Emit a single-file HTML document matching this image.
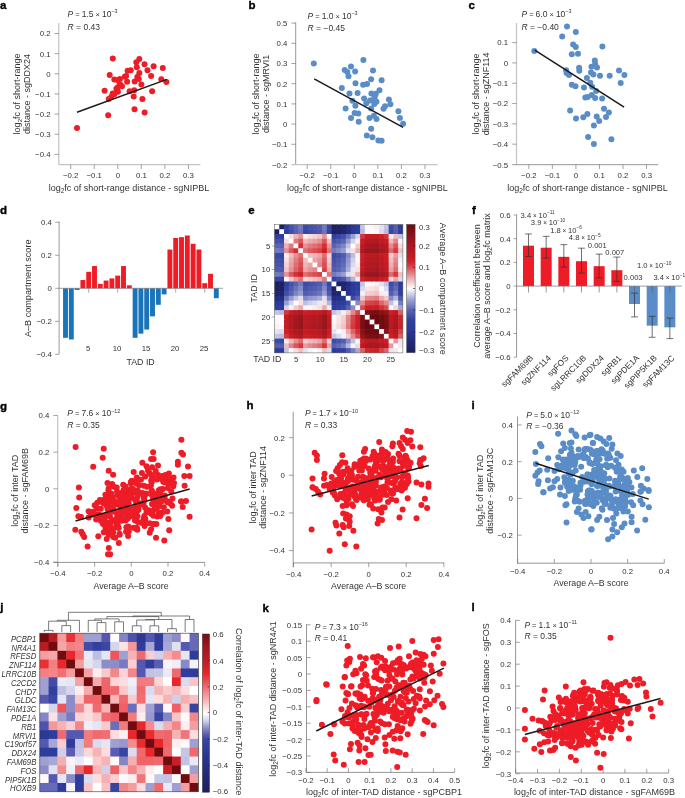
<!DOCTYPE html><html><head><meta charset="utf-8"><style>html,body{margin:0;padding:0;background:#fff;}svg{display:block;will-change:transform;}text{font-family:"Liberation Sans",sans-serif;}</style></head><body>
<svg width="685" height="798" viewBox="0 0 685 798">
<rect width="685" height="798" fill="#fff"/>
<text x="0.00" y="9.30" font-size="11.5" font-weight="bold" fill="#000" stroke="#000" stroke-width="0.35">a</text>
<line x1="58.80" y1="23.00" x2="58.80" y2="164.70" stroke="#c4c4c4" stroke-width="1.2" stroke-linecap="butt"/>
<line x1="58.80" y1="164.70" x2="200.40" y2="164.70" stroke="#c4c4c4" stroke-width="1.2" stroke-linecap="butt"/>
<line x1="54.50" y1="33.50" x2="58.80" y2="33.50" stroke="#666" stroke-width="0.6" stroke-linecap="butt"/>
<text x="50.50" y="36.40" font-size="7.8" text-anchor="end" fill="#333" font-weight="normal" font-style="normal">0.2</text>
<line x1="54.50" y1="53.65" x2="58.80" y2="53.65" stroke="#666" stroke-width="0.6" stroke-linecap="butt"/>
<text x="50.50" y="56.55" font-size="7.8" text-anchor="end" fill="#333" font-weight="normal" font-style="normal">0.1</text>
<line x1="54.50" y1="73.80" x2="58.80" y2="73.80" stroke="#666" stroke-width="0.6" stroke-linecap="butt"/>
<text x="50.50" y="76.70" font-size="7.8" text-anchor="end" fill="#333" font-weight="normal" font-style="normal">0</text>
<line x1="54.50" y1="93.95" x2="58.80" y2="93.95" stroke="#666" stroke-width="0.6" stroke-linecap="butt"/>
<text x="50.50" y="96.85" font-size="7.8" text-anchor="end" fill="#333" font-weight="normal" font-style="normal">−0.1</text>
<line x1="54.50" y1="114.10" x2="58.80" y2="114.10" stroke="#666" stroke-width="0.6" stroke-linecap="butt"/>
<text x="50.50" y="117.00" font-size="7.8" text-anchor="end" fill="#333" font-weight="normal" font-style="normal">−0.2</text>
<line x1="54.50" y1="134.25" x2="58.80" y2="134.25" stroke="#666" stroke-width="0.6" stroke-linecap="butt"/>
<text x="50.50" y="137.15" font-size="7.8" text-anchor="end" fill="#333" font-weight="normal" font-style="normal">−0.3</text>
<line x1="54.50" y1="154.40" x2="58.80" y2="154.40" stroke="#666" stroke-width="0.6" stroke-linecap="butt"/>
<text x="50.50" y="157.30" font-size="7.8" text-anchor="end" fill="#333" font-weight="normal" font-style="normal">−0.4</text>
<line x1="70.70" y1="164.70" x2="70.70" y2="169.00" stroke="#666" stroke-width="0.6" stroke-linecap="butt"/>
<text x="70.70" y="178.30" font-size="7.8" text-anchor="middle" fill="#333" font-weight="normal" font-style="normal">−0.2</text>
<line x1="94.25" y1="164.70" x2="94.25" y2="169.00" stroke="#666" stroke-width="0.6" stroke-linecap="butt"/>
<text x="94.25" y="178.30" font-size="7.8" text-anchor="middle" fill="#333" font-weight="normal" font-style="normal">−0.1</text>
<line x1="117.80" y1="164.70" x2="117.80" y2="169.00" stroke="#666" stroke-width="0.6" stroke-linecap="butt"/>
<text x="117.80" y="178.30" font-size="7.8" text-anchor="middle" fill="#333" font-weight="normal" font-style="normal">0</text>
<line x1="141.35" y1="164.70" x2="141.35" y2="169.00" stroke="#666" stroke-width="0.6" stroke-linecap="butt"/>
<text x="141.35" y="178.30" font-size="7.8" text-anchor="middle" fill="#333" font-weight="normal" font-style="normal">0.1</text>
<line x1="164.90" y1="164.70" x2="164.90" y2="169.00" stroke="#666" stroke-width="0.6" stroke-linecap="butt"/>
<text x="164.90" y="178.30" font-size="7.8" text-anchor="middle" fill="#333" font-weight="normal" font-style="normal">0.2</text>
<line x1="188.45" y1="164.70" x2="188.45" y2="169.00" stroke="#666" stroke-width="0.6" stroke-linecap="butt"/>
<text x="188.45" y="178.30" font-size="7.8" text-anchor="middle" fill="#333" font-weight="normal" font-style="normal">0.3</text>
<text x="67.60" y="17.00" font-size="8.5" text-anchor="start" fill="#333" font-weight="normal" font-style="normal"><tspan font-style="italic">P</tspan><tspan font-size="7.4"> = </tspan>1.5<tspan font-size="7.4"> × </tspan>10<tspan dy="-3.6" font-size="5.4">−3</tspan></text>
<text x="67.60" y="29.80" font-size="8.5" text-anchor="start" fill="#333" font-weight="normal" font-style="normal"><tspan font-style="italic">R</tspan> = 0.43</text>
<circle cx="77.00" cy="128.10" r="3.0" fill="#ed1c26"/>
<circle cx="108.20" cy="115.30" r="3.0" fill="#ed1c26"/>
<circle cx="134.50" cy="109.20" r="3.0" fill="#ed1c26"/>
<circle cx="144.60" cy="112.40" r="3.0" fill="#ed1c26"/>
<circle cx="112.80" cy="58.60" r="3.0" fill="#ed1c26"/>
<circle cx="139.30" cy="59.10" r="3.0" fill="#ed1c26"/>
<circle cx="136.30" cy="62.20" r="3.0" fill="#ed1c26"/>
<circle cx="144.50" cy="64.20" r="3.0" fill="#ed1c26"/>
<circle cx="153.60" cy="66.20" r="3.0" fill="#ed1c26"/>
<circle cx="162.80" cy="68.10" r="3.0" fill="#ed1c26"/>
<circle cx="136.80" cy="67.30" r="3.0" fill="#ed1c26"/>
<circle cx="147.50" cy="70.30" r="3.0" fill="#ed1c26"/>
<circle cx="127.60" cy="70.80" r="3.0" fill="#ed1c26"/>
<circle cx="130.70" cy="70.30" r="3.0" fill="#ed1c26"/>
<circle cx="139.30" cy="72.90" r="3.0" fill="#ed1c26"/>
<circle cx="109.70" cy="74.90" r="3.0" fill="#ed1c26"/>
<circle cx="151.10" cy="75.90" r="3.0" fill="#ed1c26"/>
<circle cx="126.10" cy="76.00" r="3.0" fill="#ed1c26"/>
<circle cx="137.30" cy="77.00" r="3.0" fill="#ed1c26"/>
<circle cx="114.30" cy="79.50" r="3.0" fill="#ed1c26"/>
<circle cx="119.90" cy="79.00" r="3.0" fill="#ed1c26"/>
<circle cx="127.10" cy="81.80" r="3.0" fill="#ed1c26"/>
<circle cx="134.70" cy="81.60" r="3.0" fill="#ed1c26"/>
<circle cx="138.80" cy="79.00" r="3.0" fill="#ed1c26"/>
<circle cx="161.30" cy="79.30" r="3.0" fill="#ed1c26"/>
<circle cx="166.40" cy="82.10" r="3.0" fill="#ed1c26"/>
<circle cx="141.40" cy="84.60" r="3.0" fill="#ed1c26"/>
<circle cx="119.90" cy="84.60" r="3.0" fill="#ed1c26"/>
<circle cx="122.00" cy="86.20" r="3.0" fill="#ed1c26"/>
<circle cx="116.40" cy="88.70" r="3.0" fill="#ed1c26"/>
<circle cx="104.60" cy="90.80" r="3.0" fill="#ed1c26"/>
<circle cx="129.60" cy="91.30" r="3.0" fill="#ed1c26"/>
<circle cx="134.20" cy="90.30" r="3.0" fill="#ed1c26"/>
<circle cx="152.10" cy="91.30" r="3.0" fill="#ed1c26"/>
<circle cx="117.90" cy="91.80" r="3.0" fill="#ed1c26"/>
<circle cx="114.30" cy="94.30" r="3.0" fill="#ed1c26"/>
<circle cx="133.70" cy="96.40" r="3.0" fill="#ed1c26"/>
<circle cx="111.20" cy="96.90" r="3.0" fill="#ed1c26"/>
<circle cx="142.40" cy="99.00" r="3.0" fill="#ed1c26"/>
<circle cx="108.70" cy="99.10" r="3.0" fill="#ed1c26"/>
<circle cx="117.80" cy="80.30" r="3.0" fill="#ed1c26"/>
<circle cx="120.40" cy="84.70" r="3.0" fill="#ed1c26"/>
<circle cx="117.80" cy="87.30" r="3.0" fill="#ed1c26"/>
<circle cx="112.60" cy="93.40" r="3.0" fill="#ed1c26"/>
<circle cx="124.80" cy="76.80" r="3.0" fill="#ed1c26"/>
<line x1="77.00" y1="112.20" x2="166.90" y2="79.40" stroke="#1a1a1a" stroke-width="1.5" stroke-linecap="butt"/>
<text x="248.60" y="9.00" font-size="11.5" font-weight="bold" fill="#000" stroke="#000" stroke-width="0.35">b</text>
<line x1="295.70" y1="22.40" x2="295.70" y2="164.70" stroke="#7c7c7c" stroke-width="0.8" stroke-linecap="butt"/>
<line x1="291.40" y1="164.70" x2="437.60" y2="164.70" stroke="#c4c4c4" stroke-width="1.2" stroke-linecap="butt"/>
<line x1="291.40" y1="23.10" x2="295.70" y2="23.10" stroke="#666" stroke-width="0.6" stroke-linecap="butt"/>
<text x="287.40" y="26.00" font-size="7.8" text-anchor="end" fill="#333" font-weight="normal" font-style="normal">0.5</text>
<line x1="291.40" y1="43.30" x2="295.70" y2="43.30" stroke="#666" stroke-width="0.6" stroke-linecap="butt"/>
<text x="287.40" y="46.20" font-size="7.8" text-anchor="end" fill="#333" font-weight="normal" font-style="normal">0.4</text>
<line x1="291.40" y1="63.50" x2="295.70" y2="63.50" stroke="#666" stroke-width="0.6" stroke-linecap="butt"/>
<text x="287.40" y="66.40" font-size="7.8" text-anchor="end" fill="#333" font-weight="normal" font-style="normal">0.3</text>
<line x1="291.40" y1="83.70" x2="295.70" y2="83.70" stroke="#666" stroke-width="0.6" stroke-linecap="butt"/>
<text x="287.40" y="86.60" font-size="7.8" text-anchor="end" fill="#333" font-weight="normal" font-style="normal">0.2</text>
<line x1="291.40" y1="103.90" x2="295.70" y2="103.90" stroke="#666" stroke-width="0.6" stroke-linecap="butt"/>
<text x="287.40" y="106.80" font-size="7.8" text-anchor="end" fill="#333" font-weight="normal" font-style="normal">0.1</text>
<line x1="291.40" y1="124.10" x2="295.70" y2="124.10" stroke="#666" stroke-width="0.6" stroke-linecap="butt"/>
<text x="287.40" y="127.00" font-size="7.8" text-anchor="end" fill="#333" font-weight="normal" font-style="normal">0</text>
<line x1="291.40" y1="144.30" x2="295.70" y2="144.30" stroke="#666" stroke-width="0.6" stroke-linecap="butt"/>
<text x="287.40" y="147.20" font-size="7.8" text-anchor="end" fill="#333" font-weight="normal" font-style="normal">−0.1</text>
<line x1="307.20" y1="164.70" x2="307.20" y2="169.00" stroke="#666" stroke-width="0.6" stroke-linecap="butt"/>
<text x="307.20" y="178.30" font-size="7.8" text-anchor="middle" fill="#333" font-weight="normal" font-style="normal">−0.2</text>
<line x1="330.75" y1="164.70" x2="330.75" y2="169.00" stroke="#666" stroke-width="0.6" stroke-linecap="butt"/>
<text x="330.75" y="178.30" font-size="7.8" text-anchor="middle" fill="#333" font-weight="normal" font-style="normal">−0.1</text>
<line x1="354.30" y1="164.70" x2="354.30" y2="169.00" stroke="#666" stroke-width="0.6" stroke-linecap="butt"/>
<text x="354.30" y="178.30" font-size="7.8" text-anchor="middle" fill="#333" font-weight="normal" font-style="normal">0</text>
<line x1="377.85" y1="164.70" x2="377.85" y2="169.00" stroke="#666" stroke-width="0.6" stroke-linecap="butt"/>
<text x="377.85" y="178.30" font-size="7.8" text-anchor="middle" fill="#333" font-weight="normal" font-style="normal">0.1</text>
<line x1="401.40" y1="164.70" x2="401.40" y2="169.00" stroke="#666" stroke-width="0.6" stroke-linecap="butt"/>
<text x="401.40" y="178.30" font-size="7.8" text-anchor="middle" fill="#333" font-weight="normal" font-style="normal">0.2</text>
<line x1="424.95" y1="164.70" x2="424.95" y2="169.00" stroke="#666" stroke-width="0.6" stroke-linecap="butt"/>
<text x="424.95" y="178.30" font-size="7.8" text-anchor="middle" fill="#333" font-weight="normal" font-style="normal">0.3</text>
<text x="287.40" y="167.60" font-size="7.8" text-anchor="end" fill="#333" font-weight="normal" font-style="normal">−0.2</text>
<text x="307.60" y="18.80" font-size="8.5" text-anchor="start" fill="#333" font-weight="normal" font-style="normal"><tspan font-style="italic">P</tspan><tspan font-size="7.4"> = </tspan>1.0<tspan font-size="7.4"> × </tspan>10<tspan dy="-3.6" font-size="5.4">−3</tspan></text>
<text x="307.60" y="31.40" font-size="8.5" text-anchor="start" fill="#333" font-weight="normal" font-style="normal"><tspan font-style="italic">R</tspan> = −0.45</text>
<circle cx="313.80" cy="63.60" r="3.0" fill="#5a8dc7"/>
<circle cx="363.40" cy="59.90" r="3.0" fill="#5a8dc7"/>
<circle cx="351.00" cy="66.40" r="3.0" fill="#5a8dc7"/>
<circle cx="344.70" cy="70.10" r="3.0" fill="#5a8dc7"/>
<circle cx="347.30" cy="71.90" r="3.0" fill="#5a8dc7"/>
<circle cx="355.10" cy="71.50" r="3.0" fill="#5a8dc7"/>
<circle cx="373.00" cy="70.40" r="3.0" fill="#5a8dc7"/>
<circle cx="348.50" cy="76.30" r="3.0" fill="#5a8dc7"/>
<circle cx="371.10" cy="79.20" r="3.0" fill="#5a8dc7"/>
<circle cx="381.60" cy="80.20" r="3.0" fill="#5a8dc7"/>
<circle cx="355.50" cy="83.30" r="3.0" fill="#5a8dc7"/>
<circle cx="363.10" cy="84.70" r="3.0" fill="#5a8dc7"/>
<circle cx="367.00" cy="83.90" r="3.0" fill="#5a8dc7"/>
<circle cx="341.80" cy="88.00" r="3.0" fill="#5a8dc7"/>
<circle cx="379.50" cy="90.30" r="3.0" fill="#5a8dc7"/>
<circle cx="349.50" cy="93.50" r="3.0" fill="#5a8dc7"/>
<circle cx="357.60" cy="93.10" r="3.0" fill="#5a8dc7"/>
<circle cx="371.40" cy="93.40" r="3.0" fill="#5a8dc7"/>
<circle cx="375.80" cy="93.80" r="3.0" fill="#5a8dc7"/>
<circle cx="374.80" cy="96.70" r="3.0" fill="#5a8dc7"/>
<circle cx="364.10" cy="98.60" r="3.0" fill="#5a8dc7"/>
<circle cx="352.40" cy="100.80" r="3.0" fill="#5a8dc7"/>
<circle cx="370.00" cy="100.40" r="3.0" fill="#5a8dc7"/>
<circle cx="373.60" cy="99.60" r="3.0" fill="#5a8dc7"/>
<circle cx="376.50" cy="101.80" r="3.0" fill="#5a8dc7"/>
<circle cx="388.90" cy="99.60" r="3.0" fill="#5a8dc7"/>
<circle cx="366.30" cy="103.30" r="3.0" fill="#5a8dc7"/>
<circle cx="374.30" cy="104.00" r="3.0" fill="#5a8dc7"/>
<circle cx="390.40" cy="104.30" r="3.0" fill="#5a8dc7"/>
<circle cx="355.40" cy="105.80" r="3.0" fill="#5a8dc7"/>
<circle cx="385.00" cy="106.20" r="3.0" fill="#5a8dc7"/>
<circle cx="345.60" cy="108.40" r="3.0" fill="#5a8dc7"/>
<circle cx="383.50" cy="108.70" r="3.0" fill="#5a8dc7"/>
<circle cx="371.10" cy="108.40" r="3.0" fill="#5a8dc7"/>
<circle cx="398.40" cy="111.30" r="3.0" fill="#5a8dc7"/>
<circle cx="354.60" cy="113.10" r="3.0" fill="#5a8dc7"/>
<circle cx="358.30" cy="113.50" r="3.0" fill="#5a8dc7"/>
<circle cx="373.90" cy="115.70" r="3.0" fill="#5a8dc7"/>
<circle cx="369.50" cy="117.90" r="3.0" fill="#5a8dc7"/>
<circle cx="376.50" cy="118.90" r="3.0" fill="#5a8dc7"/>
<circle cx="351.00" cy="117.90" r="3.0" fill="#5a8dc7"/>
<circle cx="399.90" cy="117.90" r="3.0" fill="#5a8dc7"/>
<circle cx="358.70" cy="121.80" r="3.0" fill="#5a8dc7"/>
<circle cx="403.10" cy="123.70" r="3.0" fill="#5a8dc7"/>
<circle cx="371.10" cy="128.80" r="3.0" fill="#5a8dc7"/>
<circle cx="366.80" cy="135.40" r="3.0" fill="#5a8dc7"/>
<circle cx="372.40" cy="137.20" r="3.0" fill="#5a8dc7"/>
<circle cx="378.40" cy="140.50" r="3.0" fill="#5a8dc7"/>
<circle cx="381.60" cy="140.80" r="3.0" fill="#5a8dc7"/>
<line x1="314.20" y1="78.80" x2="403.10" y2="127.40" stroke="#1a1a1a" stroke-width="1.5" stroke-linecap="butt"/>
<text x="468.60" y="9.30" font-size="11.5" font-weight="bold" fill="#000" stroke="#000" stroke-width="0.35">c</text>
<line x1="516.50" y1="23.00" x2="516.50" y2="164.70" stroke="#c4c4c4" stroke-width="1.2" stroke-linecap="butt"/>
<line x1="512.20" y1="164.70" x2="658.20" y2="164.70" stroke="#7c7c7c" stroke-width="0.8" stroke-linecap="butt"/>
<line x1="512.20" y1="42.58" x2="516.50" y2="42.58" stroke="#666" stroke-width="0.6" stroke-linecap="butt"/>
<text x="508.20" y="45.48" font-size="7.8" text-anchor="end" fill="#333" font-weight="normal" font-style="normal">0.1</text>
<line x1="512.20" y1="62.90" x2="516.50" y2="62.90" stroke="#666" stroke-width="0.6" stroke-linecap="butt"/>
<text x="508.20" y="65.80" font-size="7.8" text-anchor="end" fill="#333" font-weight="normal" font-style="normal">0</text>
<line x1="512.20" y1="83.22" x2="516.50" y2="83.22" stroke="#666" stroke-width="0.6" stroke-linecap="butt"/>
<text x="508.20" y="86.12" font-size="7.8" text-anchor="end" fill="#333" font-weight="normal" font-style="normal">−0.1</text>
<line x1="512.20" y1="103.54" x2="516.50" y2="103.54" stroke="#666" stroke-width="0.6" stroke-linecap="butt"/>
<text x="508.20" y="106.44" font-size="7.8" text-anchor="end" fill="#333" font-weight="normal" font-style="normal">−0.2</text>
<line x1="512.20" y1="123.86" x2="516.50" y2="123.86" stroke="#666" stroke-width="0.6" stroke-linecap="butt"/>
<text x="508.20" y="126.76" font-size="7.8" text-anchor="end" fill="#333" font-weight="normal" font-style="normal">−0.3</text>
<line x1="512.20" y1="144.18" x2="516.50" y2="144.18" stroke="#666" stroke-width="0.6" stroke-linecap="butt"/>
<text x="508.20" y="147.08" font-size="7.8" text-anchor="end" fill="#333" font-weight="normal" font-style="normal">−0.4</text>
<line x1="528.80" y1="164.70" x2="528.80" y2="169.00" stroke="#666" stroke-width="0.6" stroke-linecap="butt"/>
<text x="528.80" y="178.30" font-size="7.8" text-anchor="middle" fill="#333" font-weight="normal" font-style="normal">−0.2</text>
<line x1="552.35" y1="164.70" x2="552.35" y2="169.00" stroke="#666" stroke-width="0.6" stroke-linecap="butt"/>
<text x="552.35" y="178.30" font-size="7.8" text-anchor="middle" fill="#333" font-weight="normal" font-style="normal">−0.1</text>
<line x1="575.90" y1="164.70" x2="575.90" y2="169.00" stroke="#666" stroke-width="0.6" stroke-linecap="butt"/>
<text x="575.90" y="178.30" font-size="7.8" text-anchor="middle" fill="#333" font-weight="normal" font-style="normal">0</text>
<line x1="599.45" y1="164.70" x2="599.45" y2="169.00" stroke="#666" stroke-width="0.6" stroke-linecap="butt"/>
<text x="599.45" y="178.30" font-size="7.8" text-anchor="middle" fill="#333" font-weight="normal" font-style="normal">0.1</text>
<line x1="623.00" y1="164.70" x2="623.00" y2="169.00" stroke="#666" stroke-width="0.6" stroke-linecap="butt"/>
<text x="623.00" y="178.30" font-size="7.8" text-anchor="middle" fill="#333" font-weight="normal" font-style="normal">0.2</text>
<line x1="646.55" y1="164.70" x2="646.55" y2="169.00" stroke="#666" stroke-width="0.6" stroke-linecap="butt"/>
<text x="646.55" y="178.30" font-size="7.8" text-anchor="middle" fill="#333" font-weight="normal" font-style="normal">0.3</text>
<text x="508.20" y="167.60" font-size="7.8" text-anchor="end" fill="#333" font-weight="normal" font-style="normal">−0.5</text>
<text x="521.50" y="17.00" font-size="8.5" text-anchor="start" fill="#333" font-weight="normal" font-style="normal"><tspan font-style="italic">P</tspan><tspan font-size="7.4"> = </tspan>6.0<tspan font-size="7.4"> × </tspan>10<tspan dy="-3.6" font-size="5.4">−3</tspan></text>
<text x="521.50" y="29.80" font-size="8.5" text-anchor="start" fill="#333" font-weight="normal" font-style="normal"><tspan font-style="italic">R</tspan> = −0.40</text>
<circle cx="567.00" cy="26.50" r="3.0" fill="#5a8dc7"/>
<circle cx="575.80" cy="31.90" r="3.0" fill="#5a8dc7"/>
<circle cx="562.20" cy="36.60" r="3.0" fill="#5a8dc7"/>
<circle cx="534.30" cy="51.00" r="3.0" fill="#5a8dc7"/>
<circle cx="573.10" cy="44.40" r="3.0" fill="#5a8dc7"/>
<circle cx="575.80" cy="46.90" r="3.0" fill="#5a8dc7"/>
<circle cx="602.40" cy="46.40" r="3.0" fill="#5a8dc7"/>
<circle cx="571.80" cy="54.20" r="3.0" fill="#5a8dc7"/>
<circle cx="578.00" cy="53.70" r="3.0" fill="#5a8dc7"/>
<circle cx="594.80" cy="60.40" r="3.0" fill="#5a8dc7"/>
<circle cx="595.10" cy="64.00" r="3.0" fill="#5a8dc7"/>
<circle cx="591.50" cy="66.80" r="3.0" fill="#5a8dc7"/>
<circle cx="597.00" cy="67.60" r="3.0" fill="#5a8dc7"/>
<circle cx="579.10" cy="67.80" r="3.0" fill="#5a8dc7"/>
<circle cx="579.30" cy="70.80" r="3.0" fill="#5a8dc7"/>
<circle cx="566.10" cy="70.20" r="3.0" fill="#5a8dc7"/>
<circle cx="566.60" cy="73.00" r="3.0" fill="#5a8dc7"/>
<circle cx="569.00" cy="75.10" r="3.0" fill="#5a8dc7"/>
<circle cx="591.00" cy="72.50" r="3.0" fill="#5a8dc7"/>
<circle cx="593.40" cy="74.60" r="3.0" fill="#5a8dc7"/>
<circle cx="600.00" cy="75.70" r="3.0" fill="#5a8dc7"/>
<circle cx="609.70" cy="75.70" r="3.0" fill="#5a8dc7"/>
<circle cx="619.00" cy="70.50" r="3.0" fill="#5a8dc7"/>
<circle cx="624.40" cy="75.10" r="3.0" fill="#5a8dc7"/>
<circle cx="586.90" cy="77.90" r="3.0" fill="#5a8dc7"/>
<circle cx="620.70" cy="83.10" r="3.0" fill="#5a8dc7"/>
<circle cx="590.20" cy="82.70" r="3.0" fill="#5a8dc7"/>
<circle cx="571.80" cy="84.70" r="3.0" fill="#5a8dc7"/>
<circle cx="575.50" cy="86.30" r="3.0" fill="#5a8dc7"/>
<circle cx="584.00" cy="87.60" r="3.0" fill="#5a8dc7"/>
<circle cx="592.10" cy="86.80" r="3.0" fill="#5a8dc7"/>
<circle cx="596.20" cy="90.90" r="3.0" fill="#5a8dc7"/>
<circle cx="591.80" cy="95.00" r="3.0" fill="#5a8dc7"/>
<circle cx="585.30" cy="97.40" r="3.0" fill="#5a8dc7"/>
<circle cx="587.70" cy="96.90" r="3.0" fill="#5a8dc7"/>
<circle cx="595.10" cy="97.90" r="3.0" fill="#5a8dc7"/>
<circle cx="602.10" cy="98.60" r="3.0" fill="#5a8dc7"/>
<circle cx="604.00" cy="108.80" r="3.0" fill="#5a8dc7"/>
<circle cx="608.90" cy="112.40" r="3.0" fill="#5a8dc7"/>
<circle cx="570.10" cy="110.40" r="3.0" fill="#5a8dc7"/>
<circle cx="587.40" cy="114.00" r="3.0" fill="#5a8dc7"/>
<circle cx="583.30" cy="117.30" r="3.0" fill="#5a8dc7"/>
<circle cx="576.00" cy="118.60" r="3.0" fill="#5a8dc7"/>
<circle cx="596.70" cy="116.50" r="3.0" fill="#5a8dc7"/>
<circle cx="599.20" cy="121.00" r="3.0" fill="#5a8dc7"/>
<circle cx="606.00" cy="117.00" r="3.0" fill="#5a8dc7"/>
<circle cx="593.90" cy="125.40" r="3.0" fill="#5a8dc7"/>
<circle cx="588.10" cy="136.90" r="3.0" fill="#5a8dc7"/>
<circle cx="611.40" cy="139.30" r="3.0" fill="#5a8dc7"/>
<circle cx="593.90" cy="143.90" r="3.0" fill="#5a8dc7"/>
<line x1="534.80" y1="50.10" x2="624.10" y2="107.20" stroke="#1a1a1a" stroke-width="1.5" stroke-linecap="butt"/>
<text x="19.70" y="93.90" font-size="9.0" text-anchor="middle" fill="#333" font-weight="normal" font-style="normal" transform="rotate(-90 19.70 93.90)">log<tspan dy="2" font-size="6.12">2</tspan><tspan dy="-2">fc</tspan> of short-range</text>
<text x="29.70" y="93.90" font-size="9.0" text-anchor="middle" fill="#333" font-weight="normal" font-style="normal" transform="rotate(-90 29.70 93.90)">distance - sgDDX24</text>
<text x="259.00" y="93.90" font-size="9.0" text-anchor="middle" fill="#333" font-weight="normal" font-style="normal" transform="rotate(-90 259.00 93.90)">log<tspan dy="2" font-size="6.12">2</tspan><tspan dy="-2">fc</tspan> of short-range</text>
<text x="269.00" y="93.90" font-size="9.0" text-anchor="middle" fill="#333" font-weight="normal" font-style="normal" transform="rotate(-90 269.00 93.90)">distance - sgMRVI1</text>
<text x="479.00" y="93.90" font-size="9.0" text-anchor="middle" fill="#333" font-weight="normal" font-style="normal" transform="rotate(-90 479.00 93.90)">log<tspan dy="2" font-size="6.12">2</tspan><tspan dy="-2">fc</tspan> of short-range</text>
<text x="489.00" y="93.90" font-size="9.0" text-anchor="middle" fill="#333" font-weight="normal" font-style="normal" transform="rotate(-90 489.00 93.90)">distance - sgZNF114</text>
<text x="129.00" y="191.00" font-size="9.0" text-anchor="middle" fill="#333" font-weight="normal" font-style="normal">log<tspan dy="2" font-size="6.48">2</tspan><tspan dy="-2">fc</tspan> of short-range distance - sgNIPBL</text>
<text x="367.40" y="191.00" font-size="9.0" text-anchor="middle" fill="#333" font-weight="normal" font-style="normal">log<tspan dy="2" font-size="6.48">2</tspan><tspan dy="-2">fc</tspan> of short-range distance - sgNIPBL</text>
<text x="587.50" y="191.00" font-size="9.0" text-anchor="middle" fill="#333" font-weight="normal" font-style="normal">log<tspan dy="2" font-size="6.48">2</tspan><tspan dy="-2">fc</tspan> of short-range distance - sgNIPBL</text>
<text x="0.00" y="213.80" font-size="11.5" font-weight="bold" fill="#000" stroke="#000" stroke-width="0.35">d</text>
<line x1="59.10" y1="221.30" x2="59.10" y2="354.30" stroke="#8a8a8a" stroke-width="0.85" stroke-linecap="butt"/>
<line x1="55.20" y1="222.30" x2="59.10" y2="222.30" stroke="#666" stroke-width="0.6" stroke-linecap="butt"/>
<text x="51.90" y="225.20" font-size="7.8" text-anchor="end" fill="#333" font-weight="normal" font-style="normal">0.4</text>
<line x1="55.20" y1="255.30" x2="59.10" y2="255.30" stroke="#666" stroke-width="0.6" stroke-linecap="butt"/>
<text x="51.90" y="258.20" font-size="7.8" text-anchor="end" fill="#333" font-weight="normal" font-style="normal">0.2</text>
<line x1="55.20" y1="288.30" x2="59.10" y2="288.30" stroke="#666" stroke-width="0.6" stroke-linecap="butt"/>
<text x="51.90" y="291.20" font-size="7.8" text-anchor="end" fill="#333" font-weight="normal" font-style="normal">0</text>
<line x1="55.20" y1="321.30" x2="59.10" y2="321.30" stroke="#666" stroke-width="0.6" stroke-linecap="butt"/>
<text x="51.90" y="324.20" font-size="7.8" text-anchor="end" fill="#333" font-weight="normal" font-style="normal">−0.2</text>
<line x1="55.20" y1="354.30" x2="59.10" y2="354.30" stroke="#666" stroke-width="0.6" stroke-linecap="butt"/>
<text x="51.90" y="357.20" font-size="7.8" text-anchor="end" fill="#333" font-weight="normal" font-style="normal">−0.4</text>
<rect x="63.05" y="288.30" width="4.90" height="49.50" fill="#1a74ba"/>
<rect x="68.85" y="288.30" width="4.90" height="51.15" fill="#1a74ba"/>
<rect x="74.65" y="288.30" width="4.90" height="1.65" fill="#1a74ba"/>
<rect x="80.45" y="280.05" width="4.90" height="8.25" fill="#ed1c26"/>
<rect x="86.25" y="271.80" width="4.90" height="16.50" fill="#ed1c26"/>
<rect x="92.05" y="266.03" width="4.90" height="22.27" fill="#ed1c26"/>
<rect x="97.85" y="283.85" width="4.90" height="4.45" fill="#ed1c26"/>
<rect x="103.65" y="280.55" width="4.90" height="7.75" fill="#ed1c26"/>
<rect x="109.45" y="278.40" width="4.90" height="9.90" fill="#ed1c26"/>
<rect x="115.25" y="275.60" width="4.90" height="12.70" fill="#ed1c26"/>
<rect x="121.05" y="266.03" width="4.90" height="22.27" fill="#ed1c26"/>
<rect x="126.85" y="285.33" width="4.90" height="2.97" fill="#ed1c26"/>
<rect x="132.65" y="288.30" width="4.90" height="49.50" fill="#1a74ba"/>
<rect x="138.45" y="288.30" width="4.90" height="45.38" fill="#1a74ba"/>
<rect x="144.25" y="288.30" width="4.90" height="41.25" fill="#1a74ba"/>
<rect x="150.05" y="288.30" width="4.90" height="28.05" fill="#1a74ba"/>
<rect x="155.85" y="288.30" width="4.90" height="16.50" fill="#1a74ba"/>
<rect x="161.65" y="288.30" width="4.90" height="6.11" fill="#1a74ba"/>
<rect x="167.45" y="249.53" width="4.90" height="38.78" fill="#ed1c26"/>
<rect x="173.25" y="237.98" width="4.90" height="50.32" fill="#ed1c26"/>
<rect x="179.05" y="237.15" width="4.90" height="51.15" fill="#ed1c26"/>
<rect x="184.85" y="235.50" width="4.90" height="52.80" fill="#ed1c26"/>
<rect x="190.65" y="243.75" width="4.90" height="44.55" fill="#ed1c26"/>
<rect x="196.45" y="249.53" width="4.90" height="38.78" fill="#ed1c26"/>
<rect x="202.25" y="283.19" width="4.90" height="5.12" fill="#ed1c26"/>
<rect x="208.05" y="273.78" width="4.90" height="14.52" fill="#ed1c26"/>
<rect x="213.85" y="288.30" width="4.90" height="9.90" fill="#1a74ba"/>
<line x1="59.10" y1="288.30" x2="222.90" y2="288.30" stroke="#777" stroke-width="0.7" stroke-linecap="butt"/>
<line x1="88.70" y1="288.30" x2="88.70" y2="292.80" stroke="#777" stroke-width="0.6" stroke-linecap="butt"/>
<text x="88.10" y="351.20" font-size="7.8" text-anchor="middle" fill="#333" font-weight="normal" font-style="normal">5</text>
<line x1="117.70" y1="288.30" x2="117.70" y2="292.80" stroke="#777" stroke-width="0.6" stroke-linecap="butt"/>
<text x="117.10" y="351.20" font-size="7.8" text-anchor="middle" fill="#333" font-weight="normal" font-style="normal">10</text>
<line x1="146.70" y1="288.30" x2="146.70" y2="292.80" stroke="#777" stroke-width="0.6" stroke-linecap="butt"/>
<text x="146.10" y="351.20" font-size="7.8" text-anchor="middle" fill="#333" font-weight="normal" font-style="normal">15</text>
<line x1="175.70" y1="288.30" x2="175.70" y2="292.80" stroke="#777" stroke-width="0.6" stroke-linecap="butt"/>
<text x="175.10" y="351.20" font-size="7.8" text-anchor="middle" fill="#333" font-weight="normal" font-style="normal">20</text>
<line x1="204.70" y1="288.30" x2="204.70" y2="292.80" stroke="#777" stroke-width="0.6" stroke-linecap="butt"/>
<text x="204.10" y="351.20" font-size="7.8" text-anchor="middle" fill="#333" font-weight="normal" font-style="normal">25</text>
<text x="140.60" y="365.00" font-size="8.8" text-anchor="middle" fill="#333" font-weight="normal" font-style="normal">TAD ID</text>
<text x="30.90" y="288.30" font-size="9.1" text-anchor="middle" fill="#333" font-weight="normal" font-style="normal" transform="rotate(-90 30.90 288.30)">A–B compartment score</text>
<text x="248.30" y="214.40" font-size="11.5" font-weight="bold" fill="#000" stroke="#000" stroke-width="0.35">e</text>
<rect x="274.50" y="224.50" width="5.36" height="5.36" fill="#ffffff"/>
<rect x="279.26" y="224.50" width="5.36" height="5.36" fill="#1c2060"/>
<rect x="284.01" y="224.50" width="5.36" height="5.36" fill="#2f3f9f"/>
<rect x="288.77" y="224.50" width="5.36" height="5.36" fill="#4552aa"/>
<rect x="293.52" y="224.50" width="5.36" height="5.36" fill="#5963b4"/>
<rect x="298.28" y="224.50" width="5.36" height="5.36" fill="#727abf"/>
<rect x="303.03" y="224.50" width="5.36" height="5.36" fill="#3b4aa5"/>
<rect x="307.79" y="224.50" width="5.36" height="5.36" fill="#4351a9"/>
<rect x="312.54" y="224.50" width="5.36" height="5.36" fill="#4955ac"/>
<rect x="317.30" y="224.50" width="5.36" height="5.36" fill="#505baf"/>
<rect x="322.06" y="224.50" width="5.36" height="5.36" fill="#727abf"/>
<rect x="326.81" y="224.50" width="5.36" height="5.36" fill="#3746a4"/>
<rect x="331.57" y="224.50" width="5.36" height="5.36" fill="#1c2060"/>
<rect x="336.32" y="224.50" width="5.36" height="5.36" fill="#1d2266"/>
<rect x="341.08" y="224.50" width="5.36" height="5.36" fill="#1f256c"/>
<rect x="345.83" y="224.50" width="5.36" height="5.36" fill="#242e81"/>
<rect x="350.59" y="224.50" width="5.36" height="5.36" fill="#2a3898"/>
<rect x="355.34" y="224.50" width="5.36" height="5.36" fill="#2e3d9d"/>
<rect x="360.10" y="224.50" width="5.36" height="5.36" fill="#c2c5e4"/>
<rect x="364.86" y="224.50" width="5.36" height="5.36" fill="#fefbfb"/>
<rect x="369.61" y="224.50" width="5.36" height="5.36" fill="#fdf6f7"/>
<rect x="374.37" y="224.50" width="5.36" height="5.36" fill="#fbeeee"/>
<rect x="379.12" y="224.50" width="5.36" height="5.36" fill="#e3e4f2"/>
<rect x="383.88" y="224.50" width="5.36" height="5.36" fill="#c2c5e4"/>
<rect x="388.63" y="224.50" width="5.36" height="5.36" fill="#3d4ba6"/>
<rect x="393.39" y="224.50" width="5.36" height="5.36" fill="#545fb1"/>
<rect x="398.14" y="224.50" width="4.76" height="5.36" fill="#2c3b9b"/>
<rect x="274.50" y="229.26" width="5.36" height="5.36" fill="#1c2060"/>
<rect x="279.26" y="229.26" width="5.36" height="5.36" fill="#ffffff"/>
<rect x="284.01" y="229.26" width="5.36" height="5.36" fill="#2f3e9e"/>
<rect x="288.77" y="229.26" width="5.36" height="5.36" fill="#404ea8"/>
<rect x="293.52" y="229.26" width="5.36" height="5.36" fill="#5560b2"/>
<rect x="298.28" y="229.26" width="5.36" height="5.36" fill="#6b73bc"/>
<rect x="303.03" y="229.26" width="5.36" height="5.36" fill="#3746a3"/>
<rect x="307.79" y="229.26" width="5.36" height="5.36" fill="#3f4da7"/>
<rect x="312.54" y="229.26" width="5.36" height="5.36" fill="#4552aa"/>
<rect x="317.30" y="229.26" width="5.36" height="5.36" fill="#4c58ad"/>
<rect x="322.06" y="229.26" width="5.36" height="5.36" fill="#6b73bc"/>
<rect x="326.81" y="229.26" width="5.36" height="5.36" fill="#3343a2"/>
<rect x="331.57" y="229.26" width="5.36" height="5.36" fill="#1c2060"/>
<rect x="336.32" y="229.26" width="5.36" height="5.36" fill="#1d2164"/>
<rect x="341.08" y="229.26" width="5.36" height="5.36" fill="#1e2469"/>
<rect x="345.83" y="229.26" width="5.36" height="5.36" fill="#242d7e"/>
<rect x="350.59" y="229.26" width="5.36" height="5.36" fill="#293795"/>
<rect x="355.34" y="229.26" width="5.36" height="5.36" fill="#2d3c9c"/>
<rect x="360.10" y="229.26" width="5.36" height="5.36" fill="#b9bcdf"/>
<rect x="364.86" y="229.26" width="5.36" height="5.36" fill="#fafbfd"/>
<rect x="369.61" y="229.26" width="5.36" height="5.36" fill="#ffffff"/>
<rect x="374.37" y="229.26" width="5.36" height="5.36" fill="#fdf6f7"/>
<rect x="379.12" y="229.26" width="5.36" height="5.36" fill="#dadbee"/>
<rect x="383.88" y="229.26" width="5.36" height="5.36" fill="#b9bcdf"/>
<rect x="388.63" y="229.26" width="5.36" height="5.36" fill="#3947a4"/>
<rect x="393.39" y="229.26" width="5.36" height="5.36" fill="#505caf"/>
<rect x="398.14" y="229.26" width="4.76" height="5.36" fill="#2c3b9b"/>
<rect x="274.50" y="234.01" width="5.36" height="5.36" fill="#2f3f9f"/>
<rect x="279.26" y="234.01" width="5.36" height="5.36" fill="#2f3e9e"/>
<rect x="284.01" y="234.01" width="5.36" height="5.36" fill="#ffffff"/>
<rect x="288.77" y="234.01" width="5.36" height="5.36" fill="#f7ddde"/>
<rect x="293.52" y="234.01" width="5.36" height="5.36" fill="#ecb2b4"/>
<rect x="298.28" y="234.01" width="5.36" height="5.36" fill="#e69194"/>
<rect x="303.03" y="234.01" width="5.36" height="5.36" fill="#fcf0f1"/>
<rect x="307.79" y="234.01" width="5.36" height="5.36" fill="#f7dfe0"/>
<rect x="312.54" y="234.01" width="5.36" height="5.36" fill="#f5d4d5"/>
<rect x="317.30" y="234.01" width="5.36" height="5.36" fill="#f1c6c7"/>
<rect x="322.06" y="234.01" width="5.36" height="5.36" fill="#e69194"/>
<rect x="326.81" y="234.01" width="5.36" height="5.36" fill="#fdf8f8"/>
<rect x="331.57" y="234.01" width="5.36" height="5.36" fill="#2f3f9f"/>
<rect x="336.32" y="234.01" width="5.36" height="5.36" fill="#3645a3"/>
<rect x="341.08" y="234.01" width="5.36" height="5.36" fill="#404ea8"/>
<rect x="345.83" y="234.01" width="5.36" height="5.36" fill="#6770ba"/>
<rect x="350.59" y="234.01" width="5.36" height="5.36" fill="#9a9fd1"/>
<rect x="355.34" y="234.01" width="5.36" height="5.36" fill="#d3d5eb"/>
<rect x="360.10" y="234.01" width="5.36" height="5.36" fill="#d4353c"/>
<rect x="364.86" y="234.01" width="5.36" height="5.36" fill="#c51c24"/>
<rect x="369.61" y="234.01" width="5.36" height="5.36" fill="#c41c24"/>
<rect x="374.37" y="234.01" width="5.36" height="5.36" fill="#c11c24"/>
<rect x="379.12" y="234.01" width="5.36" height="5.36" fill="#ce1f27"/>
<rect x="383.88" y="234.01" width="5.36" height="5.36" fill="#d4353c"/>
<rect x="388.63" y="234.01" width="5.36" height="5.36" fill="#fbedee"/>
<rect x="393.39" y="234.01" width="5.36" height="5.36" fill="#efbcbe"/>
<rect x="398.14" y="234.01" width="4.76" height="5.36" fill="#bec1e1"/>
<rect x="274.50" y="238.77" width="5.36" height="5.36" fill="#4552aa"/>
<rect x="279.26" y="238.77" width="5.36" height="5.36" fill="#404ea8"/>
<rect x="284.01" y="238.77" width="5.36" height="5.36" fill="#f7ddde"/>
<rect x="288.77" y="238.77" width="5.36" height="5.36" fill="#ffffff"/>
<rect x="293.52" y="238.77" width="5.36" height="5.36" fill="#e1797d"/>
<rect x="298.28" y="238.77" width="5.36" height="5.36" fill="#da575c"/>
<rect x="303.03" y="238.77" width="5.36" height="5.36" fill="#efbdbf"/>
<rect x="307.79" y="238.77" width="5.36" height="5.36" fill="#ebacae"/>
<rect x="312.54" y="238.77" width="5.36" height="5.36" fill="#e8a0a2"/>
<rect x="317.30" y="238.77" width="5.36" height="5.36" fill="#e59093"/>
<rect x="322.06" y="238.77" width="5.36" height="5.36" fill="#da575c"/>
<rect x="326.81" y="238.77" width="5.36" height="5.36" fill="#f1c5c6"/>
<rect x="331.57" y="238.77" width="5.36" height="5.36" fill="#4552aa"/>
<rect x="336.32" y="238.77" width="5.36" height="5.36" fill="#4f5aaf"/>
<rect x="341.08" y="238.77" width="5.36" height="5.36" fill="#5963b4"/>
<rect x="345.83" y="238.77" width="5.36" height="5.36" fill="#9398ce"/>
<rect x="350.59" y="238.77" width="5.36" height="5.36" fill="#d0d2ea"/>
<rect x="355.34" y="238.77" width="5.36" height="5.36" fill="#fcf4f4"/>
<rect x="360.10" y="238.77" width="5.36" height="5.36" fill="#c81d25"/>
<rect x="364.86" y="238.77" width="5.36" height="5.36" fill="#b51a22"/>
<rect x="369.61" y="238.77" width="5.36" height="5.36" fill="#b41a22"/>
<rect x="374.37" y="238.77" width="5.36" height="5.36" fill="#b11921"/>
<rect x="379.12" y="238.77" width="5.36" height="5.36" fill="#bf1b23"/>
<rect x="383.88" y="238.77" width="5.36" height="5.36" fill="#c81d25"/>
<rect x="388.63" y="238.77" width="5.36" height="5.36" fill="#eebabc"/>
<rect x="393.39" y="238.77" width="5.36" height="5.36" fill="#e38588"/>
<rect x="398.14" y="238.77" width="4.76" height="5.36" fill="#f6f6fb"/>
<rect x="274.50" y="243.52" width="5.36" height="5.36" fill="#5963b4"/>
<rect x="279.26" y="243.52" width="5.36" height="5.36" fill="#5560b2"/>
<rect x="284.01" y="243.52" width="5.36" height="5.36" fill="#ecb2b4"/>
<rect x="288.77" y="243.52" width="5.36" height="5.36" fill="#e1797d"/>
<rect x="293.52" y="243.52" width="5.36" height="5.36" fill="#ffffff"/>
<rect x="298.28" y="243.52" width="5.36" height="5.36" fill="#d32d35"/>
<rect x="303.03" y="243.52" width="5.36" height="5.36" fill="#e59093"/>
<rect x="307.79" y="243.52" width="5.36" height="5.36" fill="#e27c80"/>
<rect x="312.54" y="243.52" width="5.36" height="5.36" fill="#df6f74"/>
<rect x="317.30" y="243.52" width="5.36" height="5.36" fill="#dc5f64"/>
<rect x="322.06" y="243.52" width="5.36" height="5.36" fill="#d32d35"/>
<rect x="326.81" y="243.52" width="5.36" height="5.36" fill="#e7989b"/>
<rect x="331.57" y="243.52" width="5.36" height="5.36" fill="#5963b4"/>
<rect x="336.32" y="243.52" width="5.36" height="5.36" fill="#6b73bc"/>
<rect x="341.08" y="243.52" width="5.36" height="5.36" fill="#7d84c4"/>
<rect x="345.83" y="243.52" width="5.36" height="5.36" fill="#bec1e1"/>
<rect x="350.59" y="243.52" width="5.36" height="5.36" fill="#ffffff"/>
<rect x="355.34" y="243.52" width="5.36" height="5.36" fill="#f2c9ca"/>
<rect x="360.10" y="243.52" width="5.36" height="5.36" fill="#ba1b23"/>
<rect x="364.86" y="243.52" width="5.36" height="5.36" fill="#a71820"/>
<rect x="369.61" y="243.52" width="5.36" height="5.36" fill="#a5181f"/>
<rect x="374.37" y="243.52" width="5.36" height="5.36" fill="#a2171e"/>
<rect x="379.12" y="243.52" width="5.36" height="5.36" fill="#b11921"/>
<rect x="383.88" y="243.52" width="5.36" height="5.36" fill="#ba1b23"/>
<rect x="388.63" y="243.52" width="5.36" height="5.36" fill="#e58c8f"/>
<rect x="393.39" y="243.52" width="5.36" height="5.36" fill="#da5459"/>
<rect x="398.14" y="243.52" width="4.76" height="5.36" fill="#f7ddde"/>
<rect x="274.50" y="248.28" width="5.36" height="5.36" fill="#727abf"/>
<rect x="279.26" y="248.28" width="5.36" height="5.36" fill="#6b73bc"/>
<rect x="284.01" y="248.28" width="5.36" height="5.36" fill="#e69194"/>
<rect x="288.77" y="248.28" width="5.36" height="5.36" fill="#da575c"/>
<rect x="293.52" y="248.28" width="5.36" height="5.36" fill="#d32d35"/>
<rect x="298.28" y="248.28" width="5.36" height="5.36" fill="#ffffff"/>
<rect x="303.03" y="248.28" width="5.36" height="5.36" fill="#df6d72"/>
<rect x="307.79" y="248.28" width="5.36" height="5.36" fill="#db5a5f"/>
<rect x="312.54" y="248.28" width="5.36" height="5.36" fill="#d94d53"/>
<rect x="317.30" y="248.28" width="5.36" height="5.36" fill="#d63f46"/>
<rect x="322.06" y="248.28" width="5.36" height="5.36" fill="#cc1e26"/>
<rect x="326.81" y="248.28" width="5.36" height="5.36" fill="#e0767a"/>
<rect x="331.57" y="248.28" width="5.36" height="5.36" fill="#727abf"/>
<rect x="336.32" y="248.28" width="5.36" height="5.36" fill="#848bc7"/>
<rect x="341.08" y="248.28" width="5.36" height="5.36" fill="#979bd0"/>
<rect x="345.83" y="248.28" width="5.36" height="5.36" fill="#dee0f0"/>
<rect x="350.59" y="248.28" width="5.36" height="5.36" fill="#f8e1e2"/>
<rect x="355.34" y="248.28" width="5.36" height="5.36" fill="#ebabad"/>
<rect x="360.10" y="248.28" width="5.36" height="5.36" fill="#b11921"/>
<rect x="364.86" y="248.28" width="5.36" height="5.36" fill="#9c161d"/>
<rect x="369.61" y="248.28" width="5.36" height="5.36" fill="#9b161c"/>
<rect x="374.37" y="248.28" width="5.36" height="5.36" fill="#97161c"/>
<rect x="379.12" y="248.28" width="5.36" height="5.36" fill="#a71820"/>
<rect x="383.88" y="248.28" width="5.36" height="5.36" fill="#b11921"/>
<rect x="388.63" y="248.28" width="5.36" height="5.36" fill="#de696e"/>
<rect x="393.39" y="248.28" width="5.36" height="5.36" fill="#d4373d"/>
<rect x="398.14" y="248.28" width="4.76" height="5.36" fill="#f0bfc0"/>
<rect x="274.50" y="253.03" width="5.36" height="5.36" fill="#3b4aa5"/>
<rect x="279.26" y="253.03" width="5.36" height="5.36" fill="#3746a3"/>
<rect x="284.01" y="253.03" width="5.36" height="5.36" fill="#fcf0f1"/>
<rect x="288.77" y="253.03" width="5.36" height="5.36" fill="#efbdbf"/>
<rect x="293.52" y="253.03" width="5.36" height="5.36" fill="#e59093"/>
<rect x="298.28" y="253.03" width="5.36" height="5.36" fill="#df6d72"/>
<rect x="303.03" y="253.03" width="5.36" height="5.36" fill="#ffffff"/>
<rect x="307.79" y="253.03" width="5.36" height="5.36" fill="#f0c0c1"/>
<rect x="312.54" y="253.03" width="5.36" height="5.36" fill="#edb5b6"/>
<rect x="317.30" y="253.03" width="5.36" height="5.36" fill="#eaa6a8"/>
<rect x="322.06" y="253.03" width="5.36" height="5.36" fill="#df6d72"/>
<rect x="326.81" y="253.03" width="5.36" height="5.36" fill="#f6d9da"/>
<rect x="331.57" y="253.03" width="5.36" height="5.36" fill="#3b4aa5"/>
<rect x="336.32" y="253.03" width="5.36" height="5.36" fill="#4552aa"/>
<rect x="341.08" y="253.03" width="5.36" height="5.36" fill="#505baf"/>
<rect x="345.83" y="253.03" width="5.36" height="5.36" fill="#8289c6"/>
<rect x="350.59" y="253.03" width="5.36" height="5.36" fill="#bbbee0"/>
<rect x="355.34" y="253.03" width="5.36" height="5.36" fill="#f6f6fb"/>
<rect x="360.10" y="253.03" width="5.36" height="5.36" fill="#ce1f27"/>
<rect x="364.86" y="253.03" width="5.36" height="5.36" fill="#bb1b23"/>
<rect x="369.61" y="253.03" width="5.36" height="5.36" fill="#ba1b23"/>
<rect x="374.37" y="253.03" width="5.36" height="5.36" fill="#b71a22"/>
<rect x="379.12" y="253.03" width="5.36" height="5.36" fill="#c51c24"/>
<rect x="383.88" y="253.03" width="5.36" height="5.36" fill="#ce1f27"/>
<rect x="388.63" y="253.03" width="5.36" height="5.36" fill="#f3cecf"/>
<rect x="393.39" y="253.03" width="5.36" height="5.36" fill="#e89b9e"/>
<rect x="398.14" y="253.03" width="4.76" height="5.36" fill="#e0e2f1"/>
<rect x="274.50" y="257.79" width="5.36" height="5.36" fill="#4351a9"/>
<rect x="279.26" y="257.79" width="5.36" height="5.36" fill="#3f4da7"/>
<rect x="284.01" y="257.79" width="5.36" height="5.36" fill="#f7dfe0"/>
<rect x="288.77" y="257.79" width="5.36" height="5.36" fill="#ebacae"/>
<rect x="293.52" y="257.79" width="5.36" height="5.36" fill="#e27c80"/>
<rect x="298.28" y="257.79" width="5.36" height="5.36" fill="#db5a5f"/>
<rect x="303.03" y="257.79" width="5.36" height="5.36" fill="#f0c0c1"/>
<rect x="307.79" y="257.79" width="5.36" height="5.36" fill="#ffffff"/>
<rect x="312.54" y="257.79" width="5.36" height="5.36" fill="#e9a3a5"/>
<rect x="317.30" y="257.79" width="5.36" height="5.36" fill="#e69295"/>
<rect x="322.06" y="257.79" width="5.36" height="5.36" fill="#db5a5f"/>
<rect x="326.81" y="257.79" width="5.36" height="5.36" fill="#f2c8c9"/>
<rect x="331.57" y="257.79" width="5.36" height="5.36" fill="#4351a9"/>
<rect x="336.32" y="257.79" width="5.36" height="5.36" fill="#4e59ae"/>
<rect x="341.08" y="257.79" width="5.36" height="5.36" fill="#5862b3"/>
<rect x="345.83" y="257.79" width="5.36" height="5.36" fill="#9196cd"/>
<rect x="350.59" y="257.79" width="5.36" height="5.36" fill="#ced0e9"/>
<rect x="355.34" y="257.79" width="5.36" height="5.36" fill="#fdf6f7"/>
<rect x="360.10" y="257.79" width="5.36" height="5.36" fill="#c81e26"/>
<rect x="364.86" y="257.79" width="5.36" height="5.36" fill="#b61a22"/>
<rect x="369.61" y="257.79" width="5.36" height="5.36" fill="#b41a22"/>
<rect x="374.37" y="257.79" width="5.36" height="5.36" fill="#b21921"/>
<rect x="379.12" y="257.79" width="5.36" height="5.36" fill="#bf1b23"/>
<rect x="383.88" y="257.79" width="5.36" height="5.36" fill="#c81e26"/>
<rect x="388.63" y="257.79" width="5.36" height="5.36" fill="#efbcbe"/>
<rect x="393.39" y="257.79" width="5.36" height="5.36" fill="#e4888b"/>
<rect x="398.14" y="257.79" width="4.76" height="5.36" fill="#f3f3fa"/>
<rect x="274.50" y="262.54" width="5.36" height="5.36" fill="#4955ac"/>
<rect x="279.26" y="262.54" width="5.36" height="5.36" fill="#4552aa"/>
<rect x="284.01" y="262.54" width="5.36" height="5.36" fill="#f5d4d5"/>
<rect x="288.77" y="262.54" width="5.36" height="5.36" fill="#e8a0a2"/>
<rect x="293.52" y="262.54" width="5.36" height="5.36" fill="#df6f74"/>
<rect x="298.28" y="262.54" width="5.36" height="5.36" fill="#d94d53"/>
<rect x="303.03" y="262.54" width="5.36" height="5.36" fill="#edb5b6"/>
<rect x="307.79" y="262.54" width="5.36" height="5.36" fill="#e9a3a5"/>
<rect x="312.54" y="262.54" width="5.36" height="5.36" fill="#ffffff"/>
<rect x="317.30" y="262.54" width="5.36" height="5.36" fill="#e38689"/>
<rect x="322.06" y="262.54" width="5.36" height="5.36" fill="#d94d53"/>
<rect x="326.81" y="262.54" width="5.36" height="5.36" fill="#efbcbe"/>
<rect x="331.57" y="262.54" width="5.36" height="5.36" fill="#4955ac"/>
<rect x="336.32" y="262.54" width="5.36" height="5.36" fill="#535eb1"/>
<rect x="341.08" y="262.54" width="5.36" height="5.36" fill="#6069b7"/>
<rect x="345.83" y="262.54" width="5.36" height="5.36" fill="#9a9fd1"/>
<rect x="350.59" y="262.54" width="5.36" height="5.36" fill="#dadbee"/>
<rect x="355.34" y="262.54" width="5.36" height="5.36" fill="#faebec"/>
<rect x="360.10" y="262.54" width="5.36" height="5.36" fill="#c51c24"/>
<rect x="364.86" y="262.54" width="5.36" height="5.36" fill="#b21921"/>
<rect x="369.61" y="262.54" width="5.36" height="5.36" fill="#b11921"/>
<rect x="374.37" y="262.54" width="5.36" height="5.36" fill="#ae1921"/>
<rect x="379.12" y="262.54" width="5.36" height="5.36" fill="#bc1b23"/>
<rect x="383.88" y="262.54" width="5.36" height="5.36" fill="#c51c24"/>
<rect x="388.63" y="262.54" width="5.36" height="5.36" fill="#ecb1b3"/>
<rect x="393.39" y="262.54" width="5.36" height="5.36" fill="#e17b7f"/>
<rect x="398.14" y="262.54" width="4.76" height="5.36" fill="#ffffff"/>
<rect x="274.50" y="267.30" width="5.36" height="5.36" fill="#505baf"/>
<rect x="279.26" y="267.30" width="5.36" height="5.36" fill="#4c58ad"/>
<rect x="284.01" y="267.30" width="5.36" height="5.36" fill="#f1c6c7"/>
<rect x="288.77" y="267.30" width="5.36" height="5.36" fill="#e59093"/>
<rect x="293.52" y="267.30" width="5.36" height="5.36" fill="#dc5f64"/>
<rect x="298.28" y="267.30" width="5.36" height="5.36" fill="#d63f46"/>
<rect x="303.03" y="267.30" width="5.36" height="5.36" fill="#eaa6a8"/>
<rect x="307.79" y="267.30" width="5.36" height="5.36" fill="#e69295"/>
<rect x="312.54" y="267.30" width="5.36" height="5.36" fill="#e38689"/>
<rect x="317.30" y="267.30" width="5.36" height="5.36" fill="#ffffff"/>
<rect x="322.06" y="267.30" width="5.36" height="5.36" fill="#d63f46"/>
<rect x="326.81" y="267.30" width="5.36" height="5.36" fill="#ebaeb0"/>
<rect x="331.57" y="267.30" width="5.36" height="5.36" fill="#505baf"/>
<rect x="336.32" y="267.30" width="5.36" height="5.36" fill="#5a64b4"/>
<rect x="341.08" y="267.30" width="5.36" height="5.36" fill="#6c75bc"/>
<rect x="345.83" y="267.30" width="5.36" height="5.36" fill="#a8acd8"/>
<rect x="350.59" y="267.30" width="5.36" height="5.36" fill="#eaeaf5"/>
<rect x="355.34" y="267.30" width="5.36" height="5.36" fill="#f7ddde"/>
<rect x="360.10" y="267.30" width="5.36" height="5.36" fill="#c11c24"/>
<rect x="364.86" y="267.30" width="5.36" height="5.36" fill="#ad1921"/>
<rect x="369.61" y="267.30" width="5.36" height="5.36" fill="#ac1921"/>
<rect x="374.37" y="267.30" width="5.36" height="5.36" fill="#a91820"/>
<rect x="379.12" y="267.30" width="5.36" height="5.36" fill="#b71a22"/>
<rect x="383.88" y="267.30" width="5.36" height="5.36" fill="#c11c24"/>
<rect x="388.63" y="267.30" width="5.36" height="5.36" fill="#e9a2a4"/>
<rect x="393.39" y="267.30" width="5.36" height="5.36" fill="#de6a6f"/>
<rect x="398.14" y="267.30" width="4.76" height="5.36" fill="#fcf0f1"/>
<rect x="274.50" y="272.06" width="5.36" height="5.36" fill="#727abf"/>
<rect x="279.26" y="272.06" width="5.36" height="5.36" fill="#6b73bc"/>
<rect x="284.01" y="272.06" width="5.36" height="5.36" fill="#e69194"/>
<rect x="288.77" y="272.06" width="5.36" height="5.36" fill="#da575c"/>
<rect x="293.52" y="272.06" width="5.36" height="5.36" fill="#d32d35"/>
<rect x="298.28" y="272.06" width="5.36" height="5.36" fill="#cc1e26"/>
<rect x="303.03" y="272.06" width="5.36" height="5.36" fill="#df6d72"/>
<rect x="307.79" y="272.06" width="5.36" height="5.36" fill="#db5a5f"/>
<rect x="312.54" y="272.06" width="5.36" height="5.36" fill="#d94d53"/>
<rect x="317.30" y="272.06" width="5.36" height="5.36" fill="#d63f46"/>
<rect x="322.06" y="272.06" width="5.36" height="5.36" fill="#ffffff"/>
<rect x="326.81" y="272.06" width="5.36" height="5.36" fill="#e0767a"/>
<rect x="331.57" y="272.06" width="5.36" height="5.36" fill="#727abf"/>
<rect x="336.32" y="272.06" width="5.36" height="5.36" fill="#848bc7"/>
<rect x="341.08" y="272.06" width="5.36" height="5.36" fill="#979bd0"/>
<rect x="345.83" y="272.06" width="5.36" height="5.36" fill="#dee0f0"/>
<rect x="350.59" y="272.06" width="5.36" height="5.36" fill="#f8e1e2"/>
<rect x="355.34" y="272.06" width="5.36" height="5.36" fill="#ebabad"/>
<rect x="360.10" y="272.06" width="5.36" height="5.36" fill="#b11921"/>
<rect x="364.86" y="272.06" width="5.36" height="5.36" fill="#9c161d"/>
<rect x="369.61" y="272.06" width="5.36" height="5.36" fill="#9b161c"/>
<rect x="374.37" y="272.06" width="5.36" height="5.36" fill="#97161c"/>
<rect x="379.12" y="272.06" width="5.36" height="5.36" fill="#a71820"/>
<rect x="383.88" y="272.06" width="5.36" height="5.36" fill="#b11921"/>
<rect x="388.63" y="272.06" width="5.36" height="5.36" fill="#de696e"/>
<rect x="393.39" y="272.06" width="5.36" height="5.36" fill="#d4373d"/>
<rect x="398.14" y="272.06" width="4.76" height="5.36" fill="#f0bfc0"/>
<rect x="274.50" y="276.81" width="5.36" height="5.36" fill="#3746a4"/>
<rect x="279.26" y="276.81" width="5.36" height="5.36" fill="#3343a2"/>
<rect x="284.01" y="276.81" width="5.36" height="5.36" fill="#fdf8f8"/>
<rect x="288.77" y="276.81" width="5.36" height="5.36" fill="#f1c5c6"/>
<rect x="293.52" y="276.81" width="5.36" height="5.36" fill="#e7989b"/>
<rect x="298.28" y="276.81" width="5.36" height="5.36" fill="#e0767a"/>
<rect x="303.03" y="276.81" width="5.36" height="5.36" fill="#f6d9da"/>
<rect x="307.79" y="276.81" width="5.36" height="5.36" fill="#f2c8c9"/>
<rect x="312.54" y="276.81" width="5.36" height="5.36" fill="#efbcbe"/>
<rect x="317.30" y="276.81" width="5.36" height="5.36" fill="#ebaeb0"/>
<rect x="322.06" y="276.81" width="5.36" height="5.36" fill="#e0767a"/>
<rect x="326.81" y="276.81" width="5.36" height="5.36" fill="#ffffff"/>
<rect x="331.57" y="276.81" width="5.36" height="5.36" fill="#3746a4"/>
<rect x="336.32" y="276.81" width="5.36" height="5.36" fill="#424fa8"/>
<rect x="341.08" y="276.81" width="5.36" height="5.36" fill="#4c58ad"/>
<rect x="345.83" y="276.81" width="5.36" height="5.36" fill="#7c83c3"/>
<rect x="350.59" y="276.81" width="5.36" height="5.36" fill="#b3b6dc"/>
<rect x="355.34" y="276.81" width="5.36" height="5.36" fill="#edeef7"/>
<rect x="360.10" y="276.81" width="5.36" height="5.36" fill="#d02028"/>
<rect x="364.86" y="276.81" width="5.36" height="5.36" fill="#be1b23"/>
<rect x="369.61" y="276.81" width="5.36" height="5.36" fill="#bc1b23"/>
<rect x="374.37" y="276.81" width="5.36" height="5.36" fill="#ba1b23"/>
<rect x="379.12" y="276.81" width="5.36" height="5.36" fill="#c71d25"/>
<rect x="383.88" y="276.81" width="5.36" height="5.36" fill="#d02028"/>
<rect x="388.63" y="276.81" width="5.36" height="5.36" fill="#f5d5d6"/>
<rect x="393.39" y="276.81" width="5.36" height="5.36" fill="#e9a4a6"/>
<rect x="398.14" y="276.81" width="4.76" height="5.36" fill="#d8daed"/>
<rect x="274.50" y="281.57" width="5.36" height="5.36" fill="#1c2060"/>
<rect x="279.26" y="281.57" width="5.36" height="5.36" fill="#1c2060"/>
<rect x="284.01" y="281.57" width="5.36" height="5.36" fill="#2f3f9f"/>
<rect x="288.77" y="281.57" width="5.36" height="5.36" fill="#4552aa"/>
<rect x="293.52" y="281.57" width="5.36" height="5.36" fill="#5963b4"/>
<rect x="298.28" y="281.57" width="5.36" height="5.36" fill="#727abf"/>
<rect x="303.03" y="281.57" width="5.36" height="5.36" fill="#3b4aa5"/>
<rect x="307.79" y="281.57" width="5.36" height="5.36" fill="#4351a9"/>
<rect x="312.54" y="281.57" width="5.36" height="5.36" fill="#4955ac"/>
<rect x="317.30" y="281.57" width="5.36" height="5.36" fill="#505baf"/>
<rect x="322.06" y="281.57" width="5.36" height="5.36" fill="#727abf"/>
<rect x="326.81" y="281.57" width="5.36" height="5.36" fill="#3746a4"/>
<rect x="331.57" y="281.57" width="5.36" height="5.36" fill="#ffffff"/>
<rect x="336.32" y="281.57" width="5.36" height="5.36" fill="#1d2266"/>
<rect x="341.08" y="281.57" width="5.36" height="5.36" fill="#1f256c"/>
<rect x="345.83" y="281.57" width="5.36" height="5.36" fill="#242e81"/>
<rect x="350.59" y="281.57" width="5.36" height="5.36" fill="#2a3898"/>
<rect x="355.34" y="281.57" width="5.36" height="5.36" fill="#2e3d9d"/>
<rect x="360.10" y="281.57" width="5.36" height="5.36" fill="#c2c5e4"/>
<rect x="364.86" y="281.57" width="5.36" height="5.36" fill="#fefbfb"/>
<rect x="369.61" y="281.57" width="5.36" height="5.36" fill="#fdf6f7"/>
<rect x="374.37" y="281.57" width="5.36" height="5.36" fill="#fbeeee"/>
<rect x="379.12" y="281.57" width="5.36" height="5.36" fill="#e3e4f2"/>
<rect x="383.88" y="281.57" width="5.36" height="5.36" fill="#c2c5e4"/>
<rect x="388.63" y="281.57" width="5.36" height="5.36" fill="#3d4ba6"/>
<rect x="393.39" y="281.57" width="5.36" height="5.36" fill="#545fb1"/>
<rect x="398.14" y="281.57" width="4.76" height="5.36" fill="#2c3b9b"/>
<rect x="274.50" y="286.32" width="5.36" height="5.36" fill="#1d2266"/>
<rect x="279.26" y="286.32" width="5.36" height="5.36" fill="#1d2164"/>
<rect x="284.01" y="286.32" width="5.36" height="5.36" fill="#3645a3"/>
<rect x="288.77" y="286.32" width="5.36" height="5.36" fill="#4f5aaf"/>
<rect x="293.52" y="286.32" width="5.36" height="5.36" fill="#6b73bc"/>
<rect x="298.28" y="286.32" width="5.36" height="5.36" fill="#848bc7"/>
<rect x="303.03" y="286.32" width="5.36" height="5.36" fill="#4552aa"/>
<rect x="307.79" y="286.32" width="5.36" height="5.36" fill="#4e59ae"/>
<rect x="312.54" y="286.32" width="5.36" height="5.36" fill="#535eb1"/>
<rect x="317.30" y="286.32" width="5.36" height="5.36" fill="#5a64b4"/>
<rect x="322.06" y="286.32" width="5.36" height="5.36" fill="#848bc7"/>
<rect x="326.81" y="286.32" width="5.36" height="5.36" fill="#424fa8"/>
<rect x="331.57" y="286.32" width="5.36" height="5.36" fill="#1d2266"/>
<rect x="336.32" y="286.32" width="5.36" height="5.36" fill="#ffffff"/>
<rect x="341.08" y="286.32" width="5.36" height="5.36" fill="#202772"/>
<rect x="345.83" y="286.32" width="5.36" height="5.36" fill="#26328a"/>
<rect x="350.59" y="286.32" width="5.36" height="5.36" fill="#2c3a9a"/>
<rect x="355.34" y="286.32" width="5.36" height="5.36" fill="#2f3f9f"/>
<rect x="360.10" y="286.32" width="5.36" height="5.36" fill="#dadbee"/>
<rect x="364.86" y="286.32" width="5.36" height="5.36" fill="#f9e5e6"/>
<rect x="369.61" y="286.32" width="5.36" height="5.36" fill="#f8e1e2"/>
<rect x="374.37" y="286.32" width="5.36" height="5.36" fill="#f6d9da"/>
<rect x="379.12" y="286.32" width="5.36" height="5.36" fill="#fafbfd"/>
<rect x="383.88" y="286.32" width="5.36" height="5.36" fill="#dadbee"/>
<rect x="388.63" y="286.32" width="5.36" height="5.36" fill="#4754ab"/>
<rect x="393.39" y="286.32" width="5.36" height="5.36" fill="#626bb8"/>
<rect x="398.14" y="286.32" width="4.76" height="5.36" fill="#2e3d9d"/>
<rect x="274.50" y="291.08" width="5.36" height="5.36" fill="#1f256c"/>
<rect x="279.26" y="291.08" width="5.36" height="5.36" fill="#1e2469"/>
<rect x="284.01" y="291.08" width="5.36" height="5.36" fill="#404ea8"/>
<rect x="288.77" y="291.08" width="5.36" height="5.36" fill="#5963b4"/>
<rect x="293.52" y="291.08" width="5.36" height="5.36" fill="#7d84c4"/>
<rect x="298.28" y="291.08" width="5.36" height="5.36" fill="#979bd0"/>
<rect x="303.03" y="291.08" width="5.36" height="5.36" fill="#505baf"/>
<rect x="307.79" y="291.08" width="5.36" height="5.36" fill="#5862b3"/>
<rect x="312.54" y="291.08" width="5.36" height="5.36" fill="#6069b7"/>
<rect x="317.30" y="291.08" width="5.36" height="5.36" fill="#6c75bc"/>
<rect x="322.06" y="291.08" width="5.36" height="5.36" fill="#979bd0"/>
<rect x="326.81" y="291.08" width="5.36" height="5.36" fill="#4c58ad"/>
<rect x="331.57" y="291.08" width="5.36" height="5.36" fill="#1f256c"/>
<rect x="336.32" y="291.08" width="5.36" height="5.36" fill="#202772"/>
<rect x="341.08" y="291.08" width="5.36" height="5.36" fill="#ffffff"/>
<rect x="345.83" y="291.08" width="5.36" height="5.36" fill="#283592"/>
<rect x="350.59" y="291.08" width="5.36" height="5.36" fill="#2d3c9c"/>
<rect x="355.34" y="291.08" width="5.36" height="5.36" fill="#3545a3"/>
<rect x="360.10" y="291.08" width="5.36" height="5.36" fill="#f1f2f9"/>
<rect x="364.86" y="291.08" width="5.36" height="5.36" fill="#f4d0d1"/>
<rect x="369.61" y="291.08" width="5.36" height="5.36" fill="#f3cccd"/>
<rect x="374.37" y="291.08" width="5.36" height="5.36" fill="#f1c3c5"/>
<rect x="379.12" y="291.08" width="5.36" height="5.36" fill="#fbeeee"/>
<rect x="383.88" y="291.08" width="5.36" height="5.36" fill="#f1f2f9"/>
<rect x="388.63" y="291.08" width="5.36" height="5.36" fill="#515db0"/>
<rect x="393.39" y="291.08" width="5.36" height="5.36" fill="#747cc0"/>
<rect x="398.14" y="291.08" width="4.76" height="5.36" fill="#2f3f9f"/>
<rect x="274.50" y="295.83" width="5.36" height="5.36" fill="#242e81"/>
<rect x="279.26" y="295.83" width="5.36" height="5.36" fill="#242d7e"/>
<rect x="284.01" y="295.83" width="5.36" height="5.36" fill="#6770ba"/>
<rect x="288.77" y="295.83" width="5.36" height="5.36" fill="#9398ce"/>
<rect x="293.52" y="295.83" width="5.36" height="5.36" fill="#bec1e1"/>
<rect x="298.28" y="295.83" width="5.36" height="5.36" fill="#dee0f0"/>
<rect x="303.03" y="295.83" width="5.36" height="5.36" fill="#8289c6"/>
<rect x="307.79" y="295.83" width="5.36" height="5.36" fill="#9196cd"/>
<rect x="312.54" y="295.83" width="5.36" height="5.36" fill="#9a9fd1"/>
<rect x="317.30" y="295.83" width="5.36" height="5.36" fill="#a8acd8"/>
<rect x="322.06" y="295.83" width="5.36" height="5.36" fill="#dee0f0"/>
<rect x="326.81" y="295.83" width="5.36" height="5.36" fill="#7c83c3"/>
<rect x="331.57" y="295.83" width="5.36" height="5.36" fill="#242e81"/>
<rect x="336.32" y="295.83" width="5.36" height="5.36" fill="#26328a"/>
<rect x="341.08" y="295.83" width="5.36" height="5.36" fill="#283592"/>
<rect x="345.83" y="295.83" width="5.36" height="5.36" fill="#ffffff"/>
<rect x="350.59" y="295.83" width="5.36" height="5.36" fill="#3c4ba6"/>
<rect x="355.34" y="295.83" width="5.36" height="5.36" fill="#5661b2"/>
<rect x="360.10" y="295.83" width="5.36" height="5.36" fill="#f2c8c9"/>
<rect x="364.86" y="295.83" width="5.36" height="5.36" fill="#e4888b"/>
<rect x="369.61" y="295.83" width="5.36" height="5.36" fill="#e38386"/>
<rect x="374.37" y="295.83" width="5.36" height="5.36" fill="#e1797d"/>
<rect x="379.12" y="295.83" width="5.36" height="5.36" fill="#eaaaac"/>
<rect x="383.88" y="295.83" width="5.36" height="5.36" fill="#f2c8c9"/>
<rect x="388.63" y="295.83" width="5.36" height="5.36" fill="#858bc8"/>
<rect x="393.39" y="295.83" width="5.36" height="5.36" fill="#b3b6dc"/>
<rect x="398.14" y="295.83" width="4.76" height="5.36" fill="#4d59ae"/>
<rect x="274.50" y="300.59" width="5.36" height="5.36" fill="#2a3898"/>
<rect x="279.26" y="300.59" width="5.36" height="5.36" fill="#293795"/>
<rect x="284.01" y="300.59" width="5.36" height="5.36" fill="#9a9fd1"/>
<rect x="288.77" y="300.59" width="5.36" height="5.36" fill="#d0d2ea"/>
<rect x="293.52" y="300.59" width="5.36" height="5.36" fill="#ffffff"/>
<rect x="298.28" y="300.59" width="5.36" height="5.36" fill="#f8e1e2"/>
<rect x="303.03" y="300.59" width="5.36" height="5.36" fill="#bbbee0"/>
<rect x="307.79" y="300.59" width="5.36" height="5.36" fill="#ced0e9"/>
<rect x="312.54" y="300.59" width="5.36" height="5.36" fill="#dadbee"/>
<rect x="317.30" y="300.59" width="5.36" height="5.36" fill="#eaeaf5"/>
<rect x="322.06" y="300.59" width="5.36" height="5.36" fill="#f8e1e2"/>
<rect x="326.81" y="300.59" width="5.36" height="5.36" fill="#b3b6dc"/>
<rect x="331.57" y="300.59" width="5.36" height="5.36" fill="#2a3898"/>
<rect x="336.32" y="300.59" width="5.36" height="5.36" fill="#2c3a9a"/>
<rect x="341.08" y="300.59" width="5.36" height="5.36" fill="#2d3c9c"/>
<rect x="345.83" y="300.59" width="5.36" height="5.36" fill="#3c4ba6"/>
<rect x="350.59" y="300.59" width="5.36" height="5.36" fill="#ffffff"/>
<rect x="355.34" y="300.59" width="5.36" height="5.36" fill="#868dc8"/>
<rect x="360.10" y="300.59" width="5.36" height="5.36" fill="#e4888b"/>
<rect x="364.86" y="300.59" width="5.36" height="5.36" fill="#d7454b"/>
<rect x="369.61" y="300.59" width="5.36" height="5.36" fill="#d64147"/>
<rect x="374.37" y="300.59" width="5.36" height="5.36" fill="#d53940"/>
<rect x="379.12" y="300.59" width="5.36" height="5.36" fill="#dd656a"/>
<rect x="383.88" y="300.59" width="5.36" height="5.36" fill="#e4888b"/>
<rect x="388.63" y="300.59" width="5.36" height="5.36" fill="#bfc1e2"/>
<rect x="393.39" y="300.59" width="5.36" height="5.36" fill="#f4f4fa"/>
<rect x="398.14" y="300.59" width="4.76" height="5.36" fill="#767dc1"/>
<rect x="274.50" y="305.34" width="5.36" height="5.36" fill="#2e3d9d"/>
<rect x="279.26" y="305.34" width="5.36" height="5.36" fill="#2d3c9c"/>
<rect x="284.01" y="305.34" width="5.36" height="5.36" fill="#d3d5eb"/>
<rect x="288.77" y="305.34" width="5.36" height="5.36" fill="#fcf4f4"/>
<rect x="293.52" y="305.34" width="5.36" height="5.36" fill="#f2c9ca"/>
<rect x="298.28" y="305.34" width="5.36" height="5.36" fill="#ebabad"/>
<rect x="303.03" y="305.34" width="5.36" height="5.36" fill="#f6f6fb"/>
<rect x="307.79" y="305.34" width="5.36" height="5.36" fill="#fdf6f7"/>
<rect x="312.54" y="305.34" width="5.36" height="5.36" fill="#faebec"/>
<rect x="317.30" y="305.34" width="5.36" height="5.36" fill="#f7ddde"/>
<rect x="322.06" y="305.34" width="5.36" height="5.36" fill="#ebabad"/>
<rect x="326.81" y="305.34" width="5.36" height="5.36" fill="#edeef7"/>
<rect x="331.57" y="305.34" width="5.36" height="5.36" fill="#2e3d9d"/>
<rect x="336.32" y="305.34" width="5.36" height="5.36" fill="#2f3f9f"/>
<rect x="341.08" y="305.34" width="5.36" height="5.36" fill="#3545a3"/>
<rect x="345.83" y="305.34" width="5.36" height="5.36" fill="#5661b2"/>
<rect x="350.59" y="305.34" width="5.36" height="5.36" fill="#868dc8"/>
<rect x="355.34" y="305.34" width="5.36" height="5.36" fill="#ffffff"/>
<rect x="360.10" y="305.34" width="5.36" height="5.36" fill="#d84a50"/>
<rect x="364.86" y="305.34" width="5.36" height="5.36" fill="#cc1f27"/>
<rect x="369.61" y="305.34" width="5.36" height="5.36" fill="#cb1e26"/>
<rect x="374.37" y="305.34" width="5.36" height="5.36" fill="#c81d25"/>
<rect x="379.12" y="305.34" width="5.36" height="5.36" fill="#d32f36"/>
<rect x="383.88" y="305.34" width="5.36" height="5.36" fill="#d84a50"/>
<rect x="388.63" y="305.34" width="5.36" height="5.36" fill="#f9fafc"/>
<rect x="393.39" y="305.34" width="5.36" height="5.36" fill="#f4d4d4"/>
<rect x="398.14" y="305.34" width="4.76" height="5.36" fill="#a5a8d6"/>
<rect x="274.50" y="310.10" width="5.36" height="5.36" fill="#c2c5e4"/>
<rect x="279.26" y="310.10" width="5.36" height="5.36" fill="#b9bcdf"/>
<rect x="284.01" y="310.10" width="5.36" height="5.36" fill="#d4353c"/>
<rect x="288.77" y="310.10" width="5.36" height="5.36" fill="#c81d25"/>
<rect x="293.52" y="310.10" width="5.36" height="5.36" fill="#ba1b23"/>
<rect x="298.28" y="310.10" width="5.36" height="5.36" fill="#b11921"/>
<rect x="303.03" y="310.10" width="5.36" height="5.36" fill="#ce1f27"/>
<rect x="307.79" y="310.10" width="5.36" height="5.36" fill="#c81e26"/>
<rect x="312.54" y="310.10" width="5.36" height="5.36" fill="#c51c24"/>
<rect x="317.30" y="310.10" width="5.36" height="5.36" fill="#c11c24"/>
<rect x="322.06" y="310.10" width="5.36" height="5.36" fill="#b11921"/>
<rect x="326.81" y="310.10" width="5.36" height="5.36" fill="#d02028"/>
<rect x="331.57" y="310.10" width="5.36" height="5.36" fill="#c2c5e4"/>
<rect x="336.32" y="310.10" width="5.36" height="5.36" fill="#dadbee"/>
<rect x="341.08" y="310.10" width="5.36" height="5.36" fill="#f1f2f9"/>
<rect x="345.83" y="310.10" width="5.36" height="5.36" fill="#f2c8c9"/>
<rect x="350.59" y="310.10" width="5.36" height="5.36" fill="#e4888b"/>
<rect x="355.34" y="310.10" width="5.36" height="5.36" fill="#d84a50"/>
<rect x="360.10" y="310.10" width="5.36" height="5.36" fill="#ffffff"/>
<rect x="364.86" y="310.10" width="5.36" height="5.36" fill="#7d1015"/>
<rect x="369.61" y="310.10" width="5.36" height="5.36" fill="#7b0f14"/>
<rect x="374.37" y="310.10" width="5.36" height="5.36" fill="#780e14"/>
<rect x="379.12" y="310.10" width="5.36" height="5.36" fill="#881317"/>
<rect x="383.88" y="310.10" width="5.36" height="5.36" fill="#93151a"/>
<rect x="388.63" y="310.10" width="5.36" height="5.36" fill="#cc1f27"/>
<rect x="393.39" y="310.10" width="5.36" height="5.36" fill="#be1b23"/>
<rect x="398.14" y="310.10" width="4.76" height="5.36" fill="#dc6166"/>
<rect x="274.50" y="314.86" width="5.36" height="5.36" fill="#fefbfb"/>
<rect x="279.26" y="314.86" width="5.36" height="5.36" fill="#fafbfd"/>
<rect x="284.01" y="314.86" width="5.36" height="5.36" fill="#c51c24"/>
<rect x="288.77" y="314.86" width="5.36" height="5.36" fill="#b51a22"/>
<rect x="293.52" y="314.86" width="5.36" height="5.36" fill="#a71820"/>
<rect x="298.28" y="314.86" width="5.36" height="5.36" fill="#9c161d"/>
<rect x="303.03" y="314.86" width="5.36" height="5.36" fill="#bb1b23"/>
<rect x="307.79" y="314.86" width="5.36" height="5.36" fill="#b61a22"/>
<rect x="312.54" y="314.86" width="5.36" height="5.36" fill="#b21921"/>
<rect x="317.30" y="314.86" width="5.36" height="5.36" fill="#ad1921"/>
<rect x="322.06" y="314.86" width="5.36" height="5.36" fill="#9c161d"/>
<rect x="326.81" y="314.86" width="5.36" height="5.36" fill="#be1b23"/>
<rect x="331.57" y="314.86" width="5.36" height="5.36" fill="#fefbfb"/>
<rect x="336.32" y="314.86" width="5.36" height="5.36" fill="#f9e5e6"/>
<rect x="341.08" y="314.86" width="5.36" height="5.36" fill="#f4d0d1"/>
<rect x="345.83" y="314.86" width="5.36" height="5.36" fill="#e4888b"/>
<rect x="350.59" y="314.86" width="5.36" height="5.36" fill="#d7454b"/>
<rect x="355.34" y="314.86" width="5.36" height="5.36" fill="#cc1f27"/>
<rect x="360.10" y="314.86" width="5.36" height="5.36" fill="#7d1015"/>
<rect x="364.86" y="314.86" width="5.36" height="5.36" fill="#ffffff"/>
<rect x="369.61" y="314.86" width="5.36" height="5.36" fill="#6a0a10"/>
<rect x="374.37" y="314.86" width="5.36" height="5.36" fill="#6a0a10"/>
<rect x="379.12" y="314.86" width="5.36" height="5.36" fill="#720c12"/>
<rect x="383.88" y="314.86" width="5.36" height="5.36" fill="#7d1015"/>
<rect x="388.63" y="314.86" width="5.36" height="5.36" fill="#ba1b23"/>
<rect x="393.39" y="314.86" width="5.36" height="5.36" fill="#aa1820"/>
<rect x="398.14" y="314.86" width="4.76" height="5.36" fill="#d1252d"/>
<rect x="274.50" y="319.61" width="5.36" height="5.36" fill="#fdf6f7"/>
<rect x="279.26" y="319.61" width="5.36" height="5.36" fill="#ffffff"/>
<rect x="284.01" y="319.61" width="5.36" height="5.36" fill="#c41c24"/>
<rect x="288.77" y="319.61" width="5.36" height="5.36" fill="#b41a22"/>
<rect x="293.52" y="319.61" width="5.36" height="5.36" fill="#a5181f"/>
<rect x="298.28" y="319.61" width="5.36" height="5.36" fill="#9b161c"/>
<rect x="303.03" y="319.61" width="5.36" height="5.36" fill="#ba1b23"/>
<rect x="307.79" y="319.61" width="5.36" height="5.36" fill="#b41a22"/>
<rect x="312.54" y="319.61" width="5.36" height="5.36" fill="#b11921"/>
<rect x="317.30" y="319.61" width="5.36" height="5.36" fill="#ac1921"/>
<rect x="322.06" y="319.61" width="5.36" height="5.36" fill="#9b161c"/>
<rect x="326.81" y="319.61" width="5.36" height="5.36" fill="#bc1b23"/>
<rect x="331.57" y="319.61" width="5.36" height="5.36" fill="#fdf6f7"/>
<rect x="336.32" y="319.61" width="5.36" height="5.36" fill="#f8e1e2"/>
<rect x="341.08" y="319.61" width="5.36" height="5.36" fill="#f3cccd"/>
<rect x="345.83" y="319.61" width="5.36" height="5.36" fill="#e38386"/>
<rect x="350.59" y="319.61" width="5.36" height="5.36" fill="#d64147"/>
<rect x="355.34" y="319.61" width="5.36" height="5.36" fill="#cb1e26"/>
<rect x="360.10" y="319.61" width="5.36" height="5.36" fill="#7b0f14"/>
<rect x="364.86" y="319.61" width="5.36" height="5.36" fill="#6a0a10"/>
<rect x="369.61" y="319.61" width="5.36" height="5.36" fill="#ffffff"/>
<rect x="374.37" y="319.61" width="5.36" height="5.36" fill="#6a0a10"/>
<rect x="379.12" y="319.61" width="5.36" height="5.36" fill="#700c12"/>
<rect x="383.88" y="319.61" width="5.36" height="5.36" fill="#7b0f14"/>
<rect x="388.63" y="319.61" width="5.36" height="5.36" fill="#b91a22"/>
<rect x="393.39" y="319.61" width="5.36" height="5.36" fill="#a91820"/>
<rect x="398.14" y="319.61" width="4.76" height="5.36" fill="#d02229"/>
<rect x="274.50" y="324.37" width="5.36" height="5.36" fill="#fbeeee"/>
<rect x="279.26" y="324.37" width="5.36" height="5.36" fill="#fdf6f7"/>
<rect x="284.01" y="324.37" width="5.36" height="5.36" fill="#c11c24"/>
<rect x="288.77" y="324.37" width="5.36" height="5.36" fill="#b11921"/>
<rect x="293.52" y="324.37" width="5.36" height="5.36" fill="#a2171e"/>
<rect x="298.28" y="324.37" width="5.36" height="5.36" fill="#97161c"/>
<rect x="303.03" y="324.37" width="5.36" height="5.36" fill="#b71a22"/>
<rect x="307.79" y="324.37" width="5.36" height="5.36" fill="#b21921"/>
<rect x="312.54" y="324.37" width="5.36" height="5.36" fill="#ae1921"/>
<rect x="317.30" y="324.37" width="5.36" height="5.36" fill="#a91820"/>
<rect x="322.06" y="324.37" width="5.36" height="5.36" fill="#97161c"/>
<rect x="326.81" y="324.37" width="5.36" height="5.36" fill="#ba1b23"/>
<rect x="331.57" y="324.37" width="5.36" height="5.36" fill="#fbeeee"/>
<rect x="336.32" y="324.37" width="5.36" height="5.36" fill="#f6d9da"/>
<rect x="341.08" y="324.37" width="5.36" height="5.36" fill="#f1c3c5"/>
<rect x="345.83" y="324.37" width="5.36" height="5.36" fill="#e1797d"/>
<rect x="350.59" y="324.37" width="5.36" height="5.36" fill="#d53940"/>
<rect x="355.34" y="324.37" width="5.36" height="5.36" fill="#c81d25"/>
<rect x="360.10" y="324.37" width="5.36" height="5.36" fill="#780e14"/>
<rect x="364.86" y="324.37" width="5.36" height="5.36" fill="#6a0a10"/>
<rect x="369.61" y="324.37" width="5.36" height="5.36" fill="#6a0a10"/>
<rect x="374.37" y="324.37" width="5.36" height="5.36" fill="#ffffff"/>
<rect x="379.12" y="324.37" width="5.36" height="5.36" fill="#6d0b11"/>
<rect x="383.88" y="324.37" width="5.36" height="5.36" fill="#780e14"/>
<rect x="388.63" y="324.37" width="5.36" height="5.36" fill="#b61a22"/>
<rect x="393.39" y="324.37" width="5.36" height="5.36" fill="#a61820"/>
<rect x="398.14" y="324.37" width="4.76" height="5.36" fill="#ce1f27"/>
<rect x="274.50" y="329.12" width="5.36" height="5.36" fill="#e3e4f2"/>
<rect x="279.26" y="329.12" width="5.36" height="5.36" fill="#dadbee"/>
<rect x="284.01" y="329.12" width="5.36" height="5.36" fill="#ce1f27"/>
<rect x="288.77" y="329.12" width="5.36" height="5.36" fill="#bf1b23"/>
<rect x="293.52" y="329.12" width="5.36" height="5.36" fill="#b11921"/>
<rect x="298.28" y="329.12" width="5.36" height="5.36" fill="#a71820"/>
<rect x="303.03" y="329.12" width="5.36" height="5.36" fill="#c51c24"/>
<rect x="307.79" y="329.12" width="5.36" height="5.36" fill="#bf1b23"/>
<rect x="312.54" y="329.12" width="5.36" height="5.36" fill="#bc1b23"/>
<rect x="317.30" y="329.12" width="5.36" height="5.36" fill="#b71a22"/>
<rect x="322.06" y="329.12" width="5.36" height="5.36" fill="#a71820"/>
<rect x="326.81" y="329.12" width="5.36" height="5.36" fill="#c71d25"/>
<rect x="331.57" y="329.12" width="5.36" height="5.36" fill="#e3e4f2"/>
<rect x="336.32" y="329.12" width="5.36" height="5.36" fill="#fafbfd"/>
<rect x="341.08" y="329.12" width="5.36" height="5.36" fill="#fbeeee"/>
<rect x="345.83" y="329.12" width="5.36" height="5.36" fill="#eaaaac"/>
<rect x="350.59" y="329.12" width="5.36" height="5.36" fill="#dd656a"/>
<rect x="355.34" y="329.12" width="5.36" height="5.36" fill="#d32f36"/>
<rect x="360.10" y="329.12" width="5.36" height="5.36" fill="#881317"/>
<rect x="364.86" y="329.12" width="5.36" height="5.36" fill="#720c12"/>
<rect x="369.61" y="329.12" width="5.36" height="5.36" fill="#700c12"/>
<rect x="374.37" y="329.12" width="5.36" height="5.36" fill="#6d0b11"/>
<rect x="379.12" y="329.12" width="5.36" height="5.36" fill="#ffffff"/>
<rect x="383.88" y="329.12" width="5.36" height="5.36" fill="#881317"/>
<rect x="388.63" y="329.12" width="5.36" height="5.36" fill="#c41c24"/>
<rect x="393.39" y="329.12" width="5.36" height="5.36" fill="#b41a22"/>
<rect x="398.14" y="329.12" width="4.76" height="5.36" fill="#d64147"/>
<rect x="274.50" y="333.88" width="5.36" height="5.36" fill="#c2c5e4"/>
<rect x="279.26" y="333.88" width="5.36" height="5.36" fill="#b9bcdf"/>
<rect x="284.01" y="333.88" width="5.36" height="5.36" fill="#d4353c"/>
<rect x="288.77" y="333.88" width="5.36" height="5.36" fill="#c81d25"/>
<rect x="293.52" y="333.88" width="5.36" height="5.36" fill="#ba1b23"/>
<rect x="298.28" y="333.88" width="5.36" height="5.36" fill="#b11921"/>
<rect x="303.03" y="333.88" width="5.36" height="5.36" fill="#ce1f27"/>
<rect x="307.79" y="333.88" width="5.36" height="5.36" fill="#c81e26"/>
<rect x="312.54" y="333.88" width="5.36" height="5.36" fill="#c51c24"/>
<rect x="317.30" y="333.88" width="5.36" height="5.36" fill="#c11c24"/>
<rect x="322.06" y="333.88" width="5.36" height="5.36" fill="#b11921"/>
<rect x="326.81" y="333.88" width="5.36" height="5.36" fill="#d02028"/>
<rect x="331.57" y="333.88" width="5.36" height="5.36" fill="#c2c5e4"/>
<rect x="336.32" y="333.88" width="5.36" height="5.36" fill="#dadbee"/>
<rect x="341.08" y="333.88" width="5.36" height="5.36" fill="#f1f2f9"/>
<rect x="345.83" y="333.88" width="5.36" height="5.36" fill="#f2c8c9"/>
<rect x="350.59" y="333.88" width="5.36" height="5.36" fill="#e4888b"/>
<rect x="355.34" y="333.88" width="5.36" height="5.36" fill="#d84a50"/>
<rect x="360.10" y="333.88" width="5.36" height="5.36" fill="#93151a"/>
<rect x="364.86" y="333.88" width="5.36" height="5.36" fill="#7d1015"/>
<rect x="369.61" y="333.88" width="5.36" height="5.36" fill="#7b0f14"/>
<rect x="374.37" y="333.88" width="5.36" height="5.36" fill="#780e14"/>
<rect x="379.12" y="333.88" width="5.36" height="5.36" fill="#881317"/>
<rect x="383.88" y="333.88" width="5.36" height="5.36" fill="#ffffff"/>
<rect x="388.63" y="333.88" width="5.36" height="5.36" fill="#cc1f27"/>
<rect x="393.39" y="333.88" width="5.36" height="5.36" fill="#be1b23"/>
<rect x="398.14" y="333.88" width="4.76" height="5.36" fill="#dc6166"/>
<rect x="274.50" y="338.63" width="5.36" height="5.36" fill="#3d4ba6"/>
<rect x="279.26" y="338.63" width="5.36" height="5.36" fill="#3947a4"/>
<rect x="284.01" y="338.63" width="5.36" height="5.36" fill="#fbedee"/>
<rect x="288.77" y="338.63" width="5.36" height="5.36" fill="#eebabc"/>
<rect x="293.52" y="338.63" width="5.36" height="5.36" fill="#e58c8f"/>
<rect x="298.28" y="338.63" width="5.36" height="5.36" fill="#de696e"/>
<rect x="303.03" y="338.63" width="5.36" height="5.36" fill="#f3cecf"/>
<rect x="307.79" y="338.63" width="5.36" height="5.36" fill="#efbcbe"/>
<rect x="312.54" y="338.63" width="5.36" height="5.36" fill="#ecb1b3"/>
<rect x="317.30" y="338.63" width="5.36" height="5.36" fill="#e9a2a4"/>
<rect x="322.06" y="338.63" width="5.36" height="5.36" fill="#de696e"/>
<rect x="326.81" y="338.63" width="5.36" height="5.36" fill="#f5d5d6"/>
<rect x="331.57" y="338.63" width="5.36" height="5.36" fill="#3d4ba6"/>
<rect x="336.32" y="338.63" width="5.36" height="5.36" fill="#4754ab"/>
<rect x="341.08" y="338.63" width="5.36" height="5.36" fill="#515db0"/>
<rect x="345.83" y="338.63" width="5.36" height="5.36" fill="#858bc8"/>
<rect x="350.59" y="338.63" width="5.36" height="5.36" fill="#bfc1e2"/>
<rect x="355.34" y="338.63" width="5.36" height="5.36" fill="#f9fafc"/>
<rect x="360.10" y="338.63" width="5.36" height="5.36" fill="#cc1f27"/>
<rect x="364.86" y="338.63" width="5.36" height="5.36" fill="#ba1b23"/>
<rect x="369.61" y="338.63" width="5.36" height="5.36" fill="#b91a22"/>
<rect x="374.37" y="338.63" width="5.36" height="5.36" fill="#b61a22"/>
<rect x="379.12" y="338.63" width="5.36" height="5.36" fill="#c41c24"/>
<rect x="383.88" y="338.63" width="5.36" height="5.36" fill="#cc1f27"/>
<rect x="388.63" y="338.63" width="5.36" height="5.36" fill="#ffffff"/>
<rect x="393.39" y="338.63" width="5.36" height="5.36" fill="#e7979a"/>
<rect x="398.14" y="338.63" width="4.76" height="5.36" fill="#e4e5f3"/>
<rect x="274.50" y="343.39" width="5.36" height="5.36" fill="#545fb1"/>
<rect x="279.26" y="343.39" width="5.36" height="5.36" fill="#505caf"/>
<rect x="284.01" y="343.39" width="5.36" height="5.36" fill="#efbcbe"/>
<rect x="288.77" y="343.39" width="5.36" height="5.36" fill="#e38588"/>
<rect x="293.52" y="343.39" width="5.36" height="5.36" fill="#da5459"/>
<rect x="298.28" y="343.39" width="5.36" height="5.36" fill="#d4373d"/>
<rect x="303.03" y="343.39" width="5.36" height="5.36" fill="#e89b9e"/>
<rect x="307.79" y="343.39" width="5.36" height="5.36" fill="#e4888b"/>
<rect x="312.54" y="343.39" width="5.36" height="5.36" fill="#e17b7f"/>
<rect x="317.30" y="343.39" width="5.36" height="5.36" fill="#de6a6f"/>
<rect x="322.06" y="343.39" width="5.36" height="5.36" fill="#d4373d"/>
<rect x="326.81" y="343.39" width="5.36" height="5.36" fill="#e9a4a6"/>
<rect x="331.57" y="343.39" width="5.36" height="5.36" fill="#545fb1"/>
<rect x="336.32" y="343.39" width="5.36" height="5.36" fill="#626bb8"/>
<rect x="341.08" y="343.39" width="5.36" height="5.36" fill="#747cc0"/>
<rect x="345.83" y="343.39" width="5.36" height="5.36" fill="#b3b6dc"/>
<rect x="350.59" y="343.39" width="5.36" height="5.36" fill="#f4f4fa"/>
<rect x="355.34" y="343.39" width="5.36" height="5.36" fill="#f4d4d4"/>
<rect x="360.10" y="343.39" width="5.36" height="5.36" fill="#be1b23"/>
<rect x="364.86" y="343.39" width="5.36" height="5.36" fill="#aa1820"/>
<rect x="369.61" y="343.39" width="5.36" height="5.36" fill="#a91820"/>
<rect x="374.37" y="343.39" width="5.36" height="5.36" fill="#a61820"/>
<rect x="379.12" y="343.39" width="5.36" height="5.36" fill="#b41a22"/>
<rect x="383.88" y="343.39" width="5.36" height="5.36" fill="#be1b23"/>
<rect x="388.63" y="343.39" width="5.36" height="5.36" fill="#e7979a"/>
<rect x="393.39" y="343.39" width="5.36" height="5.36" fill="#ffffff"/>
<rect x="398.14" y="343.39" width="4.76" height="5.36" fill="#f9e7e8"/>
<rect x="274.50" y="348.14" width="5.36" height="4.76" fill="#2c3b9b"/>
<rect x="279.26" y="348.14" width="5.36" height="4.76" fill="#2c3b9b"/>
<rect x="284.01" y="348.14" width="5.36" height="4.76" fill="#bec1e1"/>
<rect x="288.77" y="348.14" width="5.36" height="4.76" fill="#f6f6fb"/>
<rect x="293.52" y="348.14" width="5.36" height="4.76" fill="#f7ddde"/>
<rect x="298.28" y="348.14" width="5.36" height="4.76" fill="#f0bfc0"/>
<rect x="303.03" y="348.14" width="5.36" height="4.76" fill="#e0e2f1"/>
<rect x="307.79" y="348.14" width="5.36" height="4.76" fill="#f3f3fa"/>
<rect x="312.54" y="348.14" width="5.36" height="4.76" fill="#ffffff"/>
<rect x="317.30" y="348.14" width="5.36" height="4.76" fill="#fcf0f1"/>
<rect x="322.06" y="348.14" width="5.36" height="4.76" fill="#f0bfc0"/>
<rect x="326.81" y="348.14" width="5.36" height="4.76" fill="#d8daed"/>
<rect x="331.57" y="348.14" width="5.36" height="4.76" fill="#2c3b9b"/>
<rect x="336.32" y="348.14" width="5.36" height="4.76" fill="#2e3d9d"/>
<rect x="341.08" y="348.14" width="5.36" height="4.76" fill="#2f3f9f"/>
<rect x="345.83" y="348.14" width="5.36" height="4.76" fill="#4d59ae"/>
<rect x="350.59" y="348.14" width="5.36" height="4.76" fill="#767dc1"/>
<rect x="355.34" y="348.14" width="5.36" height="4.76" fill="#a5a8d6"/>
<rect x="360.10" y="348.14" width="5.36" height="4.76" fill="#dc6166"/>
<rect x="364.86" y="348.14" width="5.36" height="4.76" fill="#d1252d"/>
<rect x="369.61" y="348.14" width="5.36" height="4.76" fill="#d02229"/>
<rect x="374.37" y="348.14" width="5.36" height="4.76" fill="#ce1f27"/>
<rect x="379.12" y="348.14" width="5.36" height="4.76" fill="#d64147"/>
<rect x="383.88" y="348.14" width="5.36" height="4.76" fill="#dc6166"/>
<rect x="388.63" y="348.14" width="5.36" height="4.76" fill="#e4e5f3"/>
<rect x="393.39" y="348.14" width="5.36" height="4.76" fill="#f9e7e8"/>
<rect x="398.14" y="348.14" width="4.76" height="4.76" fill="#ffffff"/>
<rect x="274.50" y="224.50" width="128.40" height="128.40" fill="none" stroke="#555" stroke-width="0.5"/>
<defs><linearGradient id="cbe" x1="0" y1="1" x2="0" y2="0"><stop offset="0.000" stop-color="#1c2060"/><stop offset="0.085" stop-color="#222a78"/><stop offset="0.165" stop-color="#2a3898"/><stop offset="0.250" stop-color="#3040a0"/><stop offset="0.335" stop-color="#5a64b4"/><stop offset="0.415" stop-color="#a0a4d4"/><stop offset="0.500" stop-color="#ffffff"/><stop offset="0.585" stop-color="#eaa8aa"/><stop offset="0.665" stop-color="#d84a50"/><stop offset="0.710" stop-color="#d02028"/><stop offset="0.750" stop-color="#c41c24"/><stop offset="0.835" stop-color="#a81820"/><stop offset="0.915" stop-color="#8a1418"/><stop offset="1.000" stop-color="#6a0a10"/></linearGradient></defs>
<rect x="406.7" y="224.4" width="8.4" height="128.3" fill="url(#cbe)" stroke="#444" stroke-width="0.5"/>
<text x="418.90" y="230.10" font-size="7.8" text-anchor="start" fill="#333" font-weight="normal" font-style="normal">0.3</text>
<text x="418.90" y="248.60" font-size="7.8" text-anchor="start" fill="#333" font-weight="normal" font-style="normal">0.2</text>
<text x="418.90" y="270.20" font-size="7.8" text-anchor="start" fill="#333" font-weight="normal" font-style="normal">0.1</text>
<text x="418.90" y="291.40" font-size="7.8" text-anchor="start" fill="#333" font-weight="normal" font-style="normal">0</text>
<text x="418.90" y="312.90" font-size="7.8" text-anchor="start" fill="#333" font-weight="normal" font-style="normal">−0.1</text>
<text x="418.90" y="334.50" font-size="7.8" text-anchor="start" fill="#333" font-weight="normal" font-style="normal">−0.2</text>
<text x="418.90" y="352.90" font-size="7.8" text-anchor="start" fill="#333" font-weight="normal" font-style="normal">−0.3</text>
<text x="440.00" y="288.80" font-size="9.0" text-anchor="middle" fill="#333" font-weight="normal" font-style="normal" transform="rotate(90 440.00 288.80)">Average A–B compartment score</text>
<line x1="413.00" y1="245.70" x2="415.10" y2="245.70" stroke="#222" stroke-width="0.6" stroke-linecap="butt"/>
<line x1="413.00" y1="267.30" x2="415.10" y2="267.30" stroke="#222" stroke-width="0.6" stroke-linecap="butt"/>
<line x1="413.00" y1="288.50" x2="415.10" y2="288.50" stroke="#222" stroke-width="0.6" stroke-linecap="butt"/>
<line x1="413.00" y1="310.00" x2="415.10" y2="310.00" stroke="#222" stroke-width="0.6" stroke-linecap="butt"/>
<line x1="413.00" y1="331.60" x2="415.10" y2="331.60" stroke="#222" stroke-width="0.6" stroke-linecap="butt"/>
<text x="270.30" y="248.90" font-size="7.8" text-anchor="end" fill="#333" font-weight="normal" font-style="normal">5</text>
<line x1="271.80" y1="246.00" x2="274.50" y2="246.00" stroke="#666" stroke-width="0.5" stroke-linecap="butt"/>
<text x="270.30" y="272.40" font-size="7.8" text-anchor="end" fill="#333" font-weight="normal" font-style="normal">10</text>
<line x1="271.80" y1="269.50" x2="274.50" y2="269.50" stroke="#666" stroke-width="0.5" stroke-linecap="butt"/>
<text x="270.30" y="296.30" font-size="7.8" text-anchor="end" fill="#333" font-weight="normal" font-style="normal">15</text>
<line x1="271.80" y1="293.40" x2="274.50" y2="293.40" stroke="#666" stroke-width="0.5" stroke-linecap="butt"/>
<text x="270.30" y="319.90" font-size="7.8" text-anchor="end" fill="#333" font-weight="normal" font-style="normal">20</text>
<line x1="271.80" y1="317.00" x2="274.50" y2="317.00" stroke="#666" stroke-width="0.5" stroke-linecap="butt"/>
<text x="270.30" y="343.50" font-size="7.8" text-anchor="end" fill="#333" font-weight="normal" font-style="normal">25</text>
<line x1="271.80" y1="340.60" x2="274.50" y2="340.60" stroke="#666" stroke-width="0.5" stroke-linecap="butt"/>
<text x="296.10" y="362.00" font-size="7.8" text-anchor="middle" fill="#333" font-weight="normal" font-style="normal">5</text>
<text x="320.20" y="362.00" font-size="7.8" text-anchor="middle" fill="#333" font-weight="normal" font-style="normal">10</text>
<text x="343.80" y="362.00" font-size="7.8" text-anchor="middle" fill="#333" font-weight="normal" font-style="normal">15</text>
<text x="367.40" y="362.00" font-size="7.8" text-anchor="middle" fill="#333" font-weight="normal" font-style="normal">20</text>
<text x="390.80" y="362.00" font-size="7.8" text-anchor="middle" fill="#333" font-weight="normal" font-style="normal">25</text>
<text x="267.30" y="362.00" font-size="8.8" text-anchor="middle" fill="#333" font-weight="normal" font-style="normal">TAD ID</text>
<text x="256.80" y="288.30" font-size="8.8" text-anchor="middle" fill="#333" font-weight="normal" font-style="normal" transform="rotate(-90 256.80 288.30)">TAD ID</text>
<text x="472.00" y="213.90" font-size="11.5" font-weight="bold" fill="#000" stroke="#000" stroke-width="0.35">f</text>
<line x1="516.60" y1="214.60" x2="516.60" y2="357.20" stroke="#7c7c7c" stroke-width="0.8" stroke-linecap="butt"/>
<line x1="513.60" y1="215.00" x2="516.60" y2="215.00" stroke="#666" stroke-width="0.6" stroke-linecap="butt"/>
<text x="510.60" y="217.90" font-size="7.8" text-anchor="end" fill="#333" font-weight="normal" font-style="normal">0.6</text>
<line x1="513.60" y1="238.70" x2="516.60" y2="238.70" stroke="#666" stroke-width="0.6" stroke-linecap="butt"/>
<text x="510.60" y="241.60" font-size="7.8" text-anchor="end" fill="#333" font-weight="normal" font-style="normal">0.4</text>
<line x1="513.60" y1="262.40" x2="516.60" y2="262.40" stroke="#666" stroke-width="0.6" stroke-linecap="butt"/>
<text x="510.60" y="265.30" font-size="7.8" text-anchor="end" fill="#333" font-weight="normal" font-style="normal">0.2</text>
<line x1="513.60" y1="286.10" x2="516.60" y2="286.10" stroke="#666" stroke-width="0.6" stroke-linecap="butt"/>
<text x="510.60" y="289.00" font-size="7.8" text-anchor="end" fill="#333" font-weight="normal" font-style="normal">0</text>
<line x1="513.60" y1="309.80" x2="516.60" y2="309.80" stroke="#666" stroke-width="0.6" stroke-linecap="butt"/>
<text x="510.60" y="312.70" font-size="7.8" text-anchor="end" fill="#333" font-weight="normal" font-style="normal">−0.2</text>
<line x1="513.60" y1="333.50" x2="516.60" y2="333.50" stroke="#666" stroke-width="0.6" stroke-linecap="butt"/>
<text x="510.60" y="336.40" font-size="7.8" text-anchor="end" fill="#333" font-weight="normal" font-style="normal">−0.4</text>
<line x1="513.60" y1="357.20" x2="516.60" y2="357.20" stroke="#666" stroke-width="0.6" stroke-linecap="butt"/>
<text x="510.60" y="360.10" font-size="7.8" text-anchor="end" fill="#333" font-weight="normal" font-style="normal">−0.6</text>
<rect x="523.00" y="245.69" width="11.00" height="40.41" fill="#ed1c26"/>
<rect x="540.67" y="247.71" width="11.00" height="38.39" fill="#ed1c26"/>
<rect x="558.34" y="256.83" width="11.00" height="29.27" fill="#ed1c26"/>
<rect x="576.01" y="261.22" width="11.00" height="24.88" fill="#ed1c26"/>
<rect x="593.68" y="266.19" width="11.00" height="19.91" fill="#ed1c26"/>
<rect x="611.35" y="270.22" width="11.00" height="15.88" fill="#ed1c26"/>
<rect x="629.02" y="286.10" width="11.00" height="17.89" fill="#5a8dc7"/>
<rect x="646.69" y="286.10" width="11.00" height="39.58" fill="#5a8dc7"/>
<rect x="664.36" y="286.10" width="11.00" height="41.24" fill="#5a8dc7"/>
<line x1="516.60" y1="286.10" x2="681.90" y2="286.10" stroke="#777" stroke-width="0.7" stroke-linecap="butt"/>
<line x1="528.50" y1="286.10" x2="528.50" y2="292.50" stroke="#555" stroke-width="0.6" stroke-linecap="butt"/>
<line x1="528.50" y1="256.48" x2="528.50" y2="233.96" stroke="#333" stroke-width="0.7" stroke-linecap="butt"/>
<line x1="525.10" y1="256.48" x2="531.90" y2="256.48" stroke="#333" stroke-width="0.7" stroke-linecap="butt"/>
<line x1="525.10" y1="233.96" x2="531.90" y2="233.96" stroke="#333" stroke-width="0.7" stroke-linecap="butt"/>
<line x1="546.17" y1="286.10" x2="546.17" y2="292.50" stroke="#555" stroke-width="0.6" stroke-linecap="butt"/>
<line x1="546.17" y1="258.13" x2="546.17" y2="236.33" stroke="#333" stroke-width="0.7" stroke-linecap="butt"/>
<line x1="542.77" y1="258.13" x2="549.57" y2="258.13" stroke="#333" stroke-width="0.7" stroke-linecap="butt"/>
<line x1="542.77" y1="236.33" x2="549.57" y2="236.33" stroke="#333" stroke-width="0.7" stroke-linecap="butt"/>
<line x1="563.84" y1="286.10" x2="563.84" y2="292.50" stroke="#555" stroke-width="0.6" stroke-linecap="butt"/>
<line x1="563.84" y1="267.14" x2="563.84" y2="244.63" stroke="#333" stroke-width="0.7" stroke-linecap="butt"/>
<line x1="560.44" y1="267.14" x2="567.24" y2="267.14" stroke="#333" stroke-width="0.7" stroke-linecap="butt"/>
<line x1="560.44" y1="244.63" x2="567.24" y2="244.63" stroke="#333" stroke-width="0.7" stroke-linecap="butt"/>
<line x1="581.51" y1="286.10" x2="581.51" y2="292.50" stroke="#555" stroke-width="0.6" stroke-linecap="butt"/>
<line x1="581.51" y1="273.06" x2="581.51" y2="248.18" stroke="#333" stroke-width="0.7" stroke-linecap="butt"/>
<line x1="578.11" y1="273.06" x2="584.91" y2="273.06" stroke="#333" stroke-width="0.7" stroke-linecap="butt"/>
<line x1="578.11" y1="248.18" x2="584.91" y2="248.18" stroke="#333" stroke-width="0.7" stroke-linecap="butt"/>
<line x1="599.18" y1="286.10" x2="599.18" y2="292.50" stroke="#555" stroke-width="0.6" stroke-linecap="butt"/>
<line x1="599.18" y1="277.81" x2="599.18" y2="254.11" stroke="#333" stroke-width="0.7" stroke-linecap="butt"/>
<line x1="595.78" y1="277.81" x2="602.58" y2="277.81" stroke="#333" stroke-width="0.7" stroke-linecap="butt"/>
<line x1="595.78" y1="254.11" x2="602.58" y2="254.11" stroke="#333" stroke-width="0.7" stroke-linecap="butt"/>
<line x1="616.85" y1="286.10" x2="616.85" y2="292.50" stroke="#555" stroke-width="0.6" stroke-linecap="butt"/>
<line x1="616.85" y1="281.36" x2="616.85" y2="257.07" stroke="#333" stroke-width="0.7" stroke-linecap="butt"/>
<line x1="613.45" y1="281.36" x2="620.25" y2="281.36" stroke="#333" stroke-width="0.7" stroke-linecap="butt"/>
<line x1="613.45" y1="257.07" x2="620.25" y2="257.07" stroke="#333" stroke-width="0.7" stroke-linecap="butt"/>
<line x1="634.52" y1="286.10" x2="634.52" y2="292.50" stroke="#555" stroke-width="0.6" stroke-linecap="butt"/>
<line x1="634.52" y1="293.09" x2="634.52" y2="316.91" stroke="#333" stroke-width="0.7" stroke-linecap="butt"/>
<line x1="631.12" y1="293.09" x2="637.92" y2="293.09" stroke="#333" stroke-width="0.7" stroke-linecap="butt"/>
<line x1="631.12" y1="316.91" x2="637.92" y2="316.91" stroke="#333" stroke-width="0.7" stroke-linecap="butt"/>
<line x1="652.19" y1="286.10" x2="652.19" y2="292.50" stroke="#555" stroke-width="0.6" stroke-linecap="butt"/>
<line x1="652.19" y1="316.32" x2="652.19" y2="337.29" stroke="#333" stroke-width="0.7" stroke-linecap="butt"/>
<line x1="648.79" y1="316.32" x2="655.59" y2="316.32" stroke="#333" stroke-width="0.7" stroke-linecap="butt"/>
<line x1="648.79" y1="337.29" x2="655.59" y2="337.29" stroke="#333" stroke-width="0.7" stroke-linecap="butt"/>
<line x1="669.86" y1="286.10" x2="669.86" y2="292.50" stroke="#555" stroke-width="0.6" stroke-linecap="butt"/>
<line x1="669.86" y1="318.10" x2="669.86" y2="338.60" stroke="#333" stroke-width="0.7" stroke-linecap="butt"/>
<line x1="666.46" y1="318.10" x2="673.26" y2="318.10" stroke="#333" stroke-width="0.7" stroke-linecap="butt"/>
<line x1="666.46" y1="338.60" x2="673.26" y2="338.60" stroke="#333" stroke-width="0.7" stroke-linecap="butt"/>
<text x="520.60" y="217.60" font-size="7.6" text-anchor="start" fill="#333" font-weight="normal" font-style="normal">3.4<tspan font-size="6.4"> × </tspan>10<tspan dy="-3.2" font-size="4.8">−11</tspan></text>
<text x="530.80" y="225.10" font-size="7.6" text-anchor="start" fill="#333" font-weight="normal" font-style="normal">3.9<tspan font-size="6.4"> × </tspan>10<tspan dy="-3.2" font-size="4.8">−10</tspan></text>
<text x="550.20" y="232.50" font-size="7.6" text-anchor="start" fill="#333" font-weight="normal" font-style="normal">1.8<tspan font-size="6.4"> × </tspan>10<tspan dy="-3.2" font-size="4.8">−6</tspan></text>
<text x="568.80" y="240.00" font-size="7.6" text-anchor="start" fill="#333" font-weight="normal" font-style="normal">4.8<tspan font-size="6.4"> × </tspan>10<tspan dy="-3.2" font-size="4.8">−5</tspan></text>
<text x="587.80" y="247.60" font-size="7.6" text-anchor="start" fill="#333" font-weight="normal" font-style="normal">0.001</text>
<text x="605.30" y="254.80" font-size="7.6" text-anchor="start" fill="#333" font-weight="normal" font-style="normal">0.007</text>
<text x="637.00" y="268.20" font-size="7.6" text-anchor="start" fill="#333" font-weight="normal" font-style="normal">1.0<tspan font-size="6.4"> × </tspan>10<tspan dy="-3.2" font-size="4.8">−10</tspan></text>
<text x="623.60" y="280.40" font-size="7.6" text-anchor="start" fill="#333" font-weight="normal" font-style="normal">0.003</text>
<text x="653.40" y="280.40" font-size="7.6" text-anchor="start" fill="#333" font-weight="normal" font-style="normal">3.4<tspan font-size="6.4"> × </tspan>10<tspan dy="-3.2" font-size="4.8">−11</tspan></text>
<text x="479.80" y="286.00" font-size="9.0" text-anchor="middle" fill="#333" font-weight="normal" font-style="normal" transform="rotate(-90 479.80 286.00)">Correlation coefficient between</text>
<text x="489.90" y="286.00" font-size="9.0" text-anchor="middle" fill="#333" font-weight="normal" font-style="normal" transform="rotate(-90 489.90 286.00)">average A–B score and log<tspan dy="2" font-size="6.5">2</tspan><tspan dy="-2">fc matrix</tspan></text>
<text x="533.80" y="358.60" font-size="8.4" text-anchor="end" fill="#333" font-weight="normal" font-style="normal" transform="rotate(-45 533.80 358.60)">sgFAM69B</text>
<text x="551.47" y="358.60" font-size="8.4" text-anchor="end" fill="#333" font-weight="normal" font-style="normal" transform="rotate(-45 551.47 358.60)">sgZNF114</text>
<text x="569.14" y="358.60" font-size="8.4" text-anchor="end" fill="#333" font-weight="normal" font-style="normal" transform="rotate(-45 569.14 358.60)">sgFOS</text>
<text x="586.81" y="358.60" font-size="8.4" text-anchor="end" fill="#333" font-weight="normal" font-style="normal" transform="rotate(-45 586.81 358.60)">sgLRRC10B</text>
<text x="604.48" y="358.60" font-size="8.4" text-anchor="end" fill="#333" font-weight="normal" font-style="normal" transform="rotate(-45 604.48 358.60)">sgDDX24</text>
<text x="622.15" y="358.60" font-size="8.4" text-anchor="end" fill="#333" font-weight="normal" font-style="normal" transform="rotate(-45 622.15 358.60)">sgRB1</text>
<text x="639.82" y="358.60" font-size="8.4" text-anchor="end" fill="#333" font-weight="normal" font-style="normal" transform="rotate(-45 639.82 358.60)">sgPDE1A</text>
<text x="657.49" y="358.60" font-size="8.4" text-anchor="end" fill="#333" font-weight="normal" font-style="normal" transform="rotate(-45 657.49 358.60)">sgPIP5K1B</text>
<text x="675.16" y="358.60" font-size="8.4" text-anchor="end" fill="#333" font-weight="normal" font-style="normal" transform="rotate(-45 675.16 358.60)">sgFAM13C</text>
<text x="0.30" y="611.00" font-size="11.5" font-weight="bold" fill="#000" stroke="#000" stroke-width="0.35">j</text>
<rect x="39.80" y="633.20" width="9.31" height="9.31" fill="#700c10"/>
<rect x="48.61" y="633.20" width="9.31" height="9.31" fill="#b91b22"/>
<rect x="57.42" y="633.20" width="9.31" height="9.31" fill="#f49d9f"/>
<rect x="66.23" y="633.20" width="9.31" height="9.31" fill="#e93035"/>
<rect x="75.04" y="633.20" width="9.31" height="9.31" fill="#f28083"/>
<rect x="83.85" y="633.20" width="9.31" height="9.31" fill="#9f9fd2"/>
<rect x="92.66" y="633.20" width="9.31" height="9.31" fill="#9f9fd2"/>
<rect x="101.47" y="633.20" width="9.31" height="9.31" fill="#5458b0"/>
<rect x="110.28" y="633.20" width="9.31" height="9.31" fill="#ffffff"/>
<rect x="119.09" y="633.20" width="9.31" height="9.31" fill="#8585c5"/>
<rect x="127.90" y="633.20" width="9.31" height="9.31" fill="#4d53ac"/>
<rect x="136.71" y="633.20" width="9.31" height="9.31" fill="#2c3894"/>
<rect x="145.52" y="633.20" width="9.31" height="9.31" fill="#5458b0"/>
<rect x="154.33" y="633.20" width="9.31" height="9.31" fill="#2f3c9c"/>
<rect x="163.14" y="633.20" width="9.31" height="9.31" fill="#9f9fd2"/>
<rect x="171.95" y="633.20" width="9.31" height="9.31" fill="#8c8cc9"/>
<rect x="180.76" y="633.20" width="9.31" height="9.31" fill="#fff9f9"/>
<rect x="189.57" y="633.20" width="8.81" height="9.31" fill="#6668b8"/>
<rect x="39.80" y="642.01" width="9.31" height="9.31" fill="#b91b22"/>
<rect x="48.61" y="642.01" width="9.31" height="9.31" fill="#700c10"/>
<rect x="57.42" y="642.01" width="9.31" height="9.31" fill="#f5a6a8"/>
<rect x="66.23" y="642.01" width="9.31" height="9.31" fill="#f28083"/>
<rect x="75.04" y="642.01" width="9.31" height="9.31" fill="#f28689"/>
<rect x="83.85" y="642.01" width="9.31" height="9.31" fill="#434ba7"/>
<rect x="92.66" y="642.01" width="9.31" height="9.31" fill="#323f9e"/>
<rect x="101.47" y="642.01" width="9.31" height="9.31" fill="#3c46a3"/>
<rect x="110.28" y="642.01" width="9.31" height="9.31" fill="#d5d5ec"/>
<rect x="119.09" y="642.01" width="9.31" height="9.31" fill="#fde1e3"/>
<rect x="127.90" y="642.01" width="9.31" height="9.31" fill="#f49799"/>
<rect x="136.71" y="642.01" width="9.31" height="9.31" fill="#2f3c9c"/>
<rect x="145.52" y="642.01" width="9.31" height="9.31" fill="#a8a8d6"/>
<rect x="154.33" y="642.01" width="9.31" height="9.31" fill="#2f3c9c"/>
<rect x="163.14" y="642.01" width="9.31" height="9.31" fill="#a8a8d6"/>
<rect x="171.95" y="642.01" width="9.31" height="9.31" fill="#e0e0f1"/>
<rect x="180.76" y="642.01" width="9.31" height="9.31" fill="#5458b0"/>
<rect x="189.57" y="642.01" width="8.81" height="9.31" fill="#6668b8"/>
<rect x="39.80" y="650.82" width="9.31" height="9.31" fill="#f49d9f"/>
<rect x="48.61" y="650.82" width="9.31" height="9.31" fill="#f5a6a8"/>
<rect x="57.42" y="650.82" width="9.31" height="9.31" fill="#700c10"/>
<rect x="66.23" y="650.82" width="9.31" height="9.31" fill="#e8262b"/>
<rect x="75.04" y="650.82" width="9.31" height="9.31" fill="#f16f73"/>
<rect x="83.85" y="650.82" width="9.31" height="9.31" fill="#eaeaf6"/>
<rect x="92.66" y="650.82" width="9.31" height="9.31" fill="#bebee1"/>
<rect x="101.47" y="650.82" width="9.31" height="9.31" fill="#e5e5f4"/>
<rect x="110.28" y="650.82" width="9.31" height="9.31" fill="#ee5459"/>
<rect x="119.09" y="650.82" width="9.31" height="9.31" fill="#9f9fd2"/>
<rect x="127.90" y="650.82" width="9.31" height="9.31" fill="#f6b3b5"/>
<rect x="136.71" y="650.82" width="9.31" height="9.31" fill="#f06a6d"/>
<rect x="145.52" y="650.82" width="9.31" height="9.31" fill="#faced0"/>
<rect x="154.33" y="650.82" width="9.31" height="9.31" fill="#d0d0ea"/>
<rect x="163.14" y="650.82" width="9.31" height="9.31" fill="#f6afb1"/>
<rect x="171.95" y="650.82" width="9.31" height="9.31" fill="#f38c8e"/>
<rect x="180.76" y="650.82" width="9.31" height="9.31" fill="#e5e5f4"/>
<rect x="189.57" y="650.82" width="8.81" height="9.31" fill="#2f3c9c"/>
<rect x="39.80" y="659.63" width="9.31" height="9.31" fill="#e93035"/>
<rect x="48.61" y="659.63" width="9.31" height="9.31" fill="#f28083"/>
<rect x="57.42" y="659.63" width="9.31" height="9.31" fill="#e8262b"/>
<rect x="66.23" y="659.63" width="9.31" height="9.31" fill="#700c10"/>
<rect x="75.04" y="659.63" width="9.31" height="9.31" fill="#f49d9f"/>
<rect x="83.85" y="659.63" width="9.31" height="9.31" fill="#e5e5f4"/>
<rect x="92.66" y="659.63" width="9.31" height="9.31" fill="#d5d5ec"/>
<rect x="101.47" y="659.63" width="9.31" height="9.31" fill="#8c8cc9"/>
<rect x="110.28" y="659.63" width="9.31" height="9.31" fill="#8c8cc9"/>
<rect x="119.09" y="659.63" width="9.31" height="9.31" fill="#7979c0"/>
<rect x="127.90" y="659.63" width="9.31" height="9.31" fill="#faced0"/>
<rect x="136.71" y="659.63" width="9.31" height="9.31" fill="#5458b0"/>
<rect x="145.52" y="659.63" width="9.31" height="9.31" fill="#2f3c9c"/>
<rect x="154.33" y="659.63" width="9.31" height="9.31" fill="#5a5db2"/>
<rect x="163.14" y="659.63" width="9.31" height="9.31" fill="#fef3f4"/>
<rect x="171.95" y="659.63" width="9.31" height="9.31" fill="#efeff8"/>
<rect x="180.76" y="659.63" width="9.31" height="9.31" fill="#8989c7"/>
<rect x="189.57" y="659.63" width="8.81" height="9.31" fill="#f5f5fa"/>
<rect x="39.80" y="668.44" width="9.31" height="9.31" fill="#f28083"/>
<rect x="48.61" y="668.44" width="9.31" height="9.31" fill="#f28689"/>
<rect x="57.42" y="668.44" width="9.31" height="9.31" fill="#f16f73"/>
<rect x="66.23" y="668.44" width="9.31" height="9.31" fill="#f49d9f"/>
<rect x="75.04" y="668.44" width="9.31" height="9.31" fill="#700c10"/>
<rect x="83.85" y="668.44" width="9.31" height="9.31" fill="#f4a2a4"/>
<rect x="92.66" y="668.44" width="9.31" height="9.31" fill="#feedee"/>
<rect x="101.47" y="668.44" width="9.31" height="9.31" fill="#f9c9cb"/>
<rect x="110.28" y="668.44" width="9.31" height="9.31" fill="#f28689"/>
<rect x="119.09" y="668.44" width="9.31" height="9.31" fill="#fbd3d5"/>
<rect x="127.90" y="668.44" width="9.31" height="9.31" fill="#f28689"/>
<rect x="136.71" y="668.44" width="9.31" height="9.31" fill="#5458b0"/>
<rect x="145.52" y="668.44" width="9.31" height="9.31" fill="#c2c2e3"/>
<rect x="154.33" y="668.44" width="9.31" height="9.31" fill="#c6c6e5"/>
<rect x="163.14" y="668.44" width="9.31" height="9.31" fill="#eaeaf6"/>
<rect x="171.95" y="668.44" width="9.31" height="9.31" fill="#f06a6d"/>
<rect x="180.76" y="668.44" width="9.31" height="9.31" fill="#2f3c9c"/>
<rect x="189.57" y="668.44" width="8.81" height="9.31" fill="#2f3c9c"/>
<rect x="39.80" y="677.25" width="9.31" height="9.31" fill="#9f9fd2"/>
<rect x="48.61" y="677.25" width="9.31" height="9.31" fill="#434ba7"/>
<rect x="57.42" y="677.25" width="9.31" height="9.31" fill="#eaeaf6"/>
<rect x="66.23" y="677.25" width="9.31" height="9.31" fill="#e5e5f4"/>
<rect x="75.04" y="677.25" width="9.31" height="9.31" fill="#f4a2a4"/>
<rect x="83.85" y="677.25" width="9.31" height="9.31" fill="#700c10"/>
<rect x="92.66" y="677.25" width="9.31" height="9.31" fill="#f5aaac"/>
<rect x="101.47" y="677.25" width="9.31" height="9.31" fill="#f06468"/>
<rect x="110.28" y="677.25" width="9.31" height="9.31" fill="#fbd7d9"/>
<rect x="119.09" y="677.25" width="9.31" height="9.31" fill="#fcdcde"/>
<rect x="127.90" y="677.25" width="9.31" height="9.31" fill="#efeff8"/>
<rect x="136.71" y="677.25" width="9.31" height="9.31" fill="#f27b7e"/>
<rect x="145.52" y="677.25" width="9.31" height="9.31" fill="#f27b7e"/>
<rect x="154.33" y="677.25" width="9.31" height="9.31" fill="#fbd7d9"/>
<rect x="163.14" y="677.25" width="9.31" height="9.31" fill="#ffffff"/>
<rect x="171.95" y="677.25" width="9.31" height="9.31" fill="#e8262b"/>
<rect x="180.76" y="677.25" width="9.31" height="9.31" fill="#dbdbef"/>
<rect x="189.57" y="677.25" width="8.81" height="9.31" fill="#f9c4c6"/>
<rect x="39.80" y="686.06" width="9.31" height="9.31" fill="#9f9fd2"/>
<rect x="48.61" y="686.06" width="9.31" height="9.31" fill="#323f9e"/>
<rect x="57.42" y="686.06" width="9.31" height="9.31" fill="#bebee1"/>
<rect x="66.23" y="686.06" width="9.31" height="9.31" fill="#d5d5ec"/>
<rect x="75.04" y="686.06" width="9.31" height="9.31" fill="#feedee"/>
<rect x="83.85" y="686.06" width="9.31" height="9.31" fill="#f5aaac"/>
<rect x="92.66" y="686.06" width="9.31" height="9.31" fill="#700c10"/>
<rect x="101.47" y="686.06" width="9.31" height="9.31" fill="#f06468"/>
<rect x="110.28" y="686.06" width="9.31" height="9.31" fill="#f06a6d"/>
<rect x="119.09" y="686.06" width="9.31" height="9.31" fill="#f9c9cb"/>
<rect x="127.90" y="686.06" width="9.31" height="9.31" fill="#e5e5f4"/>
<rect x="136.71" y="686.06" width="9.31" height="9.31" fill="#f06a6d"/>
<rect x="145.52" y="686.06" width="9.31" height="9.31" fill="#dbdbef"/>
<rect x="154.33" y="686.06" width="9.31" height="9.31" fill="#f6b3b5"/>
<rect x="163.14" y="686.06" width="9.31" height="9.31" fill="#f9c9cb"/>
<rect x="171.95" y="686.06" width="9.31" height="9.31" fill="#f7b7b9"/>
<rect x="180.76" y="686.06" width="9.31" height="9.31" fill="#fcdcde"/>
<rect x="189.57" y="686.06" width="8.81" height="9.31" fill="#ffffff"/>
<rect x="39.80" y="694.87" width="9.31" height="9.31" fill="#5458b0"/>
<rect x="48.61" y="694.87" width="9.31" height="9.31" fill="#3c46a3"/>
<rect x="57.42" y="694.87" width="9.31" height="9.31" fill="#e5e5f4"/>
<rect x="66.23" y="694.87" width="9.31" height="9.31" fill="#8c8cc9"/>
<rect x="75.04" y="694.87" width="9.31" height="9.31" fill="#f9c9cb"/>
<rect x="83.85" y="694.87" width="9.31" height="9.31" fill="#f06468"/>
<rect x="92.66" y="694.87" width="9.31" height="9.31" fill="#f06468"/>
<rect x="101.47" y="694.87" width="9.31" height="9.31" fill="#700c10"/>
<rect x="110.28" y="694.87" width="9.31" height="9.31" fill="#f7b7b9"/>
<rect x="119.09" y="694.87" width="9.31" height="9.31" fill="#f06a6d"/>
<rect x="127.90" y="694.87" width="9.31" height="9.31" fill="#f9c9cb"/>
<rect x="136.71" y="694.87" width="9.31" height="9.31" fill="#f16f73"/>
<rect x="145.52" y="694.87" width="9.31" height="9.31" fill="#e5e5f4"/>
<rect x="154.33" y="694.87" width="9.31" height="9.31" fill="#fcdcde"/>
<rect x="163.14" y="694.87" width="9.31" height="9.31" fill="#f6b3b5"/>
<rect x="171.95" y="694.87" width="9.31" height="9.31" fill="#d0d0ea"/>
<rect x="180.76" y="694.87" width="9.31" height="9.31" fill="#f6afb1"/>
<rect x="189.57" y="694.87" width="8.81" height="9.31" fill="#f8c0c2"/>
<rect x="39.80" y="703.68" width="9.31" height="9.31" fill="#ffffff"/>
<rect x="48.61" y="703.68" width="9.31" height="9.31" fill="#d5d5ec"/>
<rect x="57.42" y="703.68" width="9.31" height="9.31" fill="#ee5459"/>
<rect x="66.23" y="703.68" width="9.31" height="9.31" fill="#8c8cc9"/>
<rect x="75.04" y="703.68" width="9.31" height="9.31" fill="#f28689"/>
<rect x="83.85" y="703.68" width="9.31" height="9.31" fill="#fbd7d9"/>
<rect x="92.66" y="703.68" width="9.31" height="9.31" fill="#f06a6d"/>
<rect x="101.47" y="703.68" width="9.31" height="9.31" fill="#f7b7b9"/>
<rect x="110.28" y="703.68" width="9.31" height="9.31" fill="#700c10"/>
<rect x="119.09" y="703.68" width="9.31" height="9.31" fill="#ef5f63"/>
<rect x="127.90" y="703.68" width="9.31" height="9.31" fill="#6c6eba"/>
<rect x="136.71" y="703.68" width="9.31" height="9.31" fill="#fcdcde"/>
<rect x="145.52" y="703.68" width="9.31" height="9.31" fill="#9f9fd2"/>
<rect x="154.33" y="703.68" width="9.31" height="9.31" fill="#5a5db2"/>
<rect x="163.14" y="703.68" width="9.31" height="9.31" fill="#fff9f9"/>
<rect x="171.95" y="703.68" width="9.31" height="9.31" fill="#ef5f63"/>
<rect x="180.76" y="703.68" width="9.31" height="9.31" fill="#faced0"/>
<rect x="189.57" y="703.68" width="8.81" height="9.31" fill="#3944a2"/>
<rect x="39.80" y="712.49" width="9.31" height="9.31" fill="#8585c5"/>
<rect x="48.61" y="712.49" width="9.31" height="9.31" fill="#fde1e3"/>
<rect x="57.42" y="712.49" width="9.31" height="9.31" fill="#9f9fd2"/>
<rect x="66.23" y="712.49" width="9.31" height="9.31" fill="#7979c0"/>
<rect x="75.04" y="712.49" width="9.31" height="9.31" fill="#fbd3d5"/>
<rect x="83.85" y="712.49" width="9.31" height="9.31" fill="#fcdcde"/>
<rect x="92.66" y="712.49" width="9.31" height="9.31" fill="#f9c9cb"/>
<rect x="101.47" y="712.49" width="9.31" height="9.31" fill="#f06a6d"/>
<rect x="110.28" y="712.49" width="9.31" height="9.31" fill="#ef5f63"/>
<rect x="119.09" y="712.49" width="9.31" height="9.31" fill="#700c10"/>
<rect x="127.90" y="712.49" width="9.31" height="9.31" fill="#f27b7e"/>
<rect x="136.71" y="712.49" width="9.31" height="9.31" fill="#feedee"/>
<rect x="145.52" y="712.49" width="9.31" height="9.31" fill="#9898ce"/>
<rect x="154.33" y="712.49" width="9.31" height="9.31" fill="#3944a2"/>
<rect x="163.14" y="712.49" width="9.31" height="9.31" fill="#8585c5"/>
<rect x="171.95" y="712.49" width="9.31" height="9.31" fill="#f9c4c6"/>
<rect x="180.76" y="712.49" width="9.31" height="9.31" fill="#fafafd"/>
<rect x="189.57" y="712.49" width="8.81" height="9.31" fill="#f28689"/>
<rect x="39.80" y="721.30" width="9.31" height="9.31" fill="#4d53ac"/>
<rect x="48.61" y="721.30" width="9.31" height="9.31" fill="#f49799"/>
<rect x="57.42" y="721.30" width="9.31" height="9.31" fill="#f6b3b5"/>
<rect x="66.23" y="721.30" width="9.31" height="9.31" fill="#faced0"/>
<rect x="75.04" y="721.30" width="9.31" height="9.31" fill="#f28689"/>
<rect x="83.85" y="721.30" width="9.31" height="9.31" fill="#efeff8"/>
<rect x="92.66" y="721.30" width="9.31" height="9.31" fill="#e5e5f4"/>
<rect x="101.47" y="721.30" width="9.31" height="9.31" fill="#f9c9cb"/>
<rect x="110.28" y="721.30" width="9.31" height="9.31" fill="#6c6eba"/>
<rect x="119.09" y="721.30" width="9.31" height="9.31" fill="#f27b7e"/>
<rect x="127.90" y="721.30" width="9.31" height="9.31" fill="#700c10"/>
<rect x="136.71" y="721.30" width="9.31" height="9.31" fill="#e8262b"/>
<rect x="145.52" y="721.30" width="9.31" height="9.31" fill="#f38c8e"/>
<rect x="154.33" y="721.30" width="9.31" height="9.31" fill="#dbdbef"/>
<rect x="163.14" y="721.30" width="9.31" height="9.31" fill="#f6afb1"/>
<rect x="171.95" y="721.30" width="9.31" height="9.31" fill="#f28689"/>
<rect x="180.76" y="721.30" width="9.31" height="9.31" fill="#feedee"/>
<rect x="189.57" y="721.30" width="8.81" height="9.31" fill="#f49d9f"/>
<rect x="39.80" y="730.11" width="9.31" height="9.31" fill="#2c3894"/>
<rect x="48.61" y="730.11" width="9.31" height="9.31" fill="#2f3c9c"/>
<rect x="57.42" y="730.11" width="9.31" height="9.31" fill="#f06a6d"/>
<rect x="66.23" y="730.11" width="9.31" height="9.31" fill="#5458b0"/>
<rect x="75.04" y="730.11" width="9.31" height="9.31" fill="#5458b0"/>
<rect x="83.85" y="730.11" width="9.31" height="9.31" fill="#f27b7e"/>
<rect x="92.66" y="730.11" width="9.31" height="9.31" fill="#f06a6d"/>
<rect x="101.47" y="730.11" width="9.31" height="9.31" fill="#f16f73"/>
<rect x="110.28" y="730.11" width="9.31" height="9.31" fill="#fcdcde"/>
<rect x="119.09" y="730.11" width="9.31" height="9.31" fill="#feedee"/>
<rect x="127.90" y="730.11" width="9.31" height="9.31" fill="#e8262b"/>
<rect x="136.71" y="730.11" width="9.31" height="9.31" fill="#700c10"/>
<rect x="145.52" y="730.11" width="9.31" height="9.31" fill="#e92b30"/>
<rect x="154.33" y="730.11" width="9.31" height="9.31" fill="#f06a6d"/>
<rect x="163.14" y="730.11" width="9.31" height="9.31" fill="#f06468"/>
<rect x="171.95" y="730.11" width="9.31" height="9.31" fill="#f6b3b5"/>
<rect x="180.76" y="730.11" width="9.31" height="9.31" fill="#f17578"/>
<rect x="189.57" y="730.11" width="8.81" height="9.31" fill="#fcdcde"/>
<rect x="39.80" y="738.92" width="9.31" height="9.31" fill="#5458b0"/>
<rect x="48.61" y="738.92" width="9.31" height="9.31" fill="#a8a8d6"/>
<rect x="57.42" y="738.92" width="9.31" height="9.31" fill="#faced0"/>
<rect x="66.23" y="738.92" width="9.31" height="9.31" fill="#2f3c9c"/>
<rect x="75.04" y="738.92" width="9.31" height="9.31" fill="#c2c2e3"/>
<rect x="83.85" y="738.92" width="9.31" height="9.31" fill="#f27b7e"/>
<rect x="92.66" y="738.92" width="9.31" height="9.31" fill="#dbdbef"/>
<rect x="101.47" y="738.92" width="9.31" height="9.31" fill="#e5e5f4"/>
<rect x="110.28" y="738.92" width="9.31" height="9.31" fill="#9f9fd2"/>
<rect x="119.09" y="738.92" width="9.31" height="9.31" fill="#9898ce"/>
<rect x="127.90" y="738.92" width="9.31" height="9.31" fill="#f38c8e"/>
<rect x="136.71" y="738.92" width="9.31" height="9.31" fill="#e92b30"/>
<rect x="145.52" y="738.92" width="9.31" height="9.31" fill="#700c10"/>
<rect x="154.33" y="738.92" width="9.31" height="9.31" fill="#e8262b"/>
<rect x="163.14" y="738.92" width="9.31" height="9.31" fill="#f06468"/>
<rect x="171.95" y="738.92" width="9.31" height="9.31" fill="#feedee"/>
<rect x="180.76" y="738.92" width="9.31" height="9.31" fill="#fff9f9"/>
<rect x="189.57" y="738.92" width="8.81" height="9.31" fill="#9f9fd2"/>
<rect x="39.80" y="747.73" width="9.31" height="9.31" fill="#2f3c9c"/>
<rect x="48.61" y="747.73" width="9.31" height="9.31" fill="#2f3c9c"/>
<rect x="57.42" y="747.73" width="9.31" height="9.31" fill="#d0d0ea"/>
<rect x="66.23" y="747.73" width="9.31" height="9.31" fill="#5a5db2"/>
<rect x="75.04" y="747.73" width="9.31" height="9.31" fill="#c6c6e5"/>
<rect x="83.85" y="747.73" width="9.31" height="9.31" fill="#fbd7d9"/>
<rect x="92.66" y="747.73" width="9.31" height="9.31" fill="#f6b3b5"/>
<rect x="101.47" y="747.73" width="9.31" height="9.31" fill="#fcdcde"/>
<rect x="110.28" y="747.73" width="9.31" height="9.31" fill="#5a5db2"/>
<rect x="119.09" y="747.73" width="9.31" height="9.31" fill="#3944a2"/>
<rect x="127.90" y="747.73" width="9.31" height="9.31" fill="#dbdbef"/>
<rect x="136.71" y="747.73" width="9.31" height="9.31" fill="#f06a6d"/>
<rect x="145.52" y="747.73" width="9.31" height="9.31" fill="#e8262b"/>
<rect x="154.33" y="747.73" width="9.31" height="9.31" fill="#700c10"/>
<rect x="163.14" y="747.73" width="9.31" height="9.31" fill="#f06a6d"/>
<rect x="171.95" y="747.73" width="9.31" height="9.31" fill="#ffffff"/>
<rect x="180.76" y="747.73" width="9.31" height="9.31" fill="#c6c6e5"/>
<rect x="189.57" y="747.73" width="8.81" height="9.31" fill="#f06a6d"/>
<rect x="39.80" y="756.54" width="9.31" height="9.31" fill="#9f9fd2"/>
<rect x="48.61" y="756.54" width="9.31" height="9.31" fill="#a8a8d6"/>
<rect x="57.42" y="756.54" width="9.31" height="9.31" fill="#f6afb1"/>
<rect x="66.23" y="756.54" width="9.31" height="9.31" fill="#fef3f4"/>
<rect x="75.04" y="756.54" width="9.31" height="9.31" fill="#eaeaf6"/>
<rect x="83.85" y="756.54" width="9.31" height="9.31" fill="#ffffff"/>
<rect x="92.66" y="756.54" width="9.31" height="9.31" fill="#f9c9cb"/>
<rect x="101.47" y="756.54" width="9.31" height="9.31" fill="#f6b3b5"/>
<rect x="110.28" y="756.54" width="9.31" height="9.31" fill="#fff9f9"/>
<rect x="119.09" y="756.54" width="9.31" height="9.31" fill="#8585c5"/>
<rect x="127.90" y="756.54" width="9.31" height="9.31" fill="#f6afb1"/>
<rect x="136.71" y="756.54" width="9.31" height="9.31" fill="#f06468"/>
<rect x="145.52" y="756.54" width="9.31" height="9.31" fill="#f06468"/>
<rect x="154.33" y="756.54" width="9.31" height="9.31" fill="#f06a6d"/>
<rect x="163.14" y="756.54" width="9.31" height="9.31" fill="#700c10"/>
<rect x="171.95" y="756.54" width="9.31" height="9.31" fill="#c81e26"/>
<rect x="180.76" y="756.54" width="9.31" height="9.31" fill="#c2c2e3"/>
<rect x="189.57" y="756.54" width="8.81" height="9.31" fill="#eaeaf6"/>
<rect x="39.80" y="765.35" width="9.31" height="9.31" fill="#8c8cc9"/>
<rect x="48.61" y="765.35" width="9.31" height="9.31" fill="#e0e0f1"/>
<rect x="57.42" y="765.35" width="9.31" height="9.31" fill="#f38c8e"/>
<rect x="66.23" y="765.35" width="9.31" height="9.31" fill="#efeff8"/>
<rect x="75.04" y="765.35" width="9.31" height="9.31" fill="#f06a6d"/>
<rect x="83.85" y="765.35" width="9.31" height="9.31" fill="#e8262b"/>
<rect x="92.66" y="765.35" width="9.31" height="9.31" fill="#f7b7b9"/>
<rect x="101.47" y="765.35" width="9.31" height="9.31" fill="#d0d0ea"/>
<rect x="110.28" y="765.35" width="9.31" height="9.31" fill="#ef5f63"/>
<rect x="119.09" y="765.35" width="9.31" height="9.31" fill="#f9c4c6"/>
<rect x="127.90" y="765.35" width="9.31" height="9.31" fill="#f28689"/>
<rect x="136.71" y="765.35" width="9.31" height="9.31" fill="#f6b3b5"/>
<rect x="145.52" y="765.35" width="9.31" height="9.31" fill="#feedee"/>
<rect x="154.33" y="765.35" width="9.31" height="9.31" fill="#ffffff"/>
<rect x="163.14" y="765.35" width="9.31" height="9.31" fill="#c81e26"/>
<rect x="171.95" y="765.35" width="9.31" height="9.31" fill="#700c10"/>
<rect x="180.76" y="765.35" width="9.31" height="9.31" fill="#ffffff"/>
<rect x="189.57" y="765.35" width="8.81" height="9.31" fill="#9f9fd2"/>
<rect x="39.80" y="774.16" width="9.31" height="9.31" fill="#fff9f9"/>
<rect x="48.61" y="774.16" width="9.31" height="9.31" fill="#5458b0"/>
<rect x="57.42" y="774.16" width="9.31" height="9.31" fill="#e5e5f4"/>
<rect x="66.23" y="774.16" width="9.31" height="9.31" fill="#8989c7"/>
<rect x="75.04" y="774.16" width="9.31" height="9.31" fill="#2f3c9c"/>
<rect x="83.85" y="774.16" width="9.31" height="9.31" fill="#dbdbef"/>
<rect x="92.66" y="774.16" width="9.31" height="9.31" fill="#fcdcde"/>
<rect x="101.47" y="774.16" width="9.31" height="9.31" fill="#f6afb1"/>
<rect x="110.28" y="774.16" width="9.31" height="9.31" fill="#faced0"/>
<rect x="119.09" y="774.16" width="9.31" height="9.31" fill="#fafafd"/>
<rect x="127.90" y="774.16" width="9.31" height="9.31" fill="#feedee"/>
<rect x="136.71" y="774.16" width="9.31" height="9.31" fill="#f17578"/>
<rect x="145.52" y="774.16" width="9.31" height="9.31" fill="#fff9f9"/>
<rect x="154.33" y="774.16" width="9.31" height="9.31" fill="#c6c6e5"/>
<rect x="163.14" y="774.16" width="9.31" height="9.31" fill="#c2c2e3"/>
<rect x="171.95" y="774.16" width="9.31" height="9.31" fill="#ffffff"/>
<rect x="180.76" y="774.16" width="9.31" height="9.31" fill="#700c10"/>
<rect x="189.57" y="774.16" width="8.81" height="9.31" fill="#f49d9f"/>
<rect x="39.80" y="782.97" width="9.31" height="8.81" fill="#6668b8"/>
<rect x="48.61" y="782.97" width="9.31" height="8.81" fill="#6668b8"/>
<rect x="57.42" y="782.97" width="9.31" height="8.81" fill="#2f3c9c"/>
<rect x="66.23" y="782.97" width="9.31" height="8.81" fill="#f5f5fa"/>
<rect x="75.04" y="782.97" width="9.31" height="8.81" fill="#2f3c9c"/>
<rect x="83.85" y="782.97" width="9.31" height="8.81" fill="#f9c4c6"/>
<rect x="92.66" y="782.97" width="9.31" height="8.81" fill="#ffffff"/>
<rect x="101.47" y="782.97" width="9.31" height="8.81" fill="#f8c0c2"/>
<rect x="110.28" y="782.97" width="9.31" height="8.81" fill="#3944a2"/>
<rect x="119.09" y="782.97" width="9.31" height="8.81" fill="#f28689"/>
<rect x="127.90" y="782.97" width="9.31" height="8.81" fill="#f49d9f"/>
<rect x="136.71" y="782.97" width="9.31" height="8.81" fill="#fcdcde"/>
<rect x="145.52" y="782.97" width="9.31" height="8.81" fill="#9f9fd2"/>
<rect x="154.33" y="782.97" width="9.31" height="8.81" fill="#f06a6d"/>
<rect x="163.14" y="782.97" width="9.31" height="8.81" fill="#eaeaf6"/>
<rect x="171.95" y="782.97" width="9.31" height="8.81" fill="#9f9fd2"/>
<rect x="180.76" y="782.97" width="9.31" height="8.81" fill="#f49d9f"/>
<rect x="189.57" y="782.97" width="8.81" height="8.81" fill="#700c10"/>
<rect x="39.80" y="633.20" width="158.58" height="158.58" fill="none" stroke="#333" stroke-width="0.6"/>
<defs><linearGradient id="cbj" x1="0" y1="1" x2="0" y2="0"><stop offset="0.000" stop-color="#1e205e"/><stop offset="0.085" stop-color="#222670"/><stop offset="0.165" stop-color="#262e88"/><stop offset="0.250" stop-color="#2a3898"/><stop offset="0.335" stop-color="#3a46a6"/><stop offset="0.360" stop-color="#5058b0"/><stop offset="0.410" stop-color="#9094cc"/><stop offset="0.450" stop-color="#d0d2ea"/><stop offset="0.500" stop-color="#ffffff"/><stop offset="0.585" stop-color="#f6b0b2"/><stop offset="0.665" stop-color="#f06a6e"/><stop offset="0.750" stop-color="#e8252a"/><stop offset="0.835" stop-color="#c01c24"/><stop offset="0.915" stop-color="#a01820"/><stop offset="1.000" stop-color="#7a0c12"/></linearGradient></defs>
<rect x="202.4" y="634.0" width="7.1" height="158.2" fill="url(#cbj)" stroke="#333" stroke-width="0.5"/>
<line x1="207.60" y1="660.80" x2="209.50" y2="660.80" stroke="#222" stroke-width="0.6" stroke-linecap="butt"/>
<line x1="207.60" y1="686.80" x2="209.50" y2="686.80" stroke="#222" stroke-width="0.6" stroke-linecap="butt"/>
<line x1="207.60" y1="712.40" x2="209.50" y2="712.40" stroke="#222" stroke-width="0.6" stroke-linecap="butt"/>
<line x1="207.60" y1="739.20" x2="209.50" y2="739.20" stroke="#222" stroke-width="0.6" stroke-linecap="butt"/>
<line x1="207.60" y1="765.20" x2="209.50" y2="765.20" stroke="#222" stroke-width="0.6" stroke-linecap="butt"/>
<text x="212.80" y="637.40" font-size="7.8" text-anchor="start" fill="#333" font-weight="normal" font-style="normal">0.6</text>
<text x="212.80" y="663.70" font-size="7.8" text-anchor="start" fill="#333" font-weight="normal" font-style="normal">0.4</text>
<text x="212.80" y="689.70" font-size="7.8" text-anchor="start" fill="#333" font-weight="normal" font-style="normal">0.2</text>
<text x="212.80" y="715.30" font-size="7.8" text-anchor="start" fill="#333" font-weight="normal" font-style="normal">0</text>
<text x="212.80" y="742.10" font-size="7.8" text-anchor="start" fill="#333" font-weight="normal" font-style="normal">−0.2</text>
<text x="212.80" y="768.10" font-size="7.8" text-anchor="start" fill="#333" font-weight="normal" font-style="normal">−0.4</text>
<text x="212.80" y="794.40" font-size="7.8" text-anchor="start" fill="#333" font-weight="normal" font-style="normal">−0.6</text>
<text x="235.60" y="711.70" font-size="9.1" text-anchor="middle" fill="#333" font-weight="normal" font-style="normal" transform="rotate(90 235.60 711.70)">Correlation of log<tspan dy="2" font-size="6.5">2</tspan><tspan dy="-2">fc of inter-TAD distance</tspan></text>
<text transform="translate(36.3 641.71) scale(0.92 1)" font-size="8.4" text-anchor="end" fill="#333" font-style="italic">PCBP1</text>
<text transform="translate(36.3 650.52) scale(0.92 1)" font-size="8.4" text-anchor="end" fill="#333" font-style="italic">NR4A1</text>
<text transform="translate(36.3 659.33) scale(0.92 1)" font-size="8.4" text-anchor="end" fill="#333" font-style="italic">RFESD</text>
<text transform="translate(36.3 668.14) scale(0.92 1)" font-size="8.4" text-anchor="end" fill="#333" font-style="italic">ZNF114</text>
<text transform="translate(36.3 676.95) scale(0.92 1)" font-size="8.4" text-anchor="end" fill="#333" font-style="italic">LRRC10B</text>
<text transform="translate(36.3 685.76) scale(0.92 1)" font-size="8.4" text-anchor="end" fill="#333" font-style="italic">C2CD2</text>
<text transform="translate(36.3 694.57) scale(0.92 1)" font-size="8.4" text-anchor="end" fill="#333" font-style="italic">CHD7</text>
<text transform="translate(36.3 703.38) scale(0.92 1)" font-size="8.4" text-anchor="end" fill="#333" font-style="italic">GLDC</text>
<text transform="translate(36.3 712.19) scale(0.92 1)" font-size="8.4" text-anchor="end" fill="#333" font-style="italic">FAM13C</text>
<text transform="translate(36.3 721.00) scale(0.92 1)" font-size="8.4" text-anchor="end" fill="#333" font-style="italic">PDE1A</text>
<text transform="translate(36.3 729.81) scale(0.92 1)" font-size="8.4" text-anchor="end" fill="#333" font-style="italic">RB1</text>
<text transform="translate(36.3 738.62) scale(0.92 1)" font-size="8.4" text-anchor="end" fill="#333" font-style="italic">MRVI1</text>
<text transform="translate(36.3 747.43) scale(0.92 1)" font-size="8.4" text-anchor="end" fill="#333" font-style="italic">C19orf57</text>
<text transform="translate(36.3 756.24) scale(0.92 1)" font-size="8.4" text-anchor="end" fill="#333" font-style="italic">DDX24</text>
<text transform="translate(36.3 765.05) scale(0.92 1)" font-size="8.4" text-anchor="end" fill="#333" font-style="italic">FAM69B</text>
<text transform="translate(36.3 773.86) scale(0.92 1)" font-size="8.4" text-anchor="end" fill="#333" font-style="italic">FOS</text>
<text transform="translate(36.3 782.67) scale(0.92 1)" font-size="8.4" text-anchor="end" fill="#333" font-style="italic">PIP5K1B</text>
<text transform="translate(36.3 791.48) scale(0.92 1)" font-size="8.4" text-anchor="end" fill="#333" font-style="italic">HOXB9</text>
<path d="M44.20,632.00V630.40H53.02V632.00" fill="none" stroke="#444" stroke-width="0.7"/>
<path d="M61.83,632.00V625.60H70.63V632.00" fill="none" stroke="#444" stroke-width="0.7"/>
<path d="M48.61,630.40V621.20H66.23V625.60" fill="none" stroke="#444" stroke-width="0.7"/>
<path d="M57.42,621.20V620.30H79.44V632.00" fill="none" stroke="#444" stroke-width="0.7"/>
<path d="M97.06,632.00V622.60H105.88V632.00" fill="none" stroke="#444" stroke-width="0.7"/>
<path d="M88.25,632.00V620.30H101.47V622.60" fill="none" stroke="#444" stroke-width="0.7"/>
<path d="M114.69,632.00V621.80H123.50V632.00" fill="none" stroke="#444" stroke-width="0.7"/>
<path d="M94.86,620.30V618.90H119.09V621.80" fill="none" stroke="#444" stroke-width="0.7"/>
<path d="M132.31,632.00V625.80H141.12V632.00" fill="none" stroke="#444" stroke-width="0.7"/>
<path d="M149.93,632.00V625.80H158.74V632.00" fill="none" stroke="#444" stroke-width="0.7"/>
<path d="M136.71,625.80V620.00H154.33V625.80" fill="none" stroke="#444" stroke-width="0.7"/>
<path d="M167.55,632.00V628.70H176.36V632.00" fill="none" stroke="#444" stroke-width="0.7"/>
<path d="M145.52,620.00V619.50H171.95V628.70" fill="none" stroke="#444" stroke-width="0.7"/>
<path d="M185.17,632.00V619.50H193.98V632.00" fill="none" stroke="#444" stroke-width="0.7"/>
<path d="M106.98,618.90V616.60H158.74V619.50" fill="none" stroke="#444" stroke-width="0.7"/>
<path d="M132.86,616.60V616.00H189.57V619.50" fill="none" stroke="#444" stroke-width="0.7"/>
<path d="M68.43,620.30V612.30H161.21V616.00" fill="none" stroke="#444" stroke-width="0.7"/>
<text x="0.00" y="410.00" font-size="11.5" font-weight="bold" fill="#000" stroke="#000" stroke-width="0.35">g</text>
<line x1="57.70" y1="415.20" x2="57.70" y2="566.70" stroke="#c4c4c4" stroke-width="1.2" stroke-linecap="butt"/>
<line x1="53.40" y1="562.40" x2="204.80" y2="562.40" stroke="#7c7c7c" stroke-width="0.8" stroke-linecap="butt"/>
<line x1="53.40" y1="415.48" x2="57.70" y2="415.48" stroke="#666" stroke-width="0.6" stroke-linecap="butt"/>
<text x="49.40" y="418.38" font-size="7.8" text-anchor="end" fill="#333" font-weight="normal" font-style="normal">0.4</text>
<line x1="53.40" y1="452.14" x2="57.70" y2="452.14" stroke="#666" stroke-width="0.6" stroke-linecap="butt"/>
<text x="49.40" y="455.04" font-size="7.8" text-anchor="end" fill="#333" font-weight="normal" font-style="normal">0.2</text>
<line x1="53.40" y1="488.80" x2="57.70" y2="488.80" stroke="#666" stroke-width="0.6" stroke-linecap="butt"/>
<text x="49.40" y="491.70" font-size="7.8" text-anchor="end" fill="#333" font-weight="normal" font-style="normal">0</text>
<line x1="53.40" y1="525.46" x2="57.70" y2="525.46" stroke="#666" stroke-width="0.6" stroke-linecap="butt"/>
<text x="49.40" y="528.36" font-size="7.8" text-anchor="end" fill="#333" font-weight="normal" font-style="normal">−0.2</text>
<line x1="53.40" y1="562.12" x2="57.70" y2="562.12" stroke="#666" stroke-width="0.6" stroke-linecap="butt"/>
<text x="49.40" y="565.02" font-size="7.8" text-anchor="end" fill="#333" font-weight="normal" font-style="normal">−0.4</text>
<line x1="57.90" y1="562.40" x2="57.90" y2="566.70" stroke="#666" stroke-width="0.6" stroke-linecap="butt"/>
<text x="57.90" y="576.00" font-size="7.8" text-anchor="middle" fill="#333" font-weight="normal" font-style="normal">−0.4</text>
<line x1="94.60" y1="562.40" x2="94.60" y2="566.70" stroke="#666" stroke-width="0.6" stroke-linecap="butt"/>
<text x="94.60" y="576.00" font-size="7.8" text-anchor="middle" fill="#333" font-weight="normal" font-style="normal">−0.2</text>
<line x1="131.30" y1="562.40" x2="131.30" y2="566.70" stroke="#666" stroke-width="0.6" stroke-linecap="butt"/>
<text x="131.30" y="576.00" font-size="7.8" text-anchor="middle" fill="#333" font-weight="normal" font-style="normal">0</text>
<line x1="168.00" y1="562.40" x2="168.00" y2="566.70" stroke="#666" stroke-width="0.6" stroke-linecap="butt"/>
<text x="168.00" y="576.00" font-size="7.8" text-anchor="middle" fill="#333" font-weight="normal" font-style="normal">0.2</text>
<line x1="204.70" y1="562.40" x2="204.70" y2="566.70" stroke="#666" stroke-width="0.6" stroke-linecap="butt"/>
<text x="204.70" y="576.00" font-size="7.8" text-anchor="middle" fill="#333" font-weight="normal" font-style="normal">0.4</text>
<text x="67.30" y="416.40" font-size="8.5" text-anchor="start" fill="#333" font-weight="normal" font-style="normal"><tspan font-style="italic">P</tspan><tspan font-size="7.4"> = </tspan>7.6<tspan font-size="7.4"> × </tspan>10<tspan dy="-3.6" font-size="5.4">−12</tspan></text>
<text x="67.30" y="428.00" font-size="8.5" text-anchor="start" fill="#333" font-weight="normal" font-style="normal"><tspan font-style="italic">R</tspan> = 0.35</text>
<circle cx="181.40" cy="452.70" r="3.0" fill="#ed1c26"/>
<circle cx="108.50" cy="490.30" r="3.0" fill="#ed1c26"/>
<circle cx="130.87" cy="483.19" r="3.0" fill="#ed1c26"/>
<circle cx="98.03" cy="508.64" r="3.0" fill="#ed1c26"/>
<circle cx="96.13" cy="519.56" r="3.0" fill="#ed1c26"/>
<circle cx="120.34" cy="516.42" r="3.0" fill="#ed1c26"/>
<circle cx="94.13" cy="514.85" r="3.0" fill="#ed1c26"/>
<circle cx="110.72" cy="523.21" r="3.0" fill="#ed1c26"/>
<circle cx="110.06" cy="496.10" r="3.0" fill="#ed1c26"/>
<circle cx="108.89" cy="534.76" r="3.0" fill="#ed1c26"/>
<circle cx="117.61" cy="503.25" r="3.0" fill="#ed1c26"/>
<circle cx="158.00" cy="465.60" r="3.0" fill="#ed1c26"/>
<circle cx="136.04" cy="528.74" r="3.0" fill="#ed1c26"/>
<circle cx="137.77" cy="521.97" r="3.0" fill="#ed1c26"/>
<circle cx="181.00" cy="501.60" r="3.0" fill="#ed1c26"/>
<circle cx="170.60" cy="503.71" r="3.0" fill="#ed1c26"/>
<circle cx="109.74" cy="508.94" r="3.0" fill="#ed1c26"/>
<circle cx="101.04" cy="521.00" r="3.0" fill="#ed1c26"/>
<circle cx="117.54" cy="494.42" r="3.0" fill="#ed1c26"/>
<circle cx="123.30" cy="508.71" r="3.0" fill="#ed1c26"/>
<circle cx="154.62" cy="494.04" r="3.0" fill="#ed1c26"/>
<circle cx="150.77" cy="512.97" r="3.0" fill="#ed1c26"/>
<circle cx="158.70" cy="490.61" r="3.0" fill="#ed1c26"/>
<circle cx="148.72" cy="510.32" r="3.0" fill="#ed1c26"/>
<circle cx="138.63" cy="492.23" r="3.0" fill="#ed1c26"/>
<circle cx="106.70" cy="539.10" r="3.0" fill="#ed1c26"/>
<circle cx="109.99" cy="528.70" r="3.0" fill="#ed1c26"/>
<circle cx="149.50" cy="472.90" r="3.0" fill="#ed1c26"/>
<circle cx="168.90" cy="473.40" r="3.0" fill="#ed1c26"/>
<circle cx="108.67" cy="488.61" r="3.0" fill="#ed1c26"/>
<circle cx="124.18" cy="495.31" r="3.0" fill="#ed1c26"/>
<circle cx="153.20" cy="510.48" r="3.0" fill="#ed1c26"/>
<circle cx="101.96" cy="502.01" r="3.0" fill="#ed1c26"/>
<circle cx="109.97" cy="501.29" r="3.0" fill="#ed1c26"/>
<circle cx="153.02" cy="498.54" r="3.0" fill="#ed1c26"/>
<circle cx="104.08" cy="518.51" r="3.0" fill="#ed1c26"/>
<circle cx="116.86" cy="523.86" r="3.0" fill="#ed1c26"/>
<circle cx="97.22" cy="502.83" r="3.0" fill="#ed1c26"/>
<circle cx="143.52" cy="503.30" r="3.0" fill="#ed1c26"/>
<circle cx="107.00" cy="495.54" r="3.0" fill="#ed1c26"/>
<circle cx="189.60" cy="476.00" r="3.0" fill="#ed1c26"/>
<circle cx="158.96" cy="497.72" r="3.0" fill="#ed1c26"/>
<circle cx="114.67" cy="520.31" r="3.0" fill="#ed1c26"/>
<circle cx="132.11" cy="488.80" r="3.0" fill="#ed1c26"/>
<circle cx="128.37" cy="526.45" r="3.0" fill="#ed1c26"/>
<circle cx="122.87" cy="509.12" r="3.0" fill="#ed1c26"/>
<circle cx="93.29" cy="511.72" r="3.0" fill="#ed1c26"/>
<circle cx="102.70" cy="457.80" r="3.0" fill="#ed1c26"/>
<circle cx="121.85" cy="518.18" r="3.0" fill="#ed1c26"/>
<circle cx="81.30" cy="531.80" r="3.0" fill="#ed1c26"/>
<circle cx="151.44" cy="514.07" r="3.0" fill="#ed1c26"/>
<circle cx="93.20" cy="466.80" r="3.0" fill="#ed1c26"/>
<circle cx="136.55" cy="506.35" r="3.0" fill="#ed1c26"/>
<circle cx="80.90" cy="517.00" r="3.0" fill="#ed1c26"/>
<circle cx="151.10" cy="459.10" r="3.0" fill="#ed1c26"/>
<circle cx="113.29" cy="537.00" r="3.0" fill="#ed1c26"/>
<circle cx="138.49" cy="503.46" r="3.0" fill="#ed1c26"/>
<circle cx="137.59" cy="490.47" r="3.0" fill="#ed1c26"/>
<circle cx="135.06" cy="520.00" r="3.0" fill="#ed1c26"/>
<circle cx="123.20" cy="484.78" r="3.0" fill="#ed1c26"/>
<circle cx="160.31" cy="492.56" r="3.0" fill="#ed1c26"/>
<circle cx="128.08" cy="504.71" r="3.0" fill="#ed1c26"/>
<circle cx="164.79" cy="495.54" r="3.0" fill="#ed1c26"/>
<circle cx="143.82" cy="518.32" r="3.0" fill="#ed1c26"/>
<circle cx="113.23" cy="532.23" r="3.0" fill="#ed1c26"/>
<circle cx="103.70" cy="448.70" r="3.0" fill="#ed1c26"/>
<circle cx="153.19" cy="524.20" r="3.0" fill="#ed1c26"/>
<circle cx="118.62" cy="504.02" r="3.0" fill="#ed1c26"/>
<circle cx="173.50" cy="477.50" r="3.0" fill="#ed1c26"/>
<circle cx="87.60" cy="546.60" r="3.0" fill="#ed1c26"/>
<circle cx="153.60" cy="459.10" r="3.0" fill="#ed1c26"/>
<circle cx="133.58" cy="513.51" r="3.0" fill="#ed1c26"/>
<circle cx="156.56" cy="508.13" r="3.0" fill="#ed1c26"/>
<circle cx="109.46" cy="513.61" r="3.0" fill="#ed1c26"/>
<circle cx="118.63" cy="505.09" r="3.0" fill="#ed1c26"/>
<circle cx="125.94" cy="507.79" r="3.0" fill="#ed1c26"/>
<circle cx="115.23" cy="537.67" r="3.0" fill="#ed1c26"/>
<circle cx="138.39" cy="504.34" r="3.0" fill="#ed1c26"/>
<circle cx="168.40" cy="519.00" r="3.0" fill="#ed1c26"/>
<circle cx="125.59" cy="520.47" r="3.0" fill="#ed1c26"/>
<circle cx="120.36" cy="499.22" r="3.0" fill="#ed1c26"/>
<circle cx="125.19" cy="503.69" r="3.0" fill="#ed1c26"/>
<circle cx="102.99" cy="524.11" r="3.0" fill="#ed1c26"/>
<circle cx="131.81" cy="480.78" r="3.0" fill="#ed1c26"/>
<circle cx="136.55" cy="499.05" r="3.0" fill="#ed1c26"/>
<circle cx="129.35" cy="491.69" r="3.0" fill="#ed1c26"/>
<circle cx="150.91" cy="485.52" r="3.0" fill="#ed1c26"/>
<circle cx="157.28" cy="516.45" r="3.0" fill="#ed1c26"/>
<circle cx="131.49" cy="497.89" r="3.0" fill="#ed1c26"/>
<circle cx="153.48" cy="515.73" r="3.0" fill="#ed1c26"/>
<circle cx="108.80" cy="547.90" r="3.0" fill="#ed1c26"/>
<circle cx="148.00" cy="470.40" r="3.0" fill="#ed1c26"/>
<circle cx="75.30" cy="529.70" r="3.0" fill="#ed1c26"/>
<circle cx="156.83" cy="479.40" r="3.0" fill="#ed1c26"/>
<circle cx="162.37" cy="496.41" r="3.0" fill="#ed1c26"/>
<circle cx="80.51" cy="517.06" r="3.0" fill="#ed1c26"/>
<circle cx="152.03" cy="504.11" r="3.0" fill="#ed1c26"/>
<circle cx="120.42" cy="515.84" r="3.0" fill="#ed1c26"/>
<circle cx="105.43" cy="522.52" r="3.0" fill="#ed1c26"/>
<circle cx="135.68" cy="519.66" r="3.0" fill="#ed1c26"/>
<circle cx="103.52" cy="503.25" r="3.0" fill="#ed1c26"/>
<circle cx="114.07" cy="511.44" r="3.0" fill="#ed1c26"/>
<circle cx="114.47" cy="504.42" r="3.0" fill="#ed1c26"/>
<circle cx="88.60" cy="517.50" r="3.0" fill="#ed1c26"/>
<circle cx="181.40" cy="439.70" r="3.0" fill="#ed1c26"/>
<circle cx="151.10" cy="475.00" r="3.0" fill="#ed1c26"/>
<circle cx="143.62" cy="497.10" r="3.0" fill="#ed1c26"/>
<circle cx="127.70" cy="492.78" r="3.0" fill="#ed1c26"/>
<circle cx="152.00" cy="475.54" r="3.0" fill="#ed1c26"/>
<circle cx="107.61" cy="509.23" r="3.0" fill="#ed1c26"/>
<circle cx="116.70" cy="487.40" r="3.0" fill="#ed1c26"/>
<circle cx="164.23" cy="476.54" r="3.0" fill="#ed1c26"/>
<circle cx="151.82" cy="490.69" r="3.0" fill="#ed1c26"/>
<circle cx="163.80" cy="507.19" r="3.0" fill="#ed1c26"/>
<circle cx="184.60" cy="485.70" r="3.0" fill="#ed1c26"/>
<circle cx="108.79" cy="504.55" r="3.0" fill="#ed1c26"/>
<circle cx="122.66" cy="492.37" r="3.0" fill="#ed1c26"/>
<circle cx="103.11" cy="499.90" r="3.0" fill="#ed1c26"/>
<circle cx="141.90" cy="472.90" r="3.0" fill="#ed1c26"/>
<circle cx="107.36" cy="522.80" r="3.0" fill="#ed1c26"/>
<circle cx="159.32" cy="504.83" r="3.0" fill="#ed1c26"/>
<circle cx="172.20" cy="505.70" r="3.0" fill="#ed1c26"/>
<circle cx="151.10" cy="529.20" r="3.0" fill="#ed1c26"/>
<circle cx="151.68" cy="490.70" r="3.0" fill="#ed1c26"/>
<circle cx="136.90" cy="527.78" r="3.0" fill="#ed1c26"/>
<circle cx="112.51" cy="528.29" r="3.0" fill="#ed1c26"/>
<circle cx="165.40" cy="475.00" r="3.0" fill="#ed1c26"/>
<circle cx="124.16" cy="507.92" r="3.0" fill="#ed1c26"/>
<circle cx="151.69" cy="482.35" r="3.0" fill="#ed1c26"/>
<circle cx="128.73" cy="502.94" r="3.0" fill="#ed1c26"/>
<circle cx="162.84" cy="488.96" r="3.0" fill="#ed1c26"/>
<circle cx="158.34" cy="504.88" r="3.0" fill="#ed1c26"/>
<circle cx="168.16" cy="480.12" r="3.0" fill="#ed1c26"/>
<circle cx="76.30" cy="508.10" r="3.0" fill="#ed1c26"/>
<circle cx="143.89" cy="485.68" r="3.0" fill="#ed1c26"/>
<circle cx="137.49" cy="496.67" r="3.0" fill="#ed1c26"/>
<circle cx="158.99" cy="478.12" r="3.0" fill="#ed1c26"/>
<circle cx="118.80" cy="543.00" r="3.0" fill="#ed1c26"/>
<circle cx="133.47" cy="527.83" r="3.0" fill="#ed1c26"/>
<circle cx="108.70" cy="470.70" r="3.0" fill="#ed1c26"/>
<circle cx="142.40" cy="462.70" r="3.0" fill="#ed1c26"/>
<circle cx="134.87" cy="508.99" r="3.0" fill="#ed1c26"/>
<circle cx="112.91" cy="497.26" r="3.0" fill="#ed1c26"/>
<circle cx="117.66" cy="524.89" r="3.0" fill="#ed1c26"/>
<circle cx="139.63" cy="503.14" r="3.0" fill="#ed1c26"/>
<circle cx="114.14" cy="510.52" r="3.0" fill="#ed1c26"/>
<circle cx="121.83" cy="515.07" r="3.0" fill="#ed1c26"/>
<circle cx="162.22" cy="512.79" r="3.0" fill="#ed1c26"/>
<circle cx="181.51" cy="501.52" r="3.0" fill="#ed1c26"/>
<circle cx="123.35" cy="519.65" r="3.0" fill="#ed1c26"/>
<circle cx="142.83" cy="521.50" r="3.0" fill="#ed1c26"/>
<circle cx="120.92" cy="509.19" r="3.0" fill="#ed1c26"/>
<circle cx="107.65" cy="503.19" r="3.0" fill="#ed1c26"/>
<circle cx="75.60" cy="446.90" r="3.0" fill="#ed1c26"/>
<circle cx="160.20" cy="516.05" r="3.0" fill="#ed1c26"/>
<circle cx="186.00" cy="501.10" r="3.0" fill="#ed1c26"/>
<circle cx="167.92" cy="501.46" r="3.0" fill="#ed1c26"/>
<circle cx="164.30" cy="540.50" r="3.0" fill="#ed1c26"/>
<circle cx="94.70" cy="505.20" r="3.0" fill="#ed1c26"/>
<circle cx="123.72" cy="506.75" r="3.0" fill="#ed1c26"/>
<circle cx="98.30" cy="536.20" r="3.0" fill="#ed1c26"/>
<circle cx="136.30" cy="512.19" r="3.0" fill="#ed1c26"/>
<circle cx="105.46" cy="527.50" r="3.0" fill="#ed1c26"/>
<circle cx="131.86" cy="488.21" r="3.0" fill="#ed1c26"/>
<circle cx="119.65" cy="534.77" r="3.0" fill="#ed1c26"/>
<circle cx="159.26" cy="512.68" r="3.0" fill="#ed1c26"/>
<circle cx="126.93" cy="501.04" r="3.0" fill="#ed1c26"/>
<circle cx="164.67" cy="498.72" r="3.0" fill="#ed1c26"/>
<circle cx="156.14" cy="500.70" r="3.0" fill="#ed1c26"/>
<circle cx="160.86" cy="501.11" r="3.0" fill="#ed1c26"/>
<circle cx="146.59" cy="493.78" r="3.0" fill="#ed1c26"/>
<circle cx="167.79" cy="479.85" r="3.0" fill="#ed1c26"/>
<circle cx="117.64" cy="520.62" r="3.0" fill="#ed1c26"/>
<circle cx="144.95" cy="520.15" r="3.0" fill="#ed1c26"/>
<circle cx="116.85" cy="513.62" r="3.0" fill="#ed1c26"/>
<circle cx="119.09" cy="496.85" r="3.0" fill="#ed1c26"/>
<circle cx="177.90" cy="461.70" r="3.0" fill="#ed1c26"/>
<circle cx="133.42" cy="515.80" r="3.0" fill="#ed1c26"/>
<circle cx="111.99" cy="520.12" r="3.0" fill="#ed1c26"/>
<circle cx="117.02" cy="491.57" r="3.0" fill="#ed1c26"/>
<circle cx="144.57" cy="526.05" r="3.0" fill="#ed1c26"/>
<circle cx="145.10" cy="507.61" r="3.0" fill="#ed1c26"/>
<circle cx="127.55" cy="512.64" r="3.0" fill="#ed1c26"/>
<circle cx="168.68" cy="484.28" r="3.0" fill="#ed1c26"/>
<circle cx="139.24" cy="485.17" r="3.0" fill="#ed1c26"/>
<circle cx="156.38" cy="523.93" r="3.0" fill="#ed1c26"/>
<circle cx="188.00" cy="466.60" r="3.0" fill="#ed1c26"/>
<circle cx="88.60" cy="511.30" r="3.0" fill="#ed1c26"/>
<circle cx="99.79" cy="517.48" r="3.0" fill="#ed1c26"/>
<circle cx="120.32" cy="504.15" r="3.0" fill="#ed1c26"/>
<circle cx="112.10" cy="484.00" r="3.0" fill="#ed1c26"/>
<circle cx="120.96" cy="518.84" r="3.0" fill="#ed1c26"/>
<circle cx="107.60" cy="499.87" r="3.0" fill="#ed1c26"/>
<circle cx="141.25" cy="522.82" r="3.0" fill="#ed1c26"/>
<circle cx="157.55" cy="494.60" r="3.0" fill="#ed1c26"/>
<circle cx="133.16" cy="508.55" r="3.0" fill="#ed1c26"/>
<circle cx="107.31" cy="515.14" r="3.0" fill="#ed1c26"/>
<circle cx="84.20" cy="536.90" r="3.0" fill="#ed1c26"/>
<circle cx="128.86" cy="516.95" r="3.0" fill="#ed1c26"/>
<circle cx="156.00" cy="537.70" r="3.0" fill="#ed1c26"/>
<circle cx="126.35" cy="527.13" r="3.0" fill="#ed1c26"/>
<circle cx="126.07" cy="531.65" r="3.0" fill="#ed1c26"/>
<circle cx="123.71" cy="510.57" r="3.0" fill="#ed1c26"/>
<circle cx="126.52" cy="514.23" r="3.0" fill="#ed1c26"/>
<circle cx="96.50" cy="514.46" r="3.0" fill="#ed1c26"/>
<circle cx="127.06" cy="489.85" r="3.0" fill="#ed1c26"/>
<circle cx="107.50" cy="482.90" r="3.0" fill="#ed1c26"/>
<circle cx="177.90" cy="464.70" r="3.0" fill="#ed1c26"/>
<circle cx="172.50" cy="498.60" r="3.0" fill="#ed1c26"/>
<circle cx="118.76" cy="527.96" r="3.0" fill="#ed1c26"/>
<circle cx="142.51" cy="493.01" r="3.0" fill="#ed1c26"/>
<circle cx="138.37" cy="510.03" r="3.0" fill="#ed1c26"/>
<circle cx="106.65" cy="532.24" r="3.0" fill="#ed1c26"/>
<circle cx="106.06" cy="515.76" r="3.0" fill="#ed1c26"/>
<circle cx="118.76" cy="494.25" r="3.0" fill="#ed1c26"/>
<circle cx="152.86" cy="475.85" r="3.0" fill="#ed1c26"/>
<circle cx="99.90" cy="500.00" r="3.0" fill="#ed1c26"/>
<circle cx="137.49" cy="516.24" r="3.0" fill="#ed1c26"/>
<circle cx="100.54" cy="517.58" r="3.0" fill="#ed1c26"/>
<circle cx="135.55" cy="481.44" r="3.0" fill="#ed1c26"/>
<circle cx="107.44" cy="529.30" r="3.0" fill="#ed1c26"/>
<circle cx="104.57" cy="519.87" r="3.0" fill="#ed1c26"/>
<circle cx="128.88" cy="509.38" r="3.0" fill="#ed1c26"/>
<circle cx="162.33" cy="500.90" r="3.0" fill="#ed1c26"/>
<circle cx="105.38" cy="494.69" r="3.0" fill="#ed1c26"/>
<circle cx="146.51" cy="512.32" r="3.0" fill="#ed1c26"/>
<circle cx="136.57" cy="500.95" r="3.0" fill="#ed1c26"/>
<circle cx="127.09" cy="510.56" r="3.0" fill="#ed1c26"/>
<circle cx="114.91" cy="501.34" r="3.0" fill="#ed1c26"/>
<circle cx="103.51" cy="516.94" r="3.0" fill="#ed1c26"/>
<circle cx="126.16" cy="501.90" r="3.0" fill="#ed1c26"/>
<circle cx="165.28" cy="477.87" r="3.0" fill="#ed1c26"/>
<circle cx="136.80" cy="477.50" r="3.0" fill="#ed1c26"/>
<circle cx="158.44" cy="478.12" r="3.0" fill="#ed1c26"/>
<circle cx="135.35" cy="510.84" r="3.0" fill="#ed1c26"/>
<circle cx="117.45" cy="524.75" r="3.0" fill="#ed1c26"/>
<circle cx="160.27" cy="489.27" r="3.0" fill="#ed1c26"/>
<circle cx="163.95" cy="479.05" r="3.0" fill="#ed1c26"/>
<circle cx="153.10" cy="452.30" r="3.0" fill="#ed1c26"/>
<circle cx="109.38" cy="529.23" r="3.0" fill="#ed1c26"/>
<circle cx="167.92" cy="488.04" r="3.0" fill="#ed1c26"/>
<circle cx="123.63" cy="494.70" r="3.0" fill="#ed1c26"/>
<circle cx="96.73" cy="507.96" r="3.0" fill="#ed1c26"/>
<circle cx="144.35" cy="516.12" r="3.0" fill="#ed1c26"/>
<circle cx="119.32" cy="513.11" r="3.0" fill="#ed1c26"/>
<circle cx="159.91" cy="513.32" r="3.0" fill="#ed1c26"/>
<circle cx="135.96" cy="502.08" r="3.0" fill="#ed1c26"/>
<circle cx="108.00" cy="554.30" r="3.0" fill="#ed1c26"/>
<circle cx="135.10" cy="520.53" r="3.0" fill="#ed1c26"/>
<circle cx="117.80" cy="504.04" r="3.0" fill="#ed1c26"/>
<circle cx="174.00" cy="483.10" r="3.0" fill="#ed1c26"/>
<circle cx="91.20" cy="514.40" r="3.0" fill="#ed1c26"/>
<circle cx="145.23" cy="476.43" r="3.0" fill="#ed1c26"/>
<circle cx="112.58" cy="510.88" r="3.0" fill="#ed1c26"/>
<circle cx="165.06" cy="482.61" r="3.0" fill="#ed1c26"/>
<circle cx="149.62" cy="523.34" r="3.0" fill="#ed1c26"/>
<circle cx="159.19" cy="512.81" r="3.0" fill="#ed1c26"/>
<circle cx="162.46" cy="475.99" r="3.0" fill="#ed1c26"/>
<circle cx="167.27" cy="511.61" r="3.0" fill="#ed1c26"/>
<circle cx="133.70" cy="471.90" r="3.0" fill="#ed1c26"/>
<circle cx="145.77" cy="523.31" r="3.0" fill="#ed1c26"/>
<circle cx="122.32" cy="499.44" r="3.0" fill="#ed1c26"/>
<circle cx="127.64" cy="518.73" r="3.0" fill="#ed1c26"/>
<circle cx="130.43" cy="511.56" r="3.0" fill="#ed1c26"/>
<circle cx="82.70" cy="534.30" r="3.0" fill="#ed1c26"/>
<circle cx="154.75" cy="506.33" r="3.0" fill="#ed1c26"/>
<circle cx="134.22" cy="490.11" r="3.0" fill="#ed1c26"/>
<circle cx="138.91" cy="505.18" r="3.0" fill="#ed1c26"/>
<circle cx="189.60" cy="516.80" r="3.0" fill="#ed1c26"/>
<circle cx="100.82" cy="508.83" r="3.0" fill="#ed1c26"/>
<circle cx="171.20" cy="491.61" r="3.0" fill="#ed1c26"/>
<circle cx="155.70" cy="470.90" r="3.0" fill="#ed1c26"/>
<circle cx="145.33" cy="519.09" r="3.0" fill="#ed1c26"/>
<circle cx="113.10" cy="474.80" r="3.0" fill="#ed1c26"/>
<circle cx="152.03" cy="495.33" r="3.0" fill="#ed1c26"/>
<circle cx="106.00" cy="494.90" r="3.0" fill="#ed1c26"/>
<circle cx="105.09" cy="531.73" r="3.0" fill="#ed1c26"/>
<circle cx="128.10" cy="535.90" r="3.0" fill="#ed1c26"/>
<circle cx="135.04" cy="499.76" r="3.0" fill="#ed1c26"/>
<circle cx="144.24" cy="522.44" r="3.0" fill="#ed1c26"/>
<circle cx="127.40" cy="497.74" r="3.0" fill="#ed1c26"/>
<circle cx="111.76" cy="534.74" r="3.0" fill="#ed1c26"/>
<circle cx="103.70" cy="521.88" r="3.0" fill="#ed1c26"/>
<circle cx="131.45" cy="494.40" r="3.0" fill="#ed1c26"/>
<circle cx="144.25" cy="498.00" r="3.0" fill="#ed1c26"/>
<circle cx="138.28" cy="508.28" r="3.0" fill="#ed1c26"/>
<circle cx="167.50" cy="502.16" r="3.0" fill="#ed1c26"/>
<circle cx="146.00" cy="493.68" r="3.0" fill="#ed1c26"/>
<circle cx="99.41" cy="514.77" r="3.0" fill="#ed1c26"/>
<circle cx="158.70" cy="506.39" r="3.0" fill="#ed1c26"/>
<circle cx="158.19" cy="475.05" r="3.0" fill="#ed1c26"/>
<circle cx="153.71" cy="524.02" r="3.0" fill="#ed1c26"/>
<circle cx="135.87" cy="492.66" r="3.0" fill="#ed1c26"/>
<circle cx="117.12" cy="517.60" r="3.0" fill="#ed1c26"/>
<circle cx="109.87" cy="516.57" r="3.0" fill="#ed1c26"/>
<circle cx="151.23" cy="480.25" r="3.0" fill="#ed1c26"/>
<circle cx="127.13" cy="507.87" r="3.0" fill="#ed1c26"/>
<circle cx="137.81" cy="507.10" r="3.0" fill="#ed1c26"/>
<circle cx="154.41" cy="505.24" r="3.0" fill="#ed1c26"/>
<circle cx="130.81" cy="481.97" r="3.0" fill="#ed1c26"/>
<circle cx="149.70" cy="532.80" r="3.0" fill="#ed1c26"/>
<circle cx="141.67" cy="504.22" r="3.0" fill="#ed1c26"/>
<circle cx="113.79" cy="486.86" r="3.0" fill="#ed1c26"/>
<circle cx="102.25" cy="515.67" r="3.0" fill="#ed1c26"/>
<circle cx="155.08" cy="499.36" r="3.0" fill="#ed1c26"/>
<circle cx="106.58" cy="505.86" r="3.0" fill="#ed1c26"/>
<circle cx="138.38" cy="494.04" r="3.0" fill="#ed1c26"/>
<circle cx="183.00" cy="454.50" r="3.0" fill="#ed1c26"/>
<circle cx="169.20" cy="530.30" r="3.0" fill="#ed1c26"/>
<circle cx="163.20" cy="481.76" r="3.0" fill="#ed1c26"/>
<circle cx="119.51" cy="533.74" r="3.0" fill="#ed1c26"/>
<circle cx="128.70" cy="531.34" r="3.0" fill="#ed1c26"/>
<circle cx="130.41" cy="515.88" r="3.0" fill="#ed1c26"/>
<circle cx="184.30" cy="476.00" r="3.0" fill="#ed1c26"/>
<circle cx="140.96" cy="479.79" r="3.0" fill="#ed1c26"/>
<circle cx="126.27" cy="508.04" r="3.0" fill="#ed1c26"/>
<circle cx="173.26" cy="486.19" r="3.0" fill="#ed1c26"/>
<circle cx="111.53" cy="493.86" r="3.0" fill="#ed1c26"/>
<circle cx="108.43" cy="498.16" r="3.0" fill="#ed1c26"/>
<circle cx="146.50" cy="466.30" r="3.0" fill="#ed1c26"/>
<circle cx="109.86" cy="498.35" r="3.0" fill="#ed1c26"/>
<circle cx="171.82" cy="481.42" r="3.0" fill="#ed1c26"/>
<circle cx="112.87" cy="507.65" r="3.0" fill="#ed1c26"/>
<circle cx="121.85" cy="520.68" r="3.0" fill="#ed1c26"/>
<circle cx="78.40" cy="516.30" r="3.0" fill="#ed1c26"/>
<circle cx="136.54" cy="483.69" r="3.0" fill="#ed1c26"/>
<circle cx="102.33" cy="519.61" r="3.0" fill="#ed1c26"/>
<circle cx="170.11" cy="478.73" r="3.0" fill="#ed1c26"/>
<circle cx="79.20" cy="497.40" r="3.0" fill="#ed1c26"/>
<circle cx="182.70" cy="507.10" r="3.0" fill="#ed1c26"/>
<circle cx="109.47" cy="514.59" r="3.0" fill="#ed1c26"/>
<circle cx="137.30" cy="529.70" r="3.0" fill="#ed1c26"/>
<circle cx="103.25" cy="522.57" r="3.0" fill="#ed1c26"/>
<circle cx="147.06" cy="486.76" r="3.0" fill="#ed1c26"/>
<circle cx="152.10" cy="467.30" r="3.0" fill="#ed1c26"/>
<circle cx="160.98" cy="478.78" r="3.0" fill="#ed1c26"/>
<circle cx="110.10" cy="554.30" r="3.0" fill="#ed1c26"/>
<circle cx="119.41" cy="504.03" r="3.0" fill="#ed1c26"/>
<circle cx="138.80" cy="505.57" r="3.0" fill="#ed1c26"/>
<circle cx="123.65" cy="489.96" r="3.0" fill="#ed1c26"/>
<circle cx="135.38" cy="482.36" r="3.0" fill="#ed1c26"/>
<circle cx="108.81" cy="510.25" r="3.0" fill="#ed1c26"/>
<circle cx="112.80" cy="511.07" r="3.0" fill="#ed1c26"/>
<circle cx="109.65" cy="528.03" r="3.0" fill="#ed1c26"/>
<circle cx="142.84" cy="522.62" r="3.0" fill="#ed1c26"/>
<circle cx="103.80" cy="532.13" r="3.0" fill="#ed1c26"/>
<circle cx="78.90" cy="487.50" r="3.0" fill="#ed1c26"/>
<circle cx="116.59" cy="527.18" r="3.0" fill="#ed1c26"/>
<circle cx="125.61" cy="486.55" r="3.0" fill="#ed1c26"/>
<circle cx="158.97" cy="514.11" r="3.0" fill="#ed1c26"/>
<circle cx="144.18" cy="500.01" r="3.0" fill="#ed1c26"/>
<line x1="75.50" y1="521.00" x2="189.70" y2="489.00" stroke="#1a1a1a" stroke-width="1.5" stroke-linecap="butt"/>
<text x="246.50" y="408.50" font-size="11.5" font-weight="bold" fill="#000" stroke="#000" stroke-width="0.35">h</text>
<line x1="293.20" y1="411.80" x2="293.20" y2="567.20" stroke="#7c7c7c" stroke-width="0.8" stroke-linecap="butt"/>
<line x1="293.20" y1="562.90" x2="444.30" y2="562.90" stroke="#7c7c7c" stroke-width="0.8" stroke-linecap="butt"/>
<line x1="288.90" y1="437.66" x2="293.20" y2="437.66" stroke="#666" stroke-width="0.6" stroke-linecap="butt"/>
<text x="284.90" y="440.56" font-size="7.8" text-anchor="end" fill="#333" font-weight="normal" font-style="normal">0.2</text>
<line x1="288.90" y1="475.30" x2="293.20" y2="475.30" stroke="#666" stroke-width="0.6" stroke-linecap="butt"/>
<text x="284.90" y="478.20" font-size="7.8" text-anchor="end" fill="#333" font-weight="normal" font-style="normal">0</text>
<line x1="288.90" y1="512.94" x2="293.20" y2="512.94" stroke="#666" stroke-width="0.6" stroke-linecap="butt"/>
<text x="284.90" y="515.84" font-size="7.8" text-anchor="end" fill="#333" font-weight="normal" font-style="normal">−0.2</text>
<line x1="288.90" y1="550.58" x2="293.20" y2="550.58" stroke="#666" stroke-width="0.6" stroke-linecap="butt"/>
<text x="284.90" y="553.48" font-size="7.8" text-anchor="end" fill="#333" font-weight="normal" font-style="normal">−0.4</text>
<line x1="293.58" y1="562.90" x2="293.58" y2="567.20" stroke="#666" stroke-width="0.6" stroke-linecap="butt"/>
<text x="293.58" y="576.50" font-size="7.8" text-anchor="middle" fill="#333" font-weight="normal" font-style="normal">−0.4</text>
<line x1="331.14" y1="562.90" x2="331.14" y2="567.20" stroke="#666" stroke-width="0.6" stroke-linecap="butt"/>
<text x="331.14" y="576.50" font-size="7.8" text-anchor="middle" fill="#333" font-weight="normal" font-style="normal">−0.2</text>
<line x1="368.70" y1="562.90" x2="368.70" y2="567.20" stroke="#666" stroke-width="0.6" stroke-linecap="butt"/>
<text x="368.70" y="576.50" font-size="7.8" text-anchor="middle" fill="#333" font-weight="normal" font-style="normal">0</text>
<line x1="406.26" y1="562.90" x2="406.26" y2="567.20" stroke="#666" stroke-width="0.6" stroke-linecap="butt"/>
<text x="406.26" y="576.50" font-size="7.8" text-anchor="middle" fill="#333" font-weight="normal" font-style="normal">0.2</text>
<line x1="443.82" y1="562.90" x2="443.82" y2="567.20" stroke="#666" stroke-width="0.6" stroke-linecap="butt"/>
<text x="443.82" y="576.50" font-size="7.8" text-anchor="middle" fill="#333" font-weight="normal" font-style="normal">0.4</text>
<text x="304.90" y="416.40" font-size="8.5" text-anchor="start" fill="#333" font-weight="normal" font-style="normal"><tspan font-style="italic">P</tspan><tspan font-size="7.4"> = </tspan>1.7<tspan font-size="7.4"> × </tspan>10<tspan dy="-3.6" font-size="5.4">−10</tspan></text>
<text x="304.90" y="428.00" font-size="8.5" text-anchor="start" fill="#333" font-weight="normal" font-style="normal"><tspan font-style="italic">R</tspan> = 0.33</text>
<circle cx="358.01" cy="476.69" r="3.0" fill="#ed1c26"/>
<circle cx="408.22" cy="468.56" r="3.0" fill="#ed1c26"/>
<circle cx="339.17" cy="473.72" r="3.0" fill="#ed1c26"/>
<circle cx="364.63" cy="465.97" r="3.0" fill="#ed1c26"/>
<circle cx="348.03" cy="478.39" r="3.0" fill="#ed1c26"/>
<circle cx="365.79" cy="495.57" r="3.0" fill="#ed1c26"/>
<circle cx="400.22" cy="469.39" r="3.0" fill="#ed1c26"/>
<circle cx="375.93" cy="478.38" r="3.0" fill="#ed1c26"/>
<circle cx="370.30" cy="459.52" r="3.0" fill="#ed1c26"/>
<circle cx="416.50" cy="518.20" r="3.0" fill="#ed1c26"/>
<circle cx="407.26" cy="477.19" r="3.0" fill="#ed1c26"/>
<circle cx="382.00" cy="520.10" r="3.0" fill="#ed1c26"/>
<circle cx="374.35" cy="478.23" r="3.0" fill="#ed1c26"/>
<circle cx="406.75" cy="484.10" r="3.0" fill="#ed1c26"/>
<circle cx="360.34" cy="460.65" r="3.0" fill="#ed1c26"/>
<circle cx="316.90" cy="460.00" r="3.0" fill="#ed1c26"/>
<circle cx="337.20" cy="499.30" r="3.0" fill="#ed1c26"/>
<circle cx="384.70" cy="507.50" r="3.0" fill="#ed1c26"/>
<circle cx="391.24" cy="466.40" r="3.0" fill="#ed1c26"/>
<circle cx="361.88" cy="470.58" r="3.0" fill="#ed1c26"/>
<circle cx="370.00" cy="495.07" r="3.0" fill="#ed1c26"/>
<circle cx="392.87" cy="476.26" r="3.0" fill="#ed1c26"/>
<circle cx="348.17" cy="479.16" r="3.0" fill="#ed1c26"/>
<circle cx="353.40" cy="530.80" r="3.0" fill="#ed1c26"/>
<circle cx="381.68" cy="459.01" r="3.0" fill="#ed1c26"/>
<circle cx="344.33" cy="482.47" r="3.0" fill="#ed1c26"/>
<circle cx="340.87" cy="495.73" r="3.0" fill="#ed1c26"/>
<circle cx="345.19" cy="498.17" r="3.0" fill="#ed1c26"/>
<circle cx="411.00" cy="431.80" r="3.0" fill="#ed1c26"/>
<circle cx="362.57" cy="459.82" r="3.0" fill="#ed1c26"/>
<circle cx="391.45" cy="483.12" r="3.0" fill="#ed1c26"/>
<circle cx="388.14" cy="470.03" r="3.0" fill="#ed1c26"/>
<circle cx="359.38" cy="488.67" r="3.0" fill="#ed1c26"/>
<circle cx="356.13" cy="499.32" r="3.0" fill="#ed1c26"/>
<circle cx="333.10" cy="492.37" r="3.0" fill="#ed1c26"/>
<circle cx="370.20" cy="488.47" r="3.0" fill="#ed1c26"/>
<circle cx="375.99" cy="485.76" r="3.0" fill="#ed1c26"/>
<circle cx="350.84" cy="487.63" r="3.0" fill="#ed1c26"/>
<circle cx="345.38" cy="497.36" r="3.0" fill="#ed1c26"/>
<circle cx="347.60" cy="468.20" r="3.0" fill="#ed1c26"/>
<circle cx="390.70" cy="490.50" r="3.0" fill="#ed1c26"/>
<circle cx="363.90" cy="451.80" r="3.0" fill="#ed1c26"/>
<circle cx="348.36" cy="499.01" r="3.0" fill="#ed1c26"/>
<circle cx="405.50" cy="455.68" r="3.0" fill="#ed1c26"/>
<circle cx="359.12" cy="465.74" r="3.0" fill="#ed1c26"/>
<circle cx="351.92" cy="474.95" r="3.0" fill="#ed1c26"/>
<circle cx="405.91" cy="457.18" r="3.0" fill="#ed1c26"/>
<circle cx="350.56" cy="492.73" r="3.0" fill="#ed1c26"/>
<circle cx="343.03" cy="471.78" r="3.0" fill="#ed1c26"/>
<circle cx="409.06" cy="466.89" r="3.0" fill="#ed1c26"/>
<circle cx="312.50" cy="487.30" r="3.0" fill="#ed1c26"/>
<circle cx="344.10" cy="472.26" r="3.0" fill="#ed1c26"/>
<circle cx="399.71" cy="461.29" r="3.0" fill="#ed1c26"/>
<circle cx="421.40" cy="484.60" r="3.0" fill="#ed1c26"/>
<circle cx="349.20" cy="526.10" r="3.0" fill="#ed1c26"/>
<circle cx="336.68" cy="481.77" r="3.0" fill="#ed1c26"/>
<circle cx="383.11" cy="461.17" r="3.0" fill="#ed1c26"/>
<circle cx="403.14" cy="476.29" r="3.0" fill="#ed1c26"/>
<circle cx="352.48" cy="486.59" r="3.0" fill="#ed1c26"/>
<circle cx="356.54" cy="499.96" r="3.0" fill="#ed1c26"/>
<circle cx="334.87" cy="495.43" r="3.0" fill="#ed1c26"/>
<circle cx="375.61" cy="470.87" r="3.0" fill="#ed1c26"/>
<circle cx="340.42" cy="482.65" r="3.0" fill="#ed1c26"/>
<circle cx="354.70" cy="464.30" r="3.0" fill="#ed1c26"/>
<circle cx="347.60" cy="497.70" r="3.0" fill="#ed1c26"/>
<circle cx="331.70" cy="476.90" r="3.0" fill="#ed1c26"/>
<circle cx="392.89" cy="461.92" r="3.0" fill="#ed1c26"/>
<circle cx="420.30" cy="447.20" r="3.0" fill="#ed1c26"/>
<circle cx="389.66" cy="465.02" r="3.0" fill="#ed1c26"/>
<circle cx="351.90" cy="504.20" r="3.0" fill="#ed1c26"/>
<circle cx="360.38" cy="497.62" r="3.0" fill="#ed1c26"/>
<circle cx="338.68" cy="480.32" r="3.0" fill="#ed1c26"/>
<circle cx="388.05" cy="454.00" r="3.0" fill="#ed1c26"/>
<circle cx="371.39" cy="486.70" r="3.0" fill="#ed1c26"/>
<circle cx="354.33" cy="466.95" r="3.0" fill="#ed1c26"/>
<circle cx="324.00" cy="478.60" r="3.0" fill="#ed1c26"/>
<circle cx="374.36" cy="453.74" r="3.0" fill="#ed1c26"/>
<circle cx="404.90" cy="463.30" r="3.0" fill="#ed1c26"/>
<circle cx="365.72" cy="496.19" r="3.0" fill="#ed1c26"/>
<circle cx="329.49" cy="488.65" r="3.0" fill="#ed1c26"/>
<circle cx="346.50" cy="514.60" r="3.0" fill="#ed1c26"/>
<circle cx="345.40" cy="462.70" r="3.0" fill="#ed1c26"/>
<circle cx="402.37" cy="462.86" r="3.0" fill="#ed1c26"/>
<circle cx="402.80" cy="484.11" r="3.0" fill="#ed1c26"/>
<circle cx="334.40" cy="481.90" r="3.0" fill="#ed1c26"/>
<circle cx="395.27" cy="487.14" r="3.0" fill="#ed1c26"/>
<circle cx="383.55" cy="487.07" r="3.0" fill="#ed1c26"/>
<circle cx="402.05" cy="481.77" r="3.0" fill="#ed1c26"/>
<circle cx="412.30" cy="446.50" r="3.0" fill="#ed1c26"/>
<circle cx="390.85" cy="476.08" r="3.0" fill="#ed1c26"/>
<circle cx="383.55" cy="494.51" r="3.0" fill="#ed1c26"/>
<circle cx="372.78" cy="487.61" r="3.0" fill="#ed1c26"/>
<circle cx="384.03" cy="491.28" r="3.0" fill="#ed1c26"/>
<circle cx="315.80" cy="489.00" r="3.0" fill="#ed1c26"/>
<circle cx="397.56" cy="488.90" r="3.0" fill="#ed1c26"/>
<circle cx="318.00" cy="491.70" r="3.0" fill="#ed1c26"/>
<circle cx="381.68" cy="453.91" r="3.0" fill="#ed1c26"/>
<circle cx="375.01" cy="466.06" r="3.0" fill="#ed1c26"/>
<circle cx="366.01" cy="460.90" r="3.0" fill="#ed1c26"/>
<circle cx="391.00" cy="470.96" r="3.0" fill="#ed1c26"/>
<circle cx="404.97" cy="487.67" r="3.0" fill="#ed1c26"/>
<circle cx="392.40" cy="446.30" r="3.0" fill="#ed1c26"/>
<circle cx="375.89" cy="462.37" r="3.0" fill="#ed1c26"/>
<circle cx="355.40" cy="487.54" r="3.0" fill="#ed1c26"/>
<circle cx="360.78" cy="489.17" r="3.0" fill="#ed1c26"/>
<circle cx="368.70" cy="481.75" r="3.0" fill="#ed1c26"/>
<circle cx="345.90" cy="518.50" r="3.0" fill="#ed1c26"/>
<circle cx="398.02" cy="488.88" r="3.0" fill="#ed1c26"/>
<circle cx="375.13" cy="500.42" r="3.0" fill="#ed1c26"/>
<circle cx="324.60" cy="473.70" r="3.0" fill="#ed1c26"/>
<circle cx="355.72" cy="486.57" r="3.0" fill="#ed1c26"/>
<circle cx="403.18" cy="466.03" r="3.0" fill="#ed1c26"/>
<circle cx="379.40" cy="474.86" r="3.0" fill="#ed1c26"/>
<circle cx="361.58" cy="493.89" r="3.0" fill="#ed1c26"/>
<circle cx="348.08" cy="470.74" r="3.0" fill="#ed1c26"/>
<circle cx="404.38" cy="457.60" r="3.0" fill="#ed1c26"/>
<circle cx="324.00" cy="485.70" r="3.0" fill="#ed1c26"/>
<circle cx="423.60" cy="458.30" r="3.0" fill="#ed1c26"/>
<circle cx="314.70" cy="452.80" r="3.0" fill="#ed1c26"/>
<circle cx="333.51" cy="488.65" r="3.0" fill="#ed1c26"/>
<circle cx="396.20" cy="500.40" r="3.0" fill="#ed1c26"/>
<circle cx="389.86" cy="463.94" r="3.0" fill="#ed1c26"/>
<circle cx="401.70" cy="490.50" r="3.0" fill="#ed1c26"/>
<circle cx="334.40" cy="493.80" r="3.0" fill="#ed1c26"/>
<circle cx="341.05" cy="478.24" r="3.0" fill="#ed1c26"/>
<circle cx="341.79" cy="496.64" r="3.0" fill="#ed1c26"/>
<circle cx="338.91" cy="484.53" r="3.0" fill="#ed1c26"/>
<circle cx="407.70" cy="498.20" r="3.0" fill="#ed1c26"/>
<circle cx="346.50" cy="505.30" r="3.0" fill="#ed1c26"/>
<circle cx="416.50" cy="482.60" r="3.0" fill="#ed1c26"/>
<circle cx="332.77" cy="492.39" r="3.0" fill="#ed1c26"/>
<circle cx="371.46" cy="485.84" r="3.0" fill="#ed1c26"/>
<circle cx="369.50" cy="504.80" r="3.0" fill="#ed1c26"/>
<circle cx="340.32" cy="475.78" r="3.0" fill="#ed1c26"/>
<circle cx="377.60" cy="523.40" r="3.0" fill="#ed1c26"/>
<circle cx="401.81" cy="476.78" r="3.0" fill="#ed1c26"/>
<circle cx="365.25" cy="487.81" r="3.0" fill="#ed1c26"/>
<circle cx="339.90" cy="464.90" r="3.0" fill="#ed1c26"/>
<circle cx="427.10" cy="508.10" r="3.0" fill="#ed1c26"/>
<circle cx="381.87" cy="449.57" r="3.0" fill="#ed1c26"/>
<circle cx="401.10" cy="446.30" r="3.0" fill="#ed1c26"/>
<circle cx="408.12" cy="477.53" r="3.0" fill="#ed1c26"/>
<circle cx="400.93" cy="485.61" r="3.0" fill="#ed1c26"/>
<circle cx="377.15" cy="478.09" r="3.0" fill="#ed1c26"/>
<circle cx="352.90" cy="479.12" r="3.0" fill="#ed1c26"/>
<circle cx="407.54" cy="460.22" r="3.0" fill="#ed1c26"/>
<circle cx="369.93" cy="482.22" r="3.0" fill="#ed1c26"/>
<circle cx="428.50" cy="483.50" r="3.0" fill="#ed1c26"/>
<circle cx="386.84" cy="495.01" r="3.0" fill="#ed1c26"/>
<circle cx="406.60" cy="483.50" r="3.0" fill="#ed1c26"/>
<circle cx="341.57" cy="473.02" r="3.0" fill="#ed1c26"/>
<circle cx="375.63" cy="481.18" r="3.0" fill="#ed1c26"/>
<circle cx="351.38" cy="475.16" r="3.0" fill="#ed1c26"/>
<circle cx="379.89" cy="499.38" r="3.0" fill="#ed1c26"/>
<circle cx="424.90" cy="498.80" r="3.0" fill="#ed1c26"/>
<circle cx="359.45" cy="465.59" r="3.0" fill="#ed1c26"/>
<circle cx="420.80" cy="466.00" r="3.0" fill="#ed1c26"/>
<circle cx="388.82" cy="460.04" r="3.0" fill="#ed1c26"/>
<circle cx="339.30" cy="533.60" r="3.0" fill="#ed1c26"/>
<circle cx="353.22" cy="489.80" r="3.0" fill="#ed1c26"/>
<circle cx="320.20" cy="494.40" r="3.0" fill="#ed1c26"/>
<circle cx="398.55" cy="468.49" r="3.0" fill="#ed1c26"/>
<circle cx="410.58" cy="462.83" r="3.0" fill="#ed1c26"/>
<circle cx="372.21" cy="492.51" r="3.0" fill="#ed1c26"/>
<circle cx="391.30" cy="499.30" r="3.0" fill="#ed1c26"/>
<circle cx="374.48" cy="458.56" r="3.0" fill="#ed1c26"/>
<circle cx="365.10" cy="449.00" r="3.0" fill="#ed1c26"/>
<circle cx="354.06" cy="488.29" r="3.0" fill="#ed1c26"/>
<circle cx="404.71" cy="463.21" r="3.0" fill="#ed1c26"/>
<circle cx="378.10" cy="509.20" r="3.0" fill="#ed1c26"/>
<circle cx="385.65" cy="452.05" r="3.0" fill="#ed1c26"/>
<circle cx="374.39" cy="468.53" r="3.0" fill="#ed1c26"/>
<circle cx="393.03" cy="493.49" r="3.0" fill="#ed1c26"/>
<circle cx="399.65" cy="460.88" r="3.0" fill="#ed1c26"/>
<circle cx="366.20" cy="496.60" r="3.0" fill="#ed1c26"/>
<circle cx="356.37" cy="480.70" r="3.0" fill="#ed1c26"/>
<circle cx="344.08" cy="493.03" r="3.0" fill="#ed1c26"/>
<circle cx="410.40" cy="440.30" r="3.0" fill="#ed1c26"/>
<circle cx="393.02" cy="469.31" r="3.0" fill="#ed1c26"/>
<circle cx="366.27" cy="478.41" r="3.0" fill="#ed1c26"/>
<circle cx="421.40" cy="505.10" r="3.0" fill="#ed1c26"/>
<circle cx="387.15" cy="456.05" r="3.0" fill="#ed1c26"/>
<circle cx="359.28" cy="470.61" r="3.0" fill="#ed1c26"/>
<circle cx="360.16" cy="485.17" r="3.0" fill="#ed1c26"/>
<circle cx="353.13" cy="479.74" r="3.0" fill="#ed1c26"/>
<circle cx="367.42" cy="482.85" r="3.0" fill="#ed1c26"/>
<circle cx="367.90" cy="499.60" r="3.0" fill="#ed1c26"/>
<circle cx="348.81" cy="488.44" r="3.0" fill="#ed1c26"/>
<circle cx="351.30" cy="470.97" r="3.0" fill="#ed1c26"/>
<circle cx="343.79" cy="483.93" r="3.0" fill="#ed1c26"/>
<circle cx="379.02" cy="499.77" r="3.0" fill="#ed1c26"/>
<circle cx="350.19" cy="471.60" r="3.0" fill="#ed1c26"/>
<circle cx="370.55" cy="471.40" r="3.0" fill="#ed1c26"/>
<circle cx="399.50" cy="443.00" r="3.0" fill="#ed1c26"/>
<circle cx="385.57" cy="467.43" r="3.0" fill="#ed1c26"/>
<circle cx="346.50" cy="501.00" r="3.0" fill="#ed1c26"/>
<circle cx="408.50" cy="481.33" r="3.0" fill="#ed1c26"/>
<circle cx="381.15" cy="477.23" r="3.0" fill="#ed1c26"/>
<circle cx="378.70" cy="519.00" r="3.0" fill="#ed1c26"/>
<circle cx="371.93" cy="483.32" r="3.0" fill="#ed1c26"/>
<circle cx="337.70" cy="468.20" r="3.0" fill="#ed1c26"/>
<circle cx="335.02" cy="485.26" r="3.0" fill="#ed1c26"/>
<circle cx="371.51" cy="473.84" r="3.0" fill="#ed1c26"/>
<circle cx="340.84" cy="486.34" r="3.0" fill="#ed1c26"/>
<circle cx="378.78" cy="455.62" r="3.0" fill="#ed1c26"/>
<circle cx="383.87" cy="466.47" r="3.0" fill="#ed1c26"/>
<circle cx="393.81" cy="470.35" r="3.0" fill="#ed1c26"/>
<circle cx="398.52" cy="453.68" r="3.0" fill="#ed1c26"/>
<circle cx="369.28" cy="486.18" r="3.0" fill="#ed1c26"/>
<circle cx="362.48" cy="486.60" r="3.0" fill="#ed1c26"/>
<circle cx="407.60" cy="481.41" r="3.0" fill="#ed1c26"/>
<circle cx="375.99" cy="464.06" r="3.0" fill="#ed1c26"/>
<circle cx="340.47" cy="493.95" r="3.0" fill="#ed1c26"/>
<circle cx="335.50" cy="522.80" r="3.0" fill="#ed1c26"/>
<circle cx="375.63" cy="482.74" r="3.0" fill="#ed1c26"/>
<circle cx="331.10" cy="483.50" r="3.0" fill="#ed1c26"/>
<circle cx="363.78" cy="500.28" r="3.0" fill="#ed1c26"/>
<circle cx="396.05" cy="477.91" r="3.0" fill="#ed1c26"/>
<circle cx="343.20" cy="513.50" r="3.0" fill="#ed1c26"/>
<circle cx="353.00" cy="505.90" r="3.0" fill="#ed1c26"/>
<circle cx="387.73" cy="479.04" r="3.0" fill="#ed1c26"/>
<circle cx="380.86" cy="489.71" r="3.0" fill="#ed1c26"/>
<circle cx="349.70" cy="521.80" r="3.0" fill="#ed1c26"/>
<circle cx="399.50" cy="455.80" r="3.0" fill="#ed1c26"/>
<circle cx="342.60" cy="505.90" r="3.0" fill="#ed1c26"/>
<circle cx="343.31" cy="474.47" r="3.0" fill="#ed1c26"/>
<circle cx="384.95" cy="474.92" r="3.0" fill="#ed1c26"/>
<circle cx="382.84" cy="469.98" r="3.0" fill="#ed1c26"/>
<circle cx="387.19" cy="477.96" r="3.0" fill="#ed1c26"/>
<circle cx="399.50" cy="517.40" r="3.0" fill="#ed1c26"/>
<circle cx="395.23" cy="480.32" r="3.0" fill="#ed1c26"/>
<circle cx="354.85" cy="487.73" r="3.0" fill="#ed1c26"/>
<circle cx="346.67" cy="496.51" r="3.0" fill="#ed1c26"/>
<circle cx="386.95" cy="472.05" r="3.0" fill="#ed1c26"/>
<circle cx="374.02" cy="484.18" r="3.0" fill="#ed1c26"/>
<circle cx="420.30" cy="460.00" r="3.0" fill="#ed1c26"/>
<circle cx="407.70" cy="443.00" r="3.0" fill="#ed1c26"/>
<circle cx="375.88" cy="463.73" r="3.0" fill="#ed1c26"/>
<circle cx="356.88" cy="487.88" r="3.0" fill="#ed1c26"/>
<circle cx="336.10" cy="470.90" r="3.0" fill="#ed1c26"/>
<circle cx="376.85" cy="457.63" r="3.0" fill="#ed1c26"/>
<circle cx="372.70" cy="485.37" r="3.0" fill="#ed1c26"/>
<circle cx="346.51" cy="489.87" r="3.0" fill="#ed1c26"/>
<circle cx="312.86" cy="487.55" r="3.0" fill="#ed1c26"/>
<circle cx="350.45" cy="473.82" r="3.0" fill="#ed1c26"/>
<circle cx="312.50" cy="478.60" r="3.0" fill="#ed1c26"/>
<circle cx="384.57" cy="486.54" r="3.0" fill="#ed1c26"/>
<circle cx="349.70" cy="516.30" r="3.0" fill="#ed1c26"/>
<circle cx="361.53" cy="482.07" r="3.0" fill="#ed1c26"/>
<circle cx="349.45" cy="476.09" r="3.0" fill="#ed1c26"/>
<circle cx="382.50" cy="507.50" r="3.0" fill="#ed1c26"/>
<circle cx="381.87" cy="450.61" r="3.0" fill="#ed1c26"/>
<circle cx="348.63" cy="495.46" r="3.0" fill="#ed1c26"/>
<circle cx="329.70" cy="550.80" r="3.0" fill="#ed1c26"/>
<circle cx="362.85" cy="476.85" r="3.0" fill="#ed1c26"/>
<circle cx="355.80" cy="496.00" r="3.0" fill="#ed1c26"/>
<circle cx="345.76" cy="483.46" r="3.0" fill="#ed1c26"/>
<circle cx="355.27" cy="497.30" r="3.0" fill="#ed1c26"/>
<circle cx="359.45" cy="464.10" r="3.0" fill="#ed1c26"/>
<circle cx="311.60" cy="529.60" r="3.0" fill="#ed1c26"/>
<circle cx="338.14" cy="481.25" r="3.0" fill="#ed1c26"/>
<circle cx="381.40" cy="512.40" r="3.0" fill="#ed1c26"/>
<circle cx="407.20" cy="431.00" r="3.0" fill="#ed1c26"/>
<circle cx="387.11" cy="476.90" r="3.0" fill="#ed1c26"/>
<circle cx="396.67" cy="469.75" r="3.0" fill="#ed1c26"/>
<circle cx="372.57" cy="456.04" r="3.0" fill="#ed1c26"/>
<circle cx="367.87" cy="491.00" r="3.0" fill="#ed1c26"/>
<circle cx="365.77" cy="478.27" r="3.0" fill="#ed1c26"/>
<circle cx="342.86" cy="497.86" r="3.0" fill="#ed1c26"/>
<circle cx="366.60" cy="482.04" r="3.0" fill="#ed1c26"/>
<circle cx="421.35" cy="459.81" r="3.0" fill="#ed1c26"/>
<circle cx="392.18" cy="493.62" r="3.0" fill="#ed1c26"/>
<circle cx="386.23" cy="458.27" r="3.0" fill="#ed1c26"/>
<circle cx="401.70" cy="490.10" r="3.0" fill="#ed1c26"/>
<circle cx="405.00" cy="439.70" r="3.0" fill="#ed1c26"/>
<circle cx="354.28" cy="496.09" r="3.0" fill="#ed1c26"/>
<circle cx="373.67" cy="490.96" r="3.0" fill="#ed1c26"/>
<circle cx="373.84" cy="484.11" r="3.0" fill="#ed1c26"/>
<circle cx="373.64" cy="451.86" r="3.0" fill="#ed1c26"/>
<circle cx="342.60" cy="525.00" r="3.0" fill="#ed1c26"/>
<circle cx="371.00" cy="504.20" r="3.0" fill="#ed1c26"/>
<circle cx="360.70" cy="464.90" r="3.0" fill="#ed1c26"/>
<circle cx="354.36" cy="491.87" r="3.0" fill="#ed1c26"/>
<circle cx="373.20" cy="508.60" r="3.0" fill="#ed1c26"/>
<circle cx="396.41" cy="489.29" r="3.0" fill="#ed1c26"/>
<circle cx="381.65" cy="468.33" r="3.0" fill="#ed1c26"/>
<circle cx="371.08" cy="472.08" r="3.0" fill="#ed1c26"/>
<circle cx="345.65" cy="489.05" r="3.0" fill="#ed1c26"/>
<circle cx="342.46" cy="473.05" r="3.0" fill="#ed1c26"/>
<circle cx="402.60" cy="509.50" r="3.0" fill="#ed1c26"/>
<circle cx="392.77" cy="468.02" r="3.0" fill="#ed1c26"/>
<circle cx="348.70" cy="519.60" r="3.0" fill="#ed1c26"/>
<circle cx="392.90" cy="443.50" r="3.0" fill="#ed1c26"/>
<circle cx="399.71" cy="469.50" r="3.0" fill="#ed1c26"/>
<circle cx="370.27" cy="472.96" r="3.0" fill="#ed1c26"/>
<circle cx="368.68" cy="468.41" r="3.0" fill="#ed1c26"/>
<circle cx="376.41" cy="496.66" r="3.0" fill="#ed1c26"/>
<circle cx="316.90" cy="455.60" r="3.0" fill="#ed1c26"/>
<circle cx="350.81" cy="490.49" r="3.0" fill="#ed1c26"/>
<circle cx="366.24" cy="458.63" r="3.0" fill="#ed1c26"/>
<circle cx="379.20" cy="441.90" r="3.0" fill="#ed1c26"/>
<circle cx="330.15" cy="486.49" r="3.0" fill="#ed1c26"/>
<circle cx="386.97" cy="488.04" r="3.0" fill="#ed1c26"/>
<circle cx="374.13" cy="497.95" r="3.0" fill="#ed1c26"/>
<circle cx="342.30" cy="455.30" r="3.0" fill="#ed1c26"/>
<circle cx="377.94" cy="466.53" r="3.0" fill="#ed1c26"/>
<circle cx="336.40" cy="525.60" r="3.0" fill="#ed1c26"/>
<circle cx="370.07" cy="477.41" r="3.0" fill="#ed1c26"/>
<circle cx="337.96" cy="485.15" r="3.0" fill="#ed1c26"/>
<circle cx="381.99" cy="494.79" r="3.0" fill="#ed1c26"/>
<circle cx="419.70" cy="463.20" r="3.0" fill="#ed1c26"/>
<circle cx="407.83" cy="475.54" r="3.0" fill="#ed1c26"/>
<circle cx="356.30" cy="546.40" r="3.0" fill="#ed1c26"/>
<circle cx="400.30" cy="483.78" r="3.0" fill="#ed1c26"/>
<circle cx="393.30" cy="467.34" r="3.0" fill="#ed1c26"/>
<circle cx="364.04" cy="458.49" r="3.0" fill="#ed1c26"/>
<circle cx="428.50" cy="486.80" r="3.0" fill="#ed1c26"/>
<circle cx="406.14" cy="456.90" r="3.0" fill="#ed1c26"/>
<circle cx="360.47" cy="467.89" r="3.0" fill="#ed1c26"/>
<circle cx="404.74" cy="473.10" r="3.0" fill="#ed1c26"/>
<circle cx="375.75" cy="491.74" r="3.0" fill="#ed1c26"/>
<circle cx="377.16" cy="492.22" r="3.0" fill="#ed1c26"/>
<circle cx="395.74" cy="471.27" r="3.0" fill="#ed1c26"/>
<circle cx="361.08" cy="465.73" r="3.0" fill="#ed1c26"/>
<circle cx="395.21" cy="471.46" r="3.0" fill="#ed1c26"/>
<circle cx="387.52" cy="482.25" r="3.0" fill="#ed1c26"/>
<circle cx="352.86" cy="494.42" r="3.0" fill="#ed1c26"/>
<circle cx="363.77" cy="492.18" r="3.0" fill="#ed1c26"/>
<circle cx="344.80" cy="544.20" r="3.0" fill="#ed1c26"/>
<circle cx="355.66" cy="494.73" r="3.0" fill="#ed1c26"/>
<circle cx="396.74" cy="477.50" r="3.0" fill="#ed1c26"/>
<circle cx="342.10" cy="462.20" r="3.0" fill="#ed1c26"/>
<circle cx="343.70" cy="527.20" r="3.0" fill="#ed1c26"/>
<circle cx="377.97" cy="460.84" r="3.0" fill="#ed1c26"/>
<circle cx="362.87" cy="460.07" r="3.0" fill="#ed1c26"/>
<circle cx="336.75" cy="480.00" r="3.0" fill="#ed1c26"/>
<circle cx="366.51" cy="498.76" r="3.0" fill="#ed1c26"/>
<circle cx="393.94" cy="482.82" r="3.0" fill="#ed1c26"/>
<circle cx="326.80" cy="485.10" r="3.0" fill="#ed1c26"/>
<circle cx="376.53" cy="496.61" r="3.0" fill="#ed1c26"/>
<circle cx="402.80" cy="437.50" r="3.0" fill="#ed1c26"/>
<circle cx="395.48" cy="472.61" r="3.0" fill="#ed1c26"/>
<circle cx="381.29" cy="487.57" r="3.0" fill="#ed1c26"/>
<circle cx="388.00" cy="502.00" r="3.0" fill="#ed1c26"/>
<circle cx="364.74" cy="490.22" r="3.0" fill="#ed1c26"/>
<circle cx="393.15" cy="458.46" r="3.0" fill="#ed1c26"/>
<circle cx="380.52" cy="456.24" r="3.0" fill="#ed1c26"/>
<circle cx="385.64" cy="472.03" r="3.0" fill="#ed1c26"/>
<circle cx="381.43" cy="466.20" r="3.0" fill="#ed1c26"/>
<circle cx="347.95" cy="481.25" r="3.0" fill="#ed1c26"/>
<circle cx="402.80" cy="449.00" r="3.0" fill="#ed1c26"/>
<line x1="311.60" y1="496.10" x2="428.80" y2="465.60" stroke="#1a1a1a" stroke-width="1.5" stroke-linecap="butt"/>
<text x="471.50" y="408.50" font-size="11.5" font-weight="bold" fill="#000" stroke="#000" stroke-width="0.35">i</text>
<line x1="517.50" y1="416.60" x2="517.50" y2="563.20" stroke="#7a7a7a" stroke-width="0.8" stroke-linecap="butt"/>
<line x1="517.10" y1="563.20" x2="664.30" y2="563.20" stroke="#7a7a7a" stroke-width="0.8" stroke-linecap="butt"/>
<line x1="517.50" y1="424.96" x2="521.70" y2="424.96" stroke="#7a7a7a" stroke-width="0.7" stroke-linecap="butt"/>
<text x="512.90" y="427.86" font-size="7.8" text-anchor="end" fill="#333" font-weight="normal" font-style="normal">0.4</text>
<line x1="517.50" y1="461.68" x2="521.70" y2="461.68" stroke="#7a7a7a" stroke-width="0.7" stroke-linecap="butt"/>
<text x="512.90" y="464.58" font-size="7.8" text-anchor="end" fill="#333" font-weight="normal" font-style="normal">0.2</text>
<line x1="517.50" y1="498.40" x2="521.70" y2="498.40" stroke="#7a7a7a" stroke-width="0.7" stroke-linecap="butt"/>
<text x="512.90" y="501.30" font-size="7.8" text-anchor="end" fill="#333" font-weight="normal" font-style="normal">0</text>
<line x1="517.50" y1="535.12" x2="521.70" y2="535.12" stroke="#7a7a7a" stroke-width="0.7" stroke-linecap="butt"/>
<text x="512.90" y="538.02" font-size="7.8" text-anchor="end" fill="#333" font-weight="normal" font-style="normal">−0.2</text>
<line x1="517.72" y1="563.20" x2="517.72" y2="559.00" stroke="#7a7a7a" stroke-width="0.7" stroke-linecap="butt"/>
<text x="517.72" y="573.60" font-size="7.8" text-anchor="middle" fill="#333" font-weight="normal" font-style="normal">−0.4</text>
<line x1="554.36" y1="563.20" x2="554.36" y2="559.00" stroke="#7a7a7a" stroke-width="0.7" stroke-linecap="butt"/>
<text x="554.36" y="573.60" font-size="7.8" text-anchor="middle" fill="#333" font-weight="normal" font-style="normal">−0.2</text>
<line x1="591.00" y1="563.20" x2="591.00" y2="559.00" stroke="#7a7a7a" stroke-width="0.7" stroke-linecap="butt"/>
<text x="591.00" y="573.60" font-size="7.8" text-anchor="middle" fill="#333" font-weight="normal" font-style="normal">0</text>
<line x1="627.64" y1="563.20" x2="627.64" y2="559.00" stroke="#7a7a7a" stroke-width="0.7" stroke-linecap="butt"/>
<text x="627.64" y="573.60" font-size="7.8" text-anchor="middle" fill="#333" font-weight="normal" font-style="normal">0.2</text>
<line x1="664.28" y1="563.20" x2="664.28" y2="559.00" stroke="#7a7a7a" stroke-width="0.7" stroke-linecap="butt"/>
<text x="664.28" y="573.60" font-size="7.8" text-anchor="middle" fill="#333" font-weight="normal" font-style="normal">0.4</text>
<text x="526.20" y="417.60" font-size="8.5" text-anchor="start" fill="#333" font-weight="normal" font-style="normal"><tspan font-style="italic">P</tspan><tspan font-size="7.4"> = </tspan>5.0<tspan font-size="7.4"> × </tspan>10<tspan dy="-3.6" font-size="5.4">−12</tspan></text>
<text x="526.20" y="429.20" font-size="8.5" text-anchor="start" fill="#333" font-weight="normal" font-style="normal"><tspan font-style="italic">R</tspan> = −0.36</text>
<circle cx="595.14" cy="474.38" r="3.0" fill="#5a8dc7"/>
<circle cx="603.53" cy="486.00" r="3.0" fill="#5a8dc7"/>
<circle cx="560.00" cy="494.40" r="3.0" fill="#5a8dc7"/>
<circle cx="587.30" cy="499.45" r="3.0" fill="#5a8dc7"/>
<circle cx="622.77" cy="478.77" r="3.0" fill="#5a8dc7"/>
<circle cx="566.00" cy="459.40" r="3.0" fill="#5a8dc7"/>
<circle cx="620.80" cy="475.67" r="3.0" fill="#5a8dc7"/>
<circle cx="590.63" cy="504.18" r="3.0" fill="#5a8dc7"/>
<circle cx="567.14" cy="486.75" r="3.0" fill="#5a8dc7"/>
<circle cx="594.11" cy="470.11" r="3.0" fill="#5a8dc7"/>
<circle cx="539.70" cy="470.40" r="3.0" fill="#5a8dc7"/>
<circle cx="621.80" cy="527.20" r="3.0" fill="#5a8dc7"/>
<circle cx="548.20" cy="458.30" r="3.0" fill="#5a8dc7"/>
<circle cx="564.90" cy="447.90" r="3.0" fill="#5a8dc7"/>
<circle cx="594.90" cy="454.54" r="3.0" fill="#5a8dc7"/>
<circle cx="564.90" cy="496.00" r="3.0" fill="#5a8dc7"/>
<circle cx="628.37" cy="494.70" r="3.0" fill="#5a8dc7"/>
<circle cx="564.33" cy="477.31" r="3.0" fill="#5a8dc7"/>
<circle cx="568.01" cy="465.30" r="3.0" fill="#5a8dc7"/>
<circle cx="575.30" cy="498.20" r="3.0" fill="#5a8dc7"/>
<circle cx="628.47" cy="487.72" r="3.0" fill="#5a8dc7"/>
<circle cx="620.95" cy="491.15" r="3.0" fill="#5a8dc7"/>
<circle cx="612.40" cy="444.60" r="3.0" fill="#5a8dc7"/>
<circle cx="566.67" cy="484.04" r="3.0" fill="#5a8dc7"/>
<circle cx="580.17" cy="489.85" r="3.0" fill="#5a8dc7"/>
<circle cx="571.50" cy="442.40" r="3.0" fill="#5a8dc7"/>
<circle cx="619.55" cy="500.06" r="3.0" fill="#5a8dc7"/>
<circle cx="574.70" cy="464.90" r="3.0" fill="#5a8dc7"/>
<circle cx="589.34" cy="497.81" r="3.0" fill="#5a8dc7"/>
<circle cx="611.64" cy="500.04" r="3.0" fill="#5a8dc7"/>
<circle cx="588.40" cy="516.30" r="3.0" fill="#5a8dc7"/>
<circle cx="623.58" cy="471.80" r="3.0" fill="#5a8dc7"/>
<circle cx="640.40" cy="500.40" r="3.0" fill="#5a8dc7"/>
<circle cx="609.76" cy="495.45" r="3.0" fill="#5a8dc7"/>
<circle cx="574.02" cy="486.29" r="3.0" fill="#5a8dc7"/>
<circle cx="583.54" cy="455.37" r="3.0" fill="#5a8dc7"/>
<circle cx="578.31" cy="457.24" r="3.0" fill="#5a8dc7"/>
<circle cx="615.08" cy="480.87" r="3.0" fill="#5a8dc7"/>
<circle cx="625.07" cy="483.27" r="3.0" fill="#5a8dc7"/>
<circle cx="615.59" cy="499.20" r="3.0" fill="#5a8dc7"/>
<circle cx="574.70" cy="501.50" r="3.0" fill="#5a8dc7"/>
<circle cx="584.94" cy="500.68" r="3.0" fill="#5a8dc7"/>
<circle cx="605.76" cy="504.02" r="3.0" fill="#5a8dc7"/>
<circle cx="624.99" cy="506.15" r="3.0" fill="#5a8dc7"/>
<circle cx="596.99" cy="458.52" r="3.0" fill="#5a8dc7"/>
<circle cx="587.47" cy="494.51" r="3.0" fill="#5a8dc7"/>
<circle cx="623.40" cy="511.40" r="3.0" fill="#5a8dc7"/>
<circle cx="598.97" cy="479.16" r="3.0" fill="#5a8dc7"/>
<circle cx="601.50" cy="449.30" r="3.0" fill="#5a8dc7"/>
<circle cx="591.55" cy="492.44" r="3.0" fill="#5a8dc7"/>
<circle cx="621.70" cy="488.14" r="3.0" fill="#5a8dc7"/>
<circle cx="620.54" cy="491.09" r="3.0" fill="#5a8dc7"/>
<circle cx="597.81" cy="451.01" r="3.0" fill="#5a8dc7"/>
<circle cx="613.72" cy="501.85" r="3.0" fill="#5a8dc7"/>
<circle cx="624.62" cy="503.90" r="3.0" fill="#5a8dc7"/>
<circle cx="608.80" cy="485.67" r="3.0" fill="#5a8dc7"/>
<circle cx="616.30" cy="513.50" r="3.0" fill="#5a8dc7"/>
<circle cx="604.29" cy="500.50" r="3.0" fill="#5a8dc7"/>
<circle cx="552.80" cy="487.30" r="3.0" fill="#5a8dc7"/>
<circle cx="616.00" cy="460.30" r="3.0" fill="#5a8dc7"/>
<circle cx="591.03" cy="482.35" r="3.0" fill="#5a8dc7"/>
<circle cx="591.92" cy="491.09" r="3.0" fill="#5a8dc7"/>
<circle cx="603.54" cy="453.47" r="3.0" fill="#5a8dc7"/>
<circle cx="615.87" cy="483.00" r="3.0" fill="#5a8dc7"/>
<circle cx="637.10" cy="530.50" r="3.0" fill="#5a8dc7"/>
<circle cx="577.66" cy="455.90" r="3.0" fill="#5a8dc7"/>
<circle cx="603.70" cy="441.40" r="3.0" fill="#5a8dc7"/>
<circle cx="603.56" cy="499.13" r="3.0" fill="#5a8dc7"/>
<circle cx="595.25" cy="494.06" r="3.0" fill="#5a8dc7"/>
<circle cx="554.50" cy="481.30" r="3.0" fill="#5a8dc7"/>
<circle cx="570.66" cy="456.63" r="3.0" fill="#5a8dc7"/>
<circle cx="594.62" cy="454.43" r="3.0" fill="#5a8dc7"/>
<circle cx="618.28" cy="484.29" r="3.0" fill="#5a8dc7"/>
<circle cx="584.76" cy="449.36" r="3.0" fill="#5a8dc7"/>
<circle cx="587.84" cy="477.41" r="3.0" fill="#5a8dc7"/>
<circle cx="607.94" cy="453.49" r="3.0" fill="#5a8dc7"/>
<circle cx="624.50" cy="523.40" r="3.0" fill="#5a8dc7"/>
<circle cx="572.91" cy="456.52" r="3.0" fill="#5a8dc7"/>
<circle cx="631.60" cy="516.80" r="3.0" fill="#5a8dc7"/>
<circle cx="619.46" cy="479.68" r="3.0" fill="#5a8dc7"/>
<circle cx="607.16" cy="498.46" r="3.0" fill="#5a8dc7"/>
<circle cx="599.40" cy="475.29" r="3.0" fill="#5a8dc7"/>
<circle cx="618.78" cy="470.70" r="3.0" fill="#5a8dc7"/>
<circle cx="625.13" cy="498.27" r="3.0" fill="#5a8dc7"/>
<circle cx="629.40" cy="481.90" r="3.0" fill="#5a8dc7"/>
<circle cx="572.81" cy="480.76" r="3.0" fill="#5a8dc7"/>
<circle cx="586.80" cy="503.70" r="3.0" fill="#5a8dc7"/>
<circle cx="596.76" cy="502.69" r="3.0" fill="#5a8dc7"/>
<circle cx="600.23" cy="478.54" r="3.0" fill="#5a8dc7"/>
<circle cx="607.18" cy="458.79" r="3.0" fill="#5a8dc7"/>
<circle cx="593.92" cy="496.95" r="3.0" fill="#5a8dc7"/>
<circle cx="594.23" cy="501.82" r="3.0" fill="#5a8dc7"/>
<circle cx="567.45" cy="465.48" r="3.0" fill="#5a8dc7"/>
<circle cx="614.05" cy="508.70" r="3.0" fill="#5a8dc7"/>
<circle cx="609.38" cy="478.58" r="3.0" fill="#5a8dc7"/>
<circle cx="547.20" cy="469.80" r="3.0" fill="#5a8dc7"/>
<circle cx="621.42" cy="506.25" r="3.0" fill="#5a8dc7"/>
<circle cx="614.99" cy="467.67" r="3.0" fill="#5a8dc7"/>
<circle cx="619.86" cy="508.10" r="3.0" fill="#5a8dc7"/>
<circle cx="566.00" cy="464.90" r="3.0" fill="#5a8dc7"/>
<circle cx="606.40" cy="444.10" r="3.0" fill="#5a8dc7"/>
<circle cx="625.14" cy="486.83" r="3.0" fill="#5a8dc7"/>
<circle cx="597.31" cy="463.43" r="3.0" fill="#5a8dc7"/>
<circle cx="620.70" cy="456.10" r="3.0" fill="#5a8dc7"/>
<circle cx="570.66" cy="486.07" r="3.0" fill="#5a8dc7"/>
<circle cx="610.30" cy="457.80" r="3.0" fill="#5a8dc7"/>
<circle cx="591.20" cy="529.40" r="3.0" fill="#5a8dc7"/>
<circle cx="559.10" cy="469.17" r="3.0" fill="#5a8dc7"/>
<circle cx="614.10" cy="523.90" r="3.0" fill="#5a8dc7"/>
<circle cx="597.98" cy="468.45" r="3.0" fill="#5a8dc7"/>
<circle cx="602.15" cy="485.79" r="3.0" fill="#5a8dc7"/>
<circle cx="603.55" cy="482.30" r="3.0" fill="#5a8dc7"/>
<circle cx="595.88" cy="475.56" r="3.0" fill="#5a8dc7"/>
<circle cx="604.27" cy="473.17" r="3.0" fill="#5a8dc7"/>
<circle cx="569.15" cy="473.64" r="3.0" fill="#5a8dc7"/>
<circle cx="640.90" cy="485.70" r="3.0" fill="#5a8dc7"/>
<circle cx="576.02" cy="487.51" r="3.0" fill="#5a8dc7"/>
<circle cx="562.70" cy="459.40" r="3.0" fill="#5a8dc7"/>
<circle cx="622.56" cy="490.06" r="3.0" fill="#5a8dc7"/>
<circle cx="590.69" cy="474.63" r="3.0" fill="#5a8dc7"/>
<circle cx="571.50" cy="430.40" r="3.0" fill="#5a8dc7"/>
<circle cx="558.10" cy="433.70" r="3.0" fill="#5a8dc7"/>
<circle cx="576.90" cy="457.20" r="3.0" fill="#5a8dc7"/>
<circle cx="631.04" cy="502.27" r="3.0" fill="#5a8dc7"/>
<circle cx="601.79" cy="508.31" r="3.0" fill="#5a8dc7"/>
<circle cx="602.43" cy="498.87" r="3.0" fill="#5a8dc7"/>
<circle cx="625.03" cy="500.41" r="3.0" fill="#5a8dc7"/>
<circle cx="570.85" cy="490.03" r="3.0" fill="#5a8dc7"/>
<circle cx="591.60" cy="529.20" r="3.0" fill="#5a8dc7"/>
<circle cx="580.52" cy="485.71" r="3.0" fill="#5a8dc7"/>
<circle cx="594.48" cy="476.51" r="3.0" fill="#5a8dc7"/>
<circle cx="598.26" cy="473.56" r="3.0" fill="#5a8dc7"/>
<circle cx="614.85" cy="486.34" r="3.0" fill="#5a8dc7"/>
<circle cx="600.82" cy="471.32" r="3.0" fill="#5a8dc7"/>
<circle cx="618.52" cy="464.84" r="3.0" fill="#5a8dc7"/>
<circle cx="607.83" cy="467.32" r="3.0" fill="#5a8dc7"/>
<circle cx="578.60" cy="449.60" r="3.0" fill="#5a8dc7"/>
<circle cx="576.90" cy="494.40" r="3.0" fill="#5a8dc7"/>
<circle cx="543.30" cy="492.20" r="3.0" fill="#5a8dc7"/>
<circle cx="582.25" cy="454.88" r="3.0" fill="#5a8dc7"/>
<circle cx="592.69" cy="496.91" r="3.0" fill="#5a8dc7"/>
<circle cx="600.16" cy="480.60" r="3.0" fill="#5a8dc7"/>
<circle cx="612.40" cy="529.40" r="3.0" fill="#5a8dc7"/>
<circle cx="610.48" cy="495.96" r="3.0" fill="#5a8dc7"/>
<circle cx="563.20" cy="443.50" r="3.0" fill="#5a8dc7"/>
<circle cx="627.80" cy="511.40" r="3.0" fill="#5a8dc7"/>
<circle cx="567.57" cy="460.39" r="3.0" fill="#5a8dc7"/>
<circle cx="604.49" cy="484.92" r="3.0" fill="#5a8dc7"/>
<circle cx="640.90" cy="491.60" r="3.0" fill="#5a8dc7"/>
<circle cx="611.21" cy="465.77" r="3.0" fill="#5a8dc7"/>
<circle cx="568.30" cy="479.71" r="3.0" fill="#5a8dc7"/>
<circle cx="571.83" cy="461.06" r="3.0" fill="#5a8dc7"/>
<circle cx="593.35" cy="506.01" r="3.0" fill="#5a8dc7"/>
<circle cx="584.06" cy="481.74" r="3.0" fill="#5a8dc7"/>
<circle cx="590.10" cy="449.60" r="3.0" fill="#5a8dc7"/>
<circle cx="541.40" cy="446.30" r="3.0" fill="#5a8dc7"/>
<circle cx="604.88" cy="479.04" r="3.0" fill="#5a8dc7"/>
<circle cx="583.50" cy="517.90" r="3.0" fill="#5a8dc7"/>
<circle cx="547.90" cy="480.20" r="3.0" fill="#5a8dc7"/>
<circle cx="631.60" cy="522.30" r="3.0" fill="#5a8dc7"/>
<circle cx="627.80" cy="478.00" r="3.0" fill="#5a8dc7"/>
<circle cx="581.30" cy="514.60" r="3.0" fill="#5a8dc7"/>
<circle cx="601.92" cy="452.84" r="3.0" fill="#5a8dc7"/>
<circle cx="618.50" cy="503.69" r="3.0" fill="#5a8dc7"/>
<circle cx="622.09" cy="495.75" r="3.0" fill="#5a8dc7"/>
<circle cx="606.00" cy="490.24" r="3.0" fill="#5a8dc7"/>
<circle cx="587.88" cy="491.34" r="3.0" fill="#5a8dc7"/>
<circle cx="609.20" cy="438.10" r="3.0" fill="#5a8dc7"/>
<circle cx="602.69" cy="500.25" r="3.0" fill="#5a8dc7"/>
<circle cx="597.85" cy="456.08" r="3.0" fill="#5a8dc7"/>
<circle cx="550.10" cy="488.40" r="3.0" fill="#5a8dc7"/>
<circle cx="593.06" cy="474.26" r="3.0" fill="#5a8dc7"/>
<circle cx="623.25" cy="493.44" r="3.0" fill="#5a8dc7"/>
<circle cx="568.39" cy="468.54" r="3.0" fill="#5a8dc7"/>
<circle cx="535.30" cy="452.00" r="3.0" fill="#5a8dc7"/>
<circle cx="572.26" cy="464.38" r="3.0" fill="#5a8dc7"/>
<circle cx="571.50" cy="452.80" r="3.0" fill="#5a8dc7"/>
<circle cx="575.69" cy="490.85" r="3.0" fill="#5a8dc7"/>
<circle cx="588.44" cy="494.97" r="3.0" fill="#5a8dc7"/>
<circle cx="561.60" cy="466.00" r="3.0" fill="#5a8dc7"/>
<circle cx="611.71" cy="504.79" r="3.0" fill="#5a8dc7"/>
<circle cx="643.70" cy="488.40" r="3.0" fill="#5a8dc7"/>
<circle cx="578.60" cy="508.60" r="3.0" fill="#5a8dc7"/>
<circle cx="622.34" cy="477.81" r="3.0" fill="#5a8dc7"/>
<circle cx="569.29" cy="472.11" r="3.0" fill="#5a8dc7"/>
<circle cx="561.10" cy="451.20" r="3.0" fill="#5a8dc7"/>
<circle cx="608.78" cy="454.81" r="3.0" fill="#5a8dc7"/>
<circle cx="577.90" cy="500.72" r="3.0" fill="#5a8dc7"/>
<circle cx="569.80" cy="443.00" r="3.0" fill="#5a8dc7"/>
<circle cx="617.20" cy="532.20" r="3.0" fill="#5a8dc7"/>
<circle cx="581.16" cy="466.83" r="3.0" fill="#5a8dc7"/>
<circle cx="570.09" cy="465.24" r="3.0" fill="#5a8dc7"/>
<circle cx="572.86" cy="472.44" r="3.0" fill="#5a8dc7"/>
<circle cx="570.40" cy="464.30" r="3.0" fill="#5a8dc7"/>
<circle cx="585.70" cy="449.00" r="3.0" fill="#5a8dc7"/>
<circle cx="559.34" cy="467.76" r="3.0" fill="#5a8dc7"/>
<circle cx="597.10" cy="520.10" r="3.0" fill="#5a8dc7"/>
<circle cx="624.46" cy="494.45" r="3.0" fill="#5a8dc7"/>
<circle cx="620.33" cy="476.54" r="3.0" fill="#5a8dc7"/>
<circle cx="585.70" cy="511.90" r="3.0" fill="#5a8dc7"/>
<circle cx="602.42" cy="509.76" r="3.0" fill="#5a8dc7"/>
<circle cx="600.40" cy="438.60" r="3.0" fill="#5a8dc7"/>
<circle cx="592.51" cy="476.45" r="3.0" fill="#5a8dc7"/>
<circle cx="619.30" cy="500.26" r="3.0" fill="#5a8dc7"/>
<circle cx="626.22" cy="481.23" r="3.0" fill="#5a8dc7"/>
<circle cx="611.70" cy="448.70" r="3.0" fill="#5a8dc7"/>
<circle cx="543.50" cy="492.30" r="3.0" fill="#5a8dc7"/>
<circle cx="633.80" cy="470.40" r="3.0" fill="#5a8dc7"/>
<circle cx="600.86" cy="494.33" r="3.0" fill="#5a8dc7"/>
<circle cx="557.20" cy="464.90" r="3.0" fill="#5a8dc7"/>
<circle cx="584.60" cy="437.50" r="3.0" fill="#5a8dc7"/>
<circle cx="575.30" cy="434.20" r="3.0" fill="#5a8dc7"/>
<circle cx="584.05" cy="458.07" r="3.0" fill="#5a8dc7"/>
<circle cx="570.90" cy="448.50" r="3.0" fill="#5a8dc7"/>
<circle cx="621.41" cy="486.85" r="3.0" fill="#5a8dc7"/>
<circle cx="642.20" cy="468.20" r="3.0" fill="#5a8dc7"/>
<circle cx="607.74" cy="455.98" r="3.0" fill="#5a8dc7"/>
<circle cx="631.45" cy="487.62" r="3.0" fill="#5a8dc7"/>
<circle cx="589.50" cy="435.30" r="3.0" fill="#5a8dc7"/>
<circle cx="573.70" cy="458.30" r="3.0" fill="#5a8dc7"/>
<circle cx="608.10" cy="539.30" r="3.0" fill="#5a8dc7"/>
<circle cx="648.60" cy="490.90" r="3.0" fill="#5a8dc7"/>
<circle cx="613.00" cy="517.90" r="3.0" fill="#5a8dc7"/>
<circle cx="616.53" cy="468.21" r="3.0" fill="#5a8dc7"/>
<circle cx="605.96" cy="453.89" r="3.0" fill="#5a8dc7"/>
<circle cx="626.20" cy="502.06" r="3.0" fill="#5a8dc7"/>
<circle cx="590.50" cy="434.80" r="3.0" fill="#5a8dc7"/>
<circle cx="615.24" cy="481.94" r="3.0" fill="#5a8dc7"/>
<circle cx="597.88" cy="496.90" r="3.0" fill="#5a8dc7"/>
<circle cx="540.00" cy="443.90" r="3.0" fill="#5a8dc7"/>
<circle cx="645.30" cy="519.80" r="3.0" fill="#5a8dc7"/>
<circle cx="585.32" cy="456.70" r="3.0" fill="#5a8dc7"/>
<circle cx="606.00" cy="464.73" r="3.0" fill="#5a8dc7"/>
<circle cx="565.40" cy="505.30" r="3.0" fill="#5a8dc7"/>
<circle cx="562.85" cy="464.68" r="3.0" fill="#5a8dc7"/>
<circle cx="648.60" cy="490.10" r="3.0" fill="#5a8dc7"/>
<circle cx="616.86" cy="508.13" r="3.0" fill="#5a8dc7"/>
<circle cx="599.55" cy="459.17" r="3.0" fill="#5a8dc7"/>
<circle cx="591.76" cy="484.22" r="3.0" fill="#5a8dc7"/>
<circle cx="599.63" cy="493.97" r="3.0" fill="#5a8dc7"/>
<circle cx="596.36" cy="452.05" r="3.0" fill="#5a8dc7"/>
<circle cx="538.60" cy="481.30" r="3.0" fill="#5a8dc7"/>
<circle cx="566.06" cy="464.10" r="3.0" fill="#5a8dc7"/>
<circle cx="558.30" cy="457.20" r="3.0" fill="#5a8dc7"/>
<circle cx="627.11" cy="489.25" r="3.0" fill="#5a8dc7"/>
<circle cx="627.37" cy="483.03" r="3.0" fill="#5a8dc7"/>
<circle cx="535.90" cy="464.10" r="3.0" fill="#5a8dc7"/>
<circle cx="560.47" cy="487.56" r="3.0" fill="#5a8dc7"/>
<circle cx="592.34" cy="463.91" r="3.0" fill="#5a8dc7"/>
<circle cx="640.40" cy="491.70" r="3.0" fill="#5a8dc7"/>
<circle cx="610.30" cy="507.66" r="3.0" fill="#5a8dc7"/>
<circle cx="591.88" cy="453.73" r="3.0" fill="#5a8dc7"/>
<circle cx="568.06" cy="482.11" r="3.0" fill="#5a8dc7"/>
<circle cx="605.24" cy="502.04" r="3.0" fill="#5a8dc7"/>
<circle cx="587.42" cy="474.22" r="3.0" fill="#5a8dc7"/>
<circle cx="598.44" cy="473.15" r="3.0" fill="#5a8dc7"/>
<circle cx="579.70" cy="501.84" r="3.0" fill="#5a8dc7"/>
<circle cx="648.90" cy="507.20" r="3.0" fill="#5a8dc7"/>
<circle cx="565.01" cy="467.99" r="3.0" fill="#5a8dc7"/>
<circle cx="567.33" cy="469.08" r="3.0" fill="#5a8dc7"/>
<circle cx="615.65" cy="491.38" r="3.0" fill="#5a8dc7"/>
<circle cx="620.72" cy="486.47" r="3.0" fill="#5a8dc7"/>
<circle cx="587.56" cy="481.48" r="3.0" fill="#5a8dc7"/>
<circle cx="576.40" cy="435.90" r="3.0" fill="#5a8dc7"/>
<circle cx="569.77" cy="483.69" r="3.0" fill="#5a8dc7"/>
<circle cx="603.78" cy="477.07" r="3.0" fill="#5a8dc7"/>
<circle cx="589.96" cy="490.47" r="3.0" fill="#5a8dc7"/>
<circle cx="554.50" cy="470.90" r="3.0" fill="#5a8dc7"/>
<circle cx="605.96" cy="493.46" r="3.0" fill="#5a8dc7"/>
<circle cx="597.78" cy="492.49" r="3.0" fill="#5a8dc7"/>
<circle cx="585.10" cy="503.90" r="3.0" fill="#5a8dc7"/>
<circle cx="610.27" cy="486.40" r="3.0" fill="#5a8dc7"/>
<circle cx="597.88" cy="485.73" r="3.0" fill="#5a8dc7"/>
<circle cx="567.81" cy="461.51" r="3.0" fill="#5a8dc7"/>
<circle cx="596.41" cy="454.21" r="3.0" fill="#5a8dc7"/>
<circle cx="565.04" cy="481.62" r="3.0" fill="#5a8dc7"/>
<circle cx="616.74" cy="471.73" r="3.0" fill="#5a8dc7"/>
<circle cx="594.25" cy="473.74" r="3.0" fill="#5a8dc7"/>
<circle cx="602.73" cy="491.84" r="3.0" fill="#5a8dc7"/>
<circle cx="607.00" cy="520.10" r="3.0" fill="#5a8dc7"/>
<circle cx="617.40" cy="453.40" r="3.0" fill="#5a8dc7"/>
<circle cx="576.90" cy="511.90" r="3.0" fill="#5a8dc7"/>
<circle cx="618.07" cy="499.76" r="3.0" fill="#5a8dc7"/>
<circle cx="604.52" cy="502.97" r="3.0" fill="#5a8dc7"/>
<circle cx="595.53" cy="473.56" r="3.0" fill="#5a8dc7"/>
<circle cx="625.66" cy="496.04" r="3.0" fill="#5a8dc7"/>
<circle cx="618.21" cy="481.20" r="3.0" fill="#5a8dc7"/>
<circle cx="572.45" cy="460.30" r="3.0" fill="#5a8dc7"/>
<circle cx="592.80" cy="443.00" r="3.0" fill="#5a8dc7"/>
<circle cx="600.90" cy="485.68" r="3.0" fill="#5a8dc7"/>
<circle cx="584.39" cy="450.47" r="3.0" fill="#5a8dc7"/>
<circle cx="566.50" cy="504.20" r="3.0" fill="#5a8dc7"/>
<circle cx="588.47" cy="503.04" r="3.0" fill="#5a8dc7"/>
<circle cx="589.58" cy="496.13" r="3.0" fill="#5a8dc7"/>
<circle cx="600.92" cy="466.22" r="3.0" fill="#5a8dc7"/>
<circle cx="592.25" cy="497.91" r="3.0" fill="#5a8dc7"/>
<circle cx="632.72" cy="494.05" r="3.0" fill="#5a8dc7"/>
<circle cx="560.06" cy="468.60" r="3.0" fill="#5a8dc7"/>
<circle cx="607.81" cy="454.64" r="3.0" fill="#5a8dc7"/>
<circle cx="642.60" cy="504.20" r="3.0" fill="#5a8dc7"/>
<circle cx="623.93" cy="491.52" r="3.0" fill="#5a8dc7"/>
<circle cx="587.92" cy="458.42" r="3.0" fill="#5a8dc7"/>
<circle cx="597.04" cy="486.11" r="3.0" fill="#5a8dc7"/>
<circle cx="576.00" cy="495.15" r="3.0" fill="#5a8dc7"/>
<circle cx="538.10" cy="484.10" r="3.0" fill="#5a8dc7"/>
<circle cx="624.80" cy="506.02" r="3.0" fill="#5a8dc7"/>
<circle cx="575.25" cy="461.88" r="3.0" fill="#5a8dc7"/>
<circle cx="623.11" cy="504.59" r="3.0" fill="#5a8dc7"/>
<circle cx="570.60" cy="474.78" r="3.0" fill="#5a8dc7"/>
<circle cx="614.99" cy="486.29" r="3.0" fill="#5a8dc7"/>
<circle cx="592.63" cy="479.63" r="3.0" fill="#5a8dc7"/>
<circle cx="557.20" cy="479.10" r="3.0" fill="#5a8dc7"/>
<circle cx="647.30" cy="479.10" r="3.0" fill="#5a8dc7"/>
<circle cx="583.86" cy="458.04" r="3.0" fill="#5a8dc7"/>
<circle cx="580.41" cy="482.81" r="3.0" fill="#5a8dc7"/>
<circle cx="595.90" cy="460.82" r="3.0" fill="#5a8dc7"/>
<circle cx="587.48" cy="449.06" r="3.0" fill="#5a8dc7"/>
<circle cx="591.53" cy="482.06" r="3.0" fill="#5a8dc7"/>
<circle cx="606.24" cy="465.47" r="3.0" fill="#5a8dc7"/>
<circle cx="589.68" cy="462.95" r="3.0" fill="#5a8dc7"/>
<circle cx="597.10" cy="437.00" r="3.0" fill="#5a8dc7"/>
<circle cx="566.50" cy="522.60" r="3.0" fill="#5a8dc7"/>
<circle cx="599.30" cy="516.80" r="3.0" fill="#5a8dc7"/>
<circle cx="591.12" cy="450.56" r="3.0" fill="#5a8dc7"/>
<circle cx="621.80" cy="469.60" r="3.0" fill="#5a8dc7"/>
<circle cx="612.40" cy="536.50" r="3.0" fill="#5a8dc7"/>
<circle cx="535.30" cy="475.80" r="3.0" fill="#5a8dc7"/>
<circle cx="623.80" cy="502.94" r="3.0" fill="#5a8dc7"/>
<circle cx="586.38" cy="501.59" r="3.0" fill="#5a8dc7"/>
<circle cx="627.54" cy="493.16" r="3.0" fill="#5a8dc7"/>
<circle cx="637.30" cy="476.90" r="3.0" fill="#5a8dc7"/>
<circle cx="594.51" cy="453.85" r="3.0" fill="#5a8dc7"/>
<circle cx="594.56" cy="496.47" r="3.0" fill="#5a8dc7"/>
<circle cx="572.75" cy="456.54" r="3.0" fill="#5a8dc7"/>
<circle cx="591.76" cy="504.09" r="3.0" fill="#5a8dc7"/>
<circle cx="564.93" cy="482.66" r="3.0" fill="#5a8dc7"/>
<circle cx="611.35" cy="505.35" r="3.0" fill="#5a8dc7"/>
<circle cx="603.43" cy="482.12" r="3.0" fill="#5a8dc7"/>
<circle cx="596.49" cy="450.97" r="3.0" fill="#5a8dc7"/>
<circle cx="602.85" cy="450.68" r="3.0" fill="#5a8dc7"/>
<circle cx="568.67" cy="490.97" r="3.0" fill="#5a8dc7"/>
<circle cx="569.89" cy="454.72" r="3.0" fill="#5a8dc7"/>
<circle cx="575.71" cy="470.40" r="3.0" fill="#5a8dc7"/>
<circle cx="589.68" cy="462.21" r="3.0" fill="#5a8dc7"/>
<circle cx="593.10" cy="443.00" r="3.0" fill="#5a8dc7"/>
<circle cx="628.30" cy="486.20" r="3.0" fill="#5a8dc7"/>
<circle cx="588.99" cy="490.41" r="3.0" fill="#5a8dc7"/>
<circle cx="582.18" cy="477.01" r="3.0" fill="#5a8dc7"/>
<circle cx="537.50" cy="472.60" r="3.0" fill="#5a8dc7"/>
<circle cx="599.89" cy="452.99" r="3.0" fill="#5a8dc7"/>
<circle cx="633.20" cy="505.30" r="3.0" fill="#5a8dc7"/>
<line x1="535.60" y1="463.20" x2="648.80" y2="499.10" stroke="#1a1a1a" stroke-width="1.5" stroke-linecap="butt"/>
<text x="18.00" y="490.70" font-size="9.0" text-anchor="middle" fill="#333" font-weight="normal" font-style="normal" transform="rotate(-90 18.00 490.70)">log<tspan dy="2" font-size="6.12">2</tspan><tspan dy="-2">fc</tspan> of inter TAD</text>
<text x="28.00" y="490.70" font-size="9.0" text-anchor="middle" fill="#333" font-weight="normal" font-style="normal" transform="rotate(-90 28.00 490.70)">distance - sgFAM69B</text>
<text x="256.00" y="487.40" font-size="9.0" text-anchor="middle" fill="#333" font-weight="normal" font-style="normal" transform="rotate(-90 256.00 487.40)">log<tspan dy="2" font-size="6.12">2</tspan><tspan dy="-2">fc</tspan> of inter TAD</text>
<text x="266.00" y="487.40" font-size="9.0" text-anchor="middle" fill="#333" font-weight="normal" font-style="normal" transform="rotate(-90 266.00 487.40)">distance - sgZNF114</text>
<text x="482.90" y="490.70" font-size="9.0" text-anchor="middle" fill="#333" font-weight="normal" font-style="normal" transform="rotate(-90 482.90 490.70)">log<tspan dy="2" font-size="6.12">2</tspan><tspan dy="-2">fc</tspan> of inter TAD</text>
<text x="492.90" y="490.70" font-size="9.0" text-anchor="middle" fill="#333" font-weight="normal" font-style="normal" transform="rotate(-90 492.90 490.70)">distance - sgFAM13C</text>
<text x="131.00" y="588.90" font-size="8.8" text-anchor="middle" fill="#333" font-weight="normal" font-style="normal">Average A–B score</text>
<text x="368.70" y="588.90" font-size="8.8" text-anchor="middle" fill="#333" font-weight="normal" font-style="normal">Average A–B score</text>
<text x="591.00" y="585.60" font-size="8.8" text-anchor="middle" fill="#333" font-weight="normal" font-style="normal">Average A–B score</text>
<text x="262.60" y="611.80" font-size="11.5" font-weight="bold" fill="#000" stroke="#000" stroke-width="0.35">k</text>
<line x1="306.50" y1="624.30" x2="306.50" y2="772.40" stroke="#7a7a7a" stroke-width="0.8" stroke-linecap="butt"/>
<line x1="306.10" y1="772.40" x2="454.70" y2="772.40" stroke="#7a7a7a" stroke-width="0.8" stroke-linecap="butt"/>
<line x1="306.50" y1="624.80" x2="310.70" y2="624.80" stroke="#7a7a7a" stroke-width="0.7" stroke-linecap="butt"/>
<text x="302.00" y="627.70" font-size="7.8" text-anchor="end" fill="#333" font-weight="normal" font-style="normal">0.15</text>
<line x1="306.50" y1="641.20" x2="310.70" y2="641.20" stroke="#7a7a7a" stroke-width="0.7" stroke-linecap="butt"/>
<text x="302.00" y="644.10" font-size="7.8" text-anchor="end" fill="#333" font-weight="normal" font-style="normal">0.1</text>
<line x1="306.50" y1="657.60" x2="310.70" y2="657.60" stroke="#7a7a7a" stroke-width="0.7" stroke-linecap="butt"/>
<text x="302.00" y="660.50" font-size="7.8" text-anchor="end" fill="#333" font-weight="normal" font-style="normal">0.05</text>
<line x1="306.50" y1="674.00" x2="310.70" y2="674.00" stroke="#7a7a7a" stroke-width="0.7" stroke-linecap="butt"/>
<text x="302.00" y="676.90" font-size="7.8" text-anchor="end" fill="#333" font-weight="normal" font-style="normal">0</text>
<line x1="306.50" y1="690.40" x2="310.70" y2="690.40" stroke="#7a7a7a" stroke-width="0.7" stroke-linecap="butt"/>
<text x="302.00" y="693.30" font-size="7.8" text-anchor="end" fill="#333" font-weight="normal" font-style="normal">−0.05</text>
<line x1="306.50" y1="706.80" x2="310.70" y2="706.80" stroke="#7a7a7a" stroke-width="0.7" stroke-linecap="butt"/>
<text x="302.00" y="709.70" font-size="7.8" text-anchor="end" fill="#333" font-weight="normal" font-style="normal">−0.1</text>
<line x1="306.50" y1="723.20" x2="310.70" y2="723.20" stroke="#7a7a7a" stroke-width="0.7" stroke-linecap="butt"/>
<text x="302.00" y="726.10" font-size="7.8" text-anchor="end" fill="#333" font-weight="normal" font-style="normal">−0.15</text>
<line x1="306.50" y1="739.60" x2="310.70" y2="739.60" stroke="#7a7a7a" stroke-width="0.7" stroke-linecap="butt"/>
<text x="302.00" y="742.50" font-size="7.8" text-anchor="end" fill="#333" font-weight="normal" font-style="normal">−0.2</text>
<line x1="306.50" y1="756.00" x2="310.70" y2="756.00" stroke="#7a7a7a" stroke-width="0.7" stroke-linecap="butt"/>
<text x="302.00" y="758.90" font-size="7.8" text-anchor="end" fill="#333" font-weight="normal" font-style="normal">−0.25</text>
<line x1="306.50" y1="772.40" x2="310.70" y2="772.40" stroke="#7a7a7a" stroke-width="0.7" stroke-linecap="butt"/>
<text x="302.00" y="775.30" font-size="7.8" text-anchor="end" fill="#333" font-weight="normal" font-style="normal">−0.3</text>
<line x1="305.90" y1="772.40" x2="305.90" y2="768.20" stroke="#7a7a7a" stroke-width="0.7" stroke-linecap="butt"/>
<text x="305.90" y="783.00" font-size="7.8" text-anchor="middle" fill="#333" font-weight="normal" font-style="normal">−0.2</text>
<line x1="327.15" y1="772.40" x2="327.15" y2="768.20" stroke="#7a7a7a" stroke-width="0.7" stroke-linecap="butt"/>
<text x="327.15" y="783.00" font-size="7.8" text-anchor="middle" fill="#333" font-weight="normal" font-style="normal">−0.1</text>
<line x1="348.40" y1="772.40" x2="348.40" y2="768.20" stroke="#7a7a7a" stroke-width="0.7" stroke-linecap="butt"/>
<text x="348.40" y="783.00" font-size="7.8" text-anchor="middle" fill="#333" font-weight="normal" font-style="normal">0</text>
<line x1="369.65" y1="772.40" x2="369.65" y2="768.20" stroke="#7a7a7a" stroke-width="0.7" stroke-linecap="butt"/>
<text x="369.65" y="783.00" font-size="7.8" text-anchor="middle" fill="#333" font-weight="normal" font-style="normal">0.1</text>
<line x1="390.90" y1="772.40" x2="390.90" y2="768.20" stroke="#7a7a7a" stroke-width="0.7" stroke-linecap="butt"/>
<text x="390.90" y="783.00" font-size="7.8" text-anchor="middle" fill="#333" font-weight="normal" font-style="normal">0.2</text>
<line x1="412.15" y1="772.40" x2="412.15" y2="768.20" stroke="#7a7a7a" stroke-width="0.7" stroke-linecap="butt"/>
<text x="412.15" y="783.00" font-size="7.8" text-anchor="middle" fill="#333" font-weight="normal" font-style="normal">0.3</text>
<line x1="433.40" y1="772.40" x2="433.40" y2="768.20" stroke="#7a7a7a" stroke-width="0.7" stroke-linecap="butt"/>
<text x="433.40" y="783.00" font-size="7.8" text-anchor="middle" fill="#333" font-weight="normal" font-style="normal">0.4</text>
<line x1="454.65" y1="772.40" x2="454.65" y2="768.20" stroke="#7a7a7a" stroke-width="0.7" stroke-linecap="butt"/>
<text x="454.65" y="783.00" font-size="7.8" text-anchor="middle" fill="#333" font-weight="normal" font-style="normal">0.5</text>
<text x="314.80" y="629.60" font-size="8.5" text-anchor="start" fill="#333" font-weight="normal" font-style="normal"><tspan font-style="italic">P</tspan><tspan font-size="7.4"> = </tspan>7.3<tspan font-size="7.4"> × </tspan>10<tspan dy="-3.6" font-size="5.4">−16</tspan></text>
<text x="314.80" y="640.60" font-size="8.5" text-anchor="start" fill="#333" font-weight="normal" font-style="normal"><tspan font-style="italic">R</tspan> = 0.41</text>
<circle cx="363.34" cy="698.35" r="3.0" fill="#ed1c26"/>
<circle cx="349.28" cy="662.01" r="3.0" fill="#ed1c26"/>
<circle cx="365.50" cy="714.71" r="3.0" fill="#ed1c26"/>
<circle cx="347.70" cy="694.20" r="3.0" fill="#ed1c26"/>
<circle cx="403.51" cy="705.37" r="3.0" fill="#ed1c26"/>
<circle cx="387.53" cy="680.71" r="3.0" fill="#ed1c26"/>
<circle cx="434.34" cy="700.24" r="3.0" fill="#ed1c26"/>
<circle cx="384.69" cy="737.46" r="3.0" fill="#ed1c26"/>
<circle cx="370.91" cy="722.88" r="3.0" fill="#ed1c26"/>
<circle cx="316.40" cy="701.20" r="3.0" fill="#ed1c26"/>
<circle cx="361.01" cy="714.58" r="3.0" fill="#ed1c26"/>
<circle cx="424.39" cy="677.60" r="3.0" fill="#ed1c26"/>
<circle cx="348.10" cy="715.64" r="3.0" fill="#ed1c26"/>
<circle cx="352.61" cy="715.57" r="3.0" fill="#ed1c26"/>
<circle cx="368.22" cy="700.68" r="3.0" fill="#ed1c26"/>
<circle cx="394.31" cy="738.66" r="3.0" fill="#ed1c26"/>
<circle cx="377.94" cy="706.03" r="3.0" fill="#ed1c26"/>
<circle cx="395.43" cy="711.48" r="3.0" fill="#ed1c26"/>
<circle cx="398.73" cy="685.18" r="3.0" fill="#ed1c26"/>
<circle cx="373.02" cy="693.14" r="3.0" fill="#ed1c26"/>
<circle cx="346.40" cy="665.50" r="3.0" fill="#ed1c26"/>
<circle cx="421.27" cy="672.78" r="3.0" fill="#ed1c26"/>
<circle cx="372.46" cy="741.92" r="3.0" fill="#ed1c26"/>
<circle cx="442.02" cy="703.93" r="3.0" fill="#ed1c26"/>
<circle cx="343.80" cy="764.70" r="3.0" fill="#ed1c26"/>
<circle cx="385.07" cy="660.96" r="3.0" fill="#ed1c26"/>
<circle cx="352.49" cy="728.49" r="3.0" fill="#ed1c26"/>
<circle cx="390.96" cy="678.56" r="3.0" fill="#ed1c26"/>
<circle cx="401.91" cy="702.87" r="3.0" fill="#ed1c26"/>
<circle cx="381.05" cy="690.05" r="3.0" fill="#ed1c26"/>
<circle cx="397.28" cy="662.62" r="3.0" fill="#ed1c26"/>
<circle cx="401.79" cy="666.25" r="3.0" fill="#ed1c26"/>
<circle cx="380.13" cy="721.46" r="3.0" fill="#ed1c26"/>
<circle cx="348.10" cy="693.90" r="3.0" fill="#ed1c26"/>
<circle cx="374.93" cy="720.68" r="3.0" fill="#ed1c26"/>
<circle cx="351.00" cy="686.50" r="3.0" fill="#ed1c26"/>
<circle cx="415.66" cy="652.38" r="3.0" fill="#ed1c26"/>
<circle cx="357.60" cy="742.80" r="3.0" fill="#ed1c26"/>
<circle cx="380.78" cy="710.98" r="3.0" fill="#ed1c26"/>
<circle cx="386.27" cy="694.14" r="3.0" fill="#ed1c26"/>
<circle cx="397.76" cy="660.28" r="3.0" fill="#ed1c26"/>
<circle cx="439.70" cy="673.80" r="3.0" fill="#ed1c26"/>
<circle cx="402.86" cy="688.33" r="3.0" fill="#ed1c26"/>
<circle cx="370.00" cy="724.73" r="3.0" fill="#ed1c26"/>
<circle cx="394.30" cy="717.88" r="3.0" fill="#ed1c26"/>
<circle cx="376.47" cy="709.20" r="3.0" fill="#ed1c26"/>
<circle cx="377.66" cy="711.91" r="3.0" fill="#ed1c26"/>
<circle cx="326.70" cy="684.70" r="3.0" fill="#ed1c26"/>
<circle cx="321.90" cy="724.80" r="3.0" fill="#ed1c26"/>
<circle cx="427.60" cy="722.00" r="3.0" fill="#ed1c26"/>
<circle cx="429.77" cy="704.21" r="3.0" fill="#ed1c26"/>
<circle cx="393.64" cy="696.97" r="3.0" fill="#ed1c26"/>
<circle cx="416.74" cy="673.87" r="3.0" fill="#ed1c26"/>
<circle cx="395.34" cy="681.47" r="3.0" fill="#ed1c26"/>
<circle cx="382.21" cy="691.16" r="3.0" fill="#ed1c26"/>
<circle cx="419.69" cy="678.44" r="3.0" fill="#ed1c26"/>
<circle cx="352.99" cy="725.95" r="3.0" fill="#ed1c26"/>
<circle cx="356.69" cy="694.10" r="3.0" fill="#ed1c26"/>
<circle cx="392.44" cy="694.55" r="3.0" fill="#ed1c26"/>
<circle cx="393.42" cy="669.60" r="3.0" fill="#ed1c26"/>
<circle cx="359.30" cy="750.40" r="3.0" fill="#ed1c26"/>
<circle cx="364.37" cy="719.01" r="3.0" fill="#ed1c26"/>
<circle cx="376.27" cy="700.79" r="3.0" fill="#ed1c26"/>
<circle cx="433.70" cy="639.90" r="3.0" fill="#ed1c26"/>
<circle cx="379.22" cy="696.76" r="3.0" fill="#ed1c26"/>
<circle cx="372.98" cy="657.16" r="3.0" fill="#ed1c26"/>
<circle cx="373.80" cy="657.60" r="3.0" fill="#ed1c26"/>
<circle cx="413.92" cy="708.80" r="3.0" fill="#ed1c26"/>
<circle cx="347.78" cy="716.35" r="3.0" fill="#ed1c26"/>
<circle cx="415.14" cy="670.25" r="3.0" fill="#ed1c26"/>
<circle cx="356.53" cy="715.12" r="3.0" fill="#ed1c26"/>
<circle cx="438.60" cy="639.20" r="3.0" fill="#ed1c26"/>
<circle cx="398.70" cy="646.40" r="3.0" fill="#ed1c26"/>
<circle cx="403.64" cy="668.18" r="3.0" fill="#ed1c26"/>
<circle cx="404.65" cy="682.73" r="3.0" fill="#ed1c26"/>
<circle cx="412.41" cy="676.39" r="3.0" fill="#ed1c26"/>
<circle cx="419.10" cy="661.63" r="3.0" fill="#ed1c26"/>
<circle cx="400.46" cy="696.84" r="3.0" fill="#ed1c26"/>
<circle cx="362.28" cy="685.18" r="3.0" fill="#ed1c26"/>
<circle cx="369.29" cy="706.75" r="3.0" fill="#ed1c26"/>
<circle cx="371.49" cy="702.54" r="3.0" fill="#ed1c26"/>
<circle cx="406.60" cy="716.24" r="3.0" fill="#ed1c26"/>
<circle cx="400.27" cy="738.16" r="3.0" fill="#ed1c26"/>
<circle cx="375.42" cy="730.02" r="3.0" fill="#ed1c26"/>
<circle cx="425.44" cy="656.28" r="3.0" fill="#ed1c26"/>
<circle cx="348.89" cy="717.49" r="3.0" fill="#ed1c26"/>
<circle cx="376.86" cy="714.49" r="3.0" fill="#ed1c26"/>
<circle cx="361.17" cy="705.66" r="3.0" fill="#ed1c26"/>
<circle cx="407.63" cy="688.23" r="3.0" fill="#ed1c26"/>
<circle cx="381.96" cy="723.13" r="3.0" fill="#ed1c26"/>
<circle cx="372.18" cy="688.72" r="3.0" fill="#ed1c26"/>
<circle cx="353.20" cy="674.30" r="3.0" fill="#ed1c26"/>
<circle cx="385.08" cy="670.30" r="3.0" fill="#ed1c26"/>
<circle cx="433.68" cy="725.18" r="3.0" fill="#ed1c26"/>
<circle cx="410.25" cy="710.16" r="3.0" fill="#ed1c26"/>
<circle cx="357.43" cy="707.76" r="3.0" fill="#ed1c26"/>
<circle cx="375.85" cy="670.88" r="3.0" fill="#ed1c26"/>
<circle cx="342.48" cy="721.82" r="3.0" fill="#ed1c26"/>
<circle cx="423.20" cy="734.00" r="3.0" fill="#ed1c26"/>
<circle cx="365.37" cy="748.14" r="3.0" fill="#ed1c26"/>
<circle cx="411.04" cy="663.70" r="3.0" fill="#ed1c26"/>
<circle cx="377.80" cy="656.20" r="3.0" fill="#ed1c26"/>
<circle cx="385.38" cy="744.20" r="3.0" fill="#ed1c26"/>
<circle cx="368.47" cy="755.03" r="3.0" fill="#ed1c26"/>
<circle cx="375.03" cy="671.53" r="3.0" fill="#ed1c26"/>
<circle cx="396.93" cy="719.18" r="3.0" fill="#ed1c26"/>
<circle cx="419.84" cy="698.36" r="3.0" fill="#ed1c26"/>
<circle cx="381.26" cy="657.75" r="3.0" fill="#ed1c26"/>
<circle cx="408.95" cy="656.19" r="3.0" fill="#ed1c26"/>
<circle cx="376.70" cy="670.40" r="3.0" fill="#ed1c26"/>
<circle cx="374.18" cy="677.10" r="3.0" fill="#ed1c26"/>
<circle cx="383.64" cy="712.80" r="3.0" fill="#ed1c26"/>
<circle cx="382.56" cy="706.20" r="3.0" fill="#ed1c26"/>
<circle cx="370.70" cy="754.80" r="3.0" fill="#ed1c26"/>
<circle cx="372.50" cy="698.17" r="3.0" fill="#ed1c26"/>
<circle cx="426.10" cy="700.50" r="3.0" fill="#ed1c26"/>
<circle cx="424.81" cy="720.05" r="3.0" fill="#ed1c26"/>
<circle cx="418.43" cy="676.30" r="3.0" fill="#ed1c26"/>
<circle cx="397.99" cy="701.40" r="3.0" fill="#ed1c26"/>
<circle cx="360.30" cy="694.50" r="3.0" fill="#ed1c26"/>
<circle cx="373.00" cy="692.73" r="3.0" fill="#ed1c26"/>
<circle cx="363.74" cy="707.15" r="3.0" fill="#ed1c26"/>
<circle cx="399.67" cy="658.63" r="3.0" fill="#ed1c26"/>
<circle cx="381.98" cy="712.12" r="3.0" fill="#ed1c26"/>
<circle cx="425.00" cy="706.60" r="3.0" fill="#ed1c26"/>
<circle cx="410.10" cy="688.59" r="3.0" fill="#ed1c26"/>
<circle cx="381.88" cy="694.37" r="3.0" fill="#ed1c26"/>
<circle cx="419.59" cy="665.37" r="3.0" fill="#ed1c26"/>
<circle cx="394.67" cy="706.21" r="3.0" fill="#ed1c26"/>
<circle cx="365.80" cy="658.20" r="3.0" fill="#ed1c26"/>
<circle cx="366.52" cy="713.81" r="3.0" fill="#ed1c26"/>
<circle cx="398.66" cy="719.54" r="3.0" fill="#ed1c26"/>
<circle cx="356.52" cy="705.94" r="3.0" fill="#ed1c26"/>
<circle cx="347.59" cy="712.17" r="3.0" fill="#ed1c26"/>
<circle cx="401.66" cy="663.94" r="3.0" fill="#ed1c26"/>
<circle cx="344.80" cy="723.45" r="3.0" fill="#ed1c26"/>
<circle cx="358.42" cy="724.72" r="3.0" fill="#ed1c26"/>
<circle cx="404.45" cy="689.48" r="3.0" fill="#ed1c26"/>
<circle cx="410.81" cy="714.61" r="3.0" fill="#ed1c26"/>
<circle cx="364.19" cy="728.55" r="3.0" fill="#ed1c26"/>
<circle cx="385.29" cy="708.24" r="3.0" fill="#ed1c26"/>
<circle cx="384.81" cy="724.37" r="3.0" fill="#ed1c26"/>
<circle cx="326.20" cy="684.30" r="3.0" fill="#ed1c26"/>
<circle cx="371.51" cy="701.89" r="3.0" fill="#ed1c26"/>
<circle cx="351.00" cy="743.90" r="3.0" fill="#ed1c26"/>
<circle cx="400.70" cy="667.36" r="3.0" fill="#ed1c26"/>
<circle cx="397.92" cy="700.92" r="3.0" fill="#ed1c26"/>
<circle cx="419.90" cy="710.50" r="3.0" fill="#ed1c26"/>
<circle cx="443.40" cy="663.50" r="3.0" fill="#ed1c26"/>
<circle cx="333.66" cy="754.52" r="3.0" fill="#ed1c26"/>
<circle cx="385.46" cy="666.45" r="3.0" fill="#ed1c26"/>
<circle cx="399.27" cy="669.25" r="3.0" fill="#ed1c26"/>
<circle cx="397.30" cy="751.76" r="3.0" fill="#ed1c26"/>
<circle cx="372.64" cy="725.87" r="3.0" fill="#ed1c26"/>
<circle cx="412.61" cy="718.85" r="3.0" fill="#ed1c26"/>
<circle cx="360.55" cy="686.59" r="3.0" fill="#ed1c26"/>
<circle cx="382.13" cy="667.86" r="3.0" fill="#ed1c26"/>
<circle cx="363.00" cy="663.90" r="3.0" fill="#ed1c26"/>
<circle cx="360.13" cy="731.42" r="3.0" fill="#ed1c26"/>
<circle cx="355.39" cy="670.73" r="3.0" fill="#ed1c26"/>
<circle cx="408.44" cy="701.40" r="3.0" fill="#ed1c26"/>
<circle cx="345.13" cy="717.12" r="3.0" fill="#ed1c26"/>
<circle cx="385.79" cy="751.08" r="3.0" fill="#ed1c26"/>
<circle cx="351.50" cy="686.30" r="3.0" fill="#ed1c26"/>
<circle cx="364.70" cy="696.70" r="3.0" fill="#ed1c26"/>
<circle cx="416.70" cy="695.70" r="3.0" fill="#ed1c26"/>
<circle cx="389.40" cy="675.24" r="3.0" fill="#ed1c26"/>
<circle cx="378.04" cy="678.68" r="3.0" fill="#ed1c26"/>
<circle cx="409.84" cy="711.12" r="3.0" fill="#ed1c26"/>
<circle cx="351.87" cy="703.60" r="3.0" fill="#ed1c26"/>
<circle cx="363.59" cy="725.00" r="3.0" fill="#ed1c26"/>
<circle cx="364.10" cy="665.50" r="3.0" fill="#ed1c26"/>
<circle cx="402.13" cy="704.78" r="3.0" fill="#ed1c26"/>
<circle cx="377.82" cy="731.09" r="3.0" fill="#ed1c26"/>
<circle cx="364.60" cy="762.00" r="3.0" fill="#ed1c26"/>
<circle cx="390.44" cy="710.85" r="3.0" fill="#ed1c26"/>
<circle cx="407.33" cy="686.84" r="3.0" fill="#ed1c26"/>
<circle cx="385.79" cy="707.90" r="3.0" fill="#ed1c26"/>
<circle cx="330.40" cy="734.00" r="3.0" fill="#ed1c26"/>
<circle cx="411.51" cy="721.26" r="3.0" fill="#ed1c26"/>
<circle cx="335.23" cy="760.44" r="3.0" fill="#ed1c26"/>
<circle cx="410.13" cy="714.42" r="3.0" fill="#ed1c26"/>
<circle cx="413.72" cy="678.43" r="3.0" fill="#ed1c26"/>
<circle cx="357.69" cy="693.35" r="3.0" fill="#ed1c26"/>
<circle cx="366.14" cy="675.16" r="3.0" fill="#ed1c26"/>
<circle cx="416.47" cy="660.25" r="3.0" fill="#ed1c26"/>
<circle cx="379.89" cy="703.78" r="3.0" fill="#ed1c26"/>
<circle cx="347.70" cy="646.00" r="3.0" fill="#ed1c26"/>
<circle cx="368.63" cy="727.26" r="3.0" fill="#ed1c26"/>
<circle cx="419.08" cy="696.57" r="3.0" fill="#ed1c26"/>
<circle cx="397.08" cy="670.92" r="3.0" fill="#ed1c26"/>
<circle cx="423.71" cy="673.90" r="3.0" fill="#ed1c26"/>
<circle cx="367.43" cy="739.14" r="3.0" fill="#ed1c26"/>
<circle cx="393.11" cy="709.30" r="3.0" fill="#ed1c26"/>
<circle cx="405.33" cy="692.57" r="3.0" fill="#ed1c26"/>
<circle cx="412.68" cy="662.57" r="3.0" fill="#ed1c26"/>
<circle cx="352.85" cy="721.97" r="3.0" fill="#ed1c26"/>
<circle cx="437.50" cy="695.70" r="3.0" fill="#ed1c26"/>
<circle cx="392.73" cy="731.80" r="3.0" fill="#ed1c26"/>
<circle cx="425.71" cy="675.06" r="3.0" fill="#ed1c26"/>
<circle cx="396.19" cy="730.46" r="3.0" fill="#ed1c26"/>
<circle cx="419.72" cy="689.24" r="3.0" fill="#ed1c26"/>
<circle cx="403.74" cy="691.16" r="3.0" fill="#ed1c26"/>
<circle cx="408.42" cy="712.07" r="3.0" fill="#ed1c26"/>
<circle cx="379.33" cy="701.83" r="3.0" fill="#ed1c26"/>
<circle cx="385.65" cy="689.29" r="3.0" fill="#ed1c26"/>
<circle cx="395.90" cy="710.48" r="3.0" fill="#ed1c26"/>
<circle cx="403.28" cy="682.75" r="3.0" fill="#ed1c26"/>
<circle cx="410.44" cy="723.83" r="3.0" fill="#ed1c26"/>
<circle cx="334.02" cy="724.32" r="3.0" fill="#ed1c26"/>
<circle cx="431.88" cy="670.69" r="3.0" fill="#ed1c26"/>
<circle cx="403.95" cy="665.29" r="3.0" fill="#ed1c26"/>
<circle cx="347.20" cy="660.60" r="3.0" fill="#ed1c26"/>
<circle cx="406.05" cy="692.06" r="3.0" fill="#ed1c26"/>
<circle cx="377.69" cy="728.53" r="3.0" fill="#ed1c26"/>
<circle cx="366.80" cy="680.73" r="3.0" fill="#ed1c26"/>
<circle cx="411.67" cy="717.08" r="3.0" fill="#ed1c26"/>
<circle cx="361.10" cy="668.80" r="3.0" fill="#ed1c26"/>
<circle cx="389.02" cy="671.18" r="3.0" fill="#ed1c26"/>
<circle cx="397.20" cy="766.90" r="3.0" fill="#ed1c26"/>
<circle cx="390.00" cy="648.00" r="3.0" fill="#ed1c26"/>
<circle cx="401.47" cy="729.00" r="3.0" fill="#ed1c26"/>
<circle cx="358.66" cy="733.02" r="3.0" fill="#ed1c26"/>
<circle cx="372.97" cy="699.54" r="3.0" fill="#ed1c26"/>
<circle cx="349.08" cy="723.57" r="3.0" fill="#ed1c26"/>
<circle cx="426.14" cy="721.04" r="3.0" fill="#ed1c26"/>
<circle cx="390.57" cy="666.91" r="3.0" fill="#ed1c26"/>
<circle cx="397.16" cy="711.72" r="3.0" fill="#ed1c26"/>
<circle cx="397.88" cy="688.24" r="3.0" fill="#ed1c26"/>
<circle cx="388.27" cy="695.10" r="3.0" fill="#ed1c26"/>
<circle cx="433.73" cy="653.75" r="3.0" fill="#ed1c26"/>
<circle cx="361.63" cy="737.12" r="3.0" fill="#ed1c26"/>
<circle cx="388.26" cy="709.20" r="3.0" fill="#ed1c26"/>
<circle cx="358.60" cy="762.00" r="3.0" fill="#ed1c26"/>
<circle cx="394.90" cy="690.69" r="3.0" fill="#ed1c26"/>
<circle cx="409.20" cy="666.90" r="3.0" fill="#ed1c26"/>
<circle cx="361.67" cy="714.31" r="3.0" fill="#ed1c26"/>
<circle cx="389.44" cy="734.96" r="3.0" fill="#ed1c26"/>
<circle cx="404.56" cy="721.40" r="3.0" fill="#ed1c26"/>
<circle cx="411.85" cy="667.51" r="3.0" fill="#ed1c26"/>
<circle cx="359.88" cy="706.77" r="3.0" fill="#ed1c26"/>
<circle cx="392.60" cy="750.40" r="3.0" fill="#ed1c26"/>
<circle cx="380.45" cy="699.84" r="3.0" fill="#ed1c26"/>
<circle cx="385.99" cy="686.77" r="3.0" fill="#ed1c26"/>
<circle cx="376.70" cy="662.20" r="3.0" fill="#ed1c26"/>
<circle cx="342.71" cy="686.60" r="3.0" fill="#ed1c26"/>
<circle cx="375.92" cy="688.89" r="3.0" fill="#ed1c26"/>
<circle cx="400.79" cy="720.15" r="3.0" fill="#ed1c26"/>
<circle cx="392.75" cy="716.72" r="3.0" fill="#ed1c26"/>
<circle cx="389.02" cy="711.21" r="3.0" fill="#ed1c26"/>
<circle cx="358.58" cy="728.71" r="3.0" fill="#ed1c26"/>
<circle cx="344.90" cy="677.10" r="3.0" fill="#ed1c26"/>
<circle cx="407.68" cy="734.31" r="3.0" fill="#ed1c26"/>
<circle cx="405.78" cy="697.95" r="3.0" fill="#ed1c26"/>
<circle cx="402.31" cy="728.13" r="3.0" fill="#ed1c26"/>
<circle cx="407.73" cy="711.78" r="3.0" fill="#ed1c26"/>
<circle cx="361.54" cy="699.15" r="3.0" fill="#ed1c26"/>
<circle cx="403.76" cy="718.13" r="3.0" fill="#ed1c26"/>
<circle cx="396.70" cy="662.19" r="3.0" fill="#ed1c26"/>
<circle cx="414.78" cy="664.89" r="3.0" fill="#ed1c26"/>
<circle cx="397.69" cy="725.94" r="3.0" fill="#ed1c26"/>
<circle cx="355.50" cy="705.22" r="3.0" fill="#ed1c26"/>
<circle cx="410.66" cy="665.52" r="3.0" fill="#ed1c26"/>
<circle cx="400.43" cy="703.10" r="3.0" fill="#ed1c26"/>
<circle cx="354.39" cy="720.86" r="3.0" fill="#ed1c26"/>
<circle cx="406.80" cy="692.39" r="3.0" fill="#ed1c26"/>
<circle cx="397.63" cy="716.75" r="3.0" fill="#ed1c26"/>
<circle cx="397.60" cy="728.90" r="3.0" fill="#ed1c26"/>
<circle cx="344.60" cy="677.30" r="3.0" fill="#ed1c26"/>
<circle cx="393.01" cy="663.30" r="3.0" fill="#ed1c26"/>
<circle cx="418.20" cy="667.73" r="3.0" fill="#ed1c26"/>
<circle cx="397.24" cy="687.78" r="3.0" fill="#ed1c26"/>
<circle cx="379.85" cy="679.76" r="3.0" fill="#ed1c26"/>
<circle cx="415.64" cy="703.27" r="3.0" fill="#ed1c26"/>
<circle cx="361.30" cy="734.98" r="3.0" fill="#ed1c26"/>
<circle cx="413.74" cy="698.95" r="3.0" fill="#ed1c26"/>
<circle cx="376.22" cy="673.99" r="3.0" fill="#ed1c26"/>
<circle cx="354.79" cy="731.11" r="3.0" fill="#ed1c26"/>
<circle cx="363.32" cy="664.64" r="3.0" fill="#ed1c26"/>
<circle cx="403.76" cy="719.08" r="3.0" fill="#ed1c26"/>
<circle cx="406.18" cy="668.50" r="3.0" fill="#ed1c26"/>
<circle cx="388.93" cy="724.31" r="3.0" fill="#ed1c26"/>
<circle cx="430.83" cy="665.51" r="3.0" fill="#ed1c26"/>
<circle cx="399.25" cy="685.82" r="3.0" fill="#ed1c26"/>
<circle cx="316.50" cy="700.00" r="3.0" fill="#ed1c26"/>
<circle cx="398.92" cy="661.56" r="3.0" fill="#ed1c26"/>
<circle cx="349.90" cy="658.70" r="3.0" fill="#ed1c26"/>
<circle cx="348.45" cy="716.40" r="3.0" fill="#ed1c26"/>
<circle cx="405.70" cy="754.80" r="3.0" fill="#ed1c26"/>
<circle cx="349.90" cy="749.30" r="3.0" fill="#ed1c26"/>
<circle cx="429.90" cy="691.20" r="3.0" fill="#ed1c26"/>
<circle cx="375.25" cy="707.64" r="3.0" fill="#ed1c26"/>
<circle cx="359.45" cy="745.59" r="3.0" fill="#ed1c26"/>
<circle cx="413.09" cy="691.05" r="3.0" fill="#ed1c26"/>
<circle cx="396.58" cy="687.57" r="3.0" fill="#ed1c26"/>
<circle cx="375.81" cy="737.93" r="3.0" fill="#ed1c26"/>
<circle cx="355.62" cy="716.67" r="3.0" fill="#ed1c26"/>
<circle cx="379.41" cy="706.03" r="3.0" fill="#ed1c26"/>
<circle cx="406.82" cy="709.39" r="3.0" fill="#ed1c26"/>
<circle cx="380.95" cy="667.45" r="3.0" fill="#ed1c26"/>
<circle cx="376.26" cy="715.30" r="3.0" fill="#ed1c26"/>
<circle cx="412.30" cy="641.00" r="3.0" fill="#ed1c26"/>
<circle cx="408.87" cy="685.64" r="3.0" fill="#ed1c26"/>
<circle cx="362.96" cy="679.97" r="3.0" fill="#ed1c26"/>
<circle cx="423.51" cy="654.70" r="3.0" fill="#ed1c26"/>
<circle cx="349.46" cy="708.03" r="3.0" fill="#ed1c26"/>
<circle cx="423.68" cy="664.70" r="3.0" fill="#ed1c26"/>
<circle cx="402.05" cy="672.85" r="3.0" fill="#ed1c26"/>
<circle cx="421.69" cy="659.22" r="3.0" fill="#ed1c26"/>
<circle cx="401.98" cy="669.91" r="3.0" fill="#ed1c26"/>
<circle cx="392.53" cy="678.53" r="3.0" fill="#ed1c26"/>
<circle cx="341.40" cy="709.24" r="3.0" fill="#ed1c26"/>
<circle cx="356.50" cy="673.20" r="3.0" fill="#ed1c26"/>
<circle cx="382.04" cy="666.60" r="3.0" fill="#ed1c26"/>
<circle cx="360.02" cy="656.93" r="3.0" fill="#ed1c26"/>
<circle cx="387.80" cy="703.73" r="3.0" fill="#ed1c26"/>
<circle cx="390.97" cy="700.30" r="3.0" fill="#ed1c26"/>
<circle cx="424.26" cy="682.84" r="3.0" fill="#ed1c26"/>
<circle cx="365.32" cy="674.29" r="3.0" fill="#ed1c26"/>
<circle cx="420.33" cy="653.97" r="3.0" fill="#ed1c26"/>
<circle cx="399.80" cy="752.60" r="3.0" fill="#ed1c26"/>
<circle cx="346.35" cy="693.05" r="3.0" fill="#ed1c26"/>
<circle cx="419.35" cy="668.67" r="3.0" fill="#ed1c26"/>
<circle cx="379.50" cy="696.82" r="3.0" fill="#ed1c26"/>
<circle cx="356.26" cy="719.48" r="3.0" fill="#ed1c26"/>
<circle cx="401.77" cy="712.85" r="3.0" fill="#ed1c26"/>
<circle cx="368.03" cy="685.46" r="3.0" fill="#ed1c26"/>
<circle cx="345.55" cy="700.49" r="3.0" fill="#ed1c26"/>
<circle cx="347.61" cy="716.43" r="3.0" fill="#ed1c26"/>
<circle cx="393.61" cy="715.43" r="3.0" fill="#ed1c26"/>
<circle cx="364.26" cy="706.53" r="3.0" fill="#ed1c26"/>
<circle cx="443.40" cy="707.10" r="3.0" fill="#ed1c26"/>
<circle cx="359.59" cy="698.23" r="3.0" fill="#ed1c26"/>
<circle cx="370.93" cy="732.43" r="3.0" fill="#ed1c26"/>
<circle cx="374.60" cy="717.41" r="3.0" fill="#ed1c26"/>
<circle cx="345.03" cy="716.08" r="3.0" fill="#ed1c26"/>
<circle cx="437.90" cy="647.10" r="3.0" fill="#ed1c26"/>
<circle cx="373.46" cy="713.92" r="3.0" fill="#ed1c26"/>
<circle cx="432.70" cy="681.50" r="3.0" fill="#ed1c26"/>
<circle cx="389.33" cy="686.54" r="3.0" fill="#ed1c26"/>
<circle cx="355.40" cy="693.40" r="3.0" fill="#ed1c26"/>
<circle cx="381.72" cy="680.41" r="3.0" fill="#ed1c26"/>
<circle cx="410.38" cy="679.49" r="3.0" fill="#ed1c26"/>
<circle cx="402.36" cy="674.49" r="3.0" fill="#ed1c26"/>
<circle cx="396.20" cy="710.62" r="3.0" fill="#ed1c26"/>
<circle cx="400.65" cy="731.28" r="3.0" fill="#ed1c26"/>
<circle cx="375.96" cy="699.64" r="3.0" fill="#ed1c26"/>
<circle cx="386.45" cy="667.83" r="3.0" fill="#ed1c26"/>
<circle cx="397.02" cy="674.26" r="3.0" fill="#ed1c26"/>
<circle cx="411.78" cy="711.29" r="3.0" fill="#ed1c26"/>
<circle cx="357.48" cy="730.54" r="3.0" fill="#ed1c26"/>
<line x1="316.30" y1="731.00" x2="443.90" y2="668.20" stroke="#1a1a1a" stroke-width="1.5" stroke-linecap="butt"/>
<text x="276.00" y="699.00" font-size="9.0" text-anchor="middle" fill="#333" font-weight="normal" font-style="normal" transform="rotate(-90 276.00 699.00)">log<tspan dy="2" font-size="6.48">2</tspan><tspan dy="-2">fc</tspan> of inter-TAD distance - sgNR4A1</text>
<text x="384.00" y="794.80" font-size="9.0" text-anchor="middle" fill="#333" font-weight="normal" font-style="normal">log<tspan dy="2" font-size="6.48">2</tspan><tspan dy="-2">fc</tspan> of inter-TAD distance - sgPCBP1</text>
<text x="471.60" y="610.80" font-size="11.5" font-weight="bold" fill="#000" stroke="#000" stroke-width="0.35">l</text>
<line x1="515.60" y1="620.40" x2="515.60" y2="773.00" stroke="#7a7a7a" stroke-width="0.8" stroke-linecap="butt"/>
<line x1="515.20" y1="773.00" x2="668.70" y2="773.00" stroke="#7a7a7a" stroke-width="0.8" stroke-linecap="butt"/>
<line x1="515.60" y1="620.40" x2="519.80" y2="620.40" stroke="#7a7a7a" stroke-width="0.7" stroke-linecap="butt"/>
<text x="511.20" y="623.30" font-size="7.8" text-anchor="end" fill="#333" font-weight="normal" font-style="normal">0.4</text>
<line x1="515.60" y1="642.30" x2="519.80" y2="642.30" stroke="#7a7a7a" stroke-width="0.7" stroke-linecap="butt"/>
<text x="511.20" y="645.20" font-size="7.8" text-anchor="end" fill="#333" font-weight="normal" font-style="normal">0.3</text>
<line x1="515.60" y1="664.20" x2="519.80" y2="664.20" stroke="#7a7a7a" stroke-width="0.7" stroke-linecap="butt"/>
<text x="511.20" y="667.10" font-size="7.8" text-anchor="end" fill="#333" font-weight="normal" font-style="normal">0.2</text>
<line x1="515.60" y1="686.10" x2="519.80" y2="686.10" stroke="#7a7a7a" stroke-width="0.7" stroke-linecap="butt"/>
<text x="511.20" y="689.00" font-size="7.8" text-anchor="end" fill="#333" font-weight="normal" font-style="normal">0.1</text>
<line x1="515.60" y1="708.00" x2="519.80" y2="708.00" stroke="#7a7a7a" stroke-width="0.7" stroke-linecap="butt"/>
<text x="511.20" y="710.90" font-size="7.8" text-anchor="end" fill="#333" font-weight="normal" font-style="normal">0</text>
<line x1="515.60" y1="729.90" x2="519.80" y2="729.90" stroke="#7a7a7a" stroke-width="0.7" stroke-linecap="butt"/>
<text x="511.20" y="732.80" font-size="7.8" text-anchor="end" fill="#333" font-weight="normal" font-style="normal">−0.1</text>
<line x1="515.60" y1="751.80" x2="519.80" y2="751.80" stroke="#7a7a7a" stroke-width="0.7" stroke-linecap="butt"/>
<text x="511.20" y="754.70" font-size="7.8" text-anchor="end" fill="#333" font-weight="normal" font-style="normal">−0.2</text>
<line x1="515.60" y1="773.70" x2="519.80" y2="773.70" stroke="#7a7a7a" stroke-width="0.7" stroke-linecap="butt"/>
<text x="511.20" y="776.60" font-size="7.8" text-anchor="end" fill="#333" font-weight="normal" font-style="normal">−0.3</text>
<line x1="515.70" y1="773.00" x2="515.70" y2="768.80" stroke="#7a7a7a" stroke-width="0.7" stroke-linecap="butt"/>
<text x="515.70" y="783.30" font-size="7.8" text-anchor="middle" fill="#333" font-weight="normal" font-style="normal">−0.4</text>
<line x1="537.55" y1="773.00" x2="537.55" y2="768.80" stroke="#7a7a7a" stroke-width="0.7" stroke-linecap="butt"/>
<text x="537.55" y="783.30" font-size="7.8" text-anchor="middle" fill="#333" font-weight="normal" font-style="normal">−0.3</text>
<line x1="559.40" y1="773.00" x2="559.40" y2="768.80" stroke="#7a7a7a" stroke-width="0.7" stroke-linecap="butt"/>
<text x="559.40" y="783.30" font-size="7.8" text-anchor="middle" fill="#333" font-weight="normal" font-style="normal">−0.2</text>
<line x1="581.25" y1="773.00" x2="581.25" y2="768.80" stroke="#7a7a7a" stroke-width="0.7" stroke-linecap="butt"/>
<text x="581.25" y="783.30" font-size="7.8" text-anchor="middle" fill="#333" font-weight="normal" font-style="normal">−0.1</text>
<line x1="603.10" y1="773.00" x2="603.10" y2="768.80" stroke="#7a7a7a" stroke-width="0.7" stroke-linecap="butt"/>
<text x="603.10" y="783.30" font-size="7.8" text-anchor="middle" fill="#333" font-weight="normal" font-style="normal">0</text>
<line x1="624.95" y1="773.00" x2="624.95" y2="768.80" stroke="#7a7a7a" stroke-width="0.7" stroke-linecap="butt"/>
<text x="624.95" y="783.30" font-size="7.8" text-anchor="middle" fill="#333" font-weight="normal" font-style="normal">0.1</text>
<line x1="646.80" y1="773.00" x2="646.80" y2="768.80" stroke="#7a7a7a" stroke-width="0.7" stroke-linecap="butt"/>
<text x="646.80" y="783.30" font-size="7.8" text-anchor="middle" fill="#333" font-weight="normal" font-style="normal">0.2</text>
<line x1="668.65" y1="773.00" x2="668.65" y2="768.80" stroke="#7a7a7a" stroke-width="0.7" stroke-linecap="butt"/>
<text x="668.65" y="783.30" font-size="7.8" text-anchor="middle" fill="#333" font-weight="normal" font-style="normal">0.3</text>
<text x="524.40" y="628.00" font-size="8.5" text-anchor="start" fill="#333" font-weight="normal" font-style="normal"><tspan font-style="italic">P</tspan><tspan font-size="7.4"> = </tspan>1.1<tspan font-size="7.4"> × </tspan>10<tspan dy="-3.6" font-size="5.4">−11</tspan></text>
<text x="524.40" y="638.60" font-size="8.5" text-anchor="start" fill="#333" font-weight="normal" font-style="normal"><tspan font-style="italic">R</tspan> = 0.35</text>
<circle cx="590.95" cy="718.23" r="3.0" fill="#ed1c26"/>
<circle cx="544.24" cy="742.13" r="3.0" fill="#ed1c26"/>
<circle cx="596.98" cy="730.70" r="3.0" fill="#ed1c26"/>
<circle cx="623.91" cy="700.44" r="3.0" fill="#ed1c26"/>
<circle cx="602.37" cy="717.17" r="3.0" fill="#ed1c26"/>
<circle cx="578.88" cy="738.13" r="3.0" fill="#ed1c26"/>
<circle cx="598.20" cy="700.25" r="3.0" fill="#ed1c26"/>
<circle cx="587.93" cy="688.89" r="3.0" fill="#ed1c26"/>
<circle cx="562.46" cy="731.49" r="3.0" fill="#ed1c26"/>
<circle cx="597.06" cy="710.05" r="3.0" fill="#ed1c26"/>
<circle cx="608.02" cy="721.53" r="3.0" fill="#ed1c26"/>
<circle cx="570.71" cy="724.71" r="3.0" fill="#ed1c26"/>
<circle cx="615.03" cy="725.40" r="3.0" fill="#ed1c26"/>
<circle cx="610.59" cy="728.55" r="3.0" fill="#ed1c26"/>
<circle cx="556.90" cy="737.33" r="3.0" fill="#ed1c26"/>
<circle cx="602.91" cy="716.52" r="3.0" fill="#ed1c26"/>
<circle cx="565.69" cy="726.08" r="3.0" fill="#ed1c26"/>
<circle cx="582.89" cy="735.27" r="3.0" fill="#ed1c26"/>
<circle cx="603.14" cy="721.39" r="3.0" fill="#ed1c26"/>
<circle cx="620.92" cy="713.51" r="3.0" fill="#ed1c26"/>
<circle cx="563.98" cy="724.82" r="3.0" fill="#ed1c26"/>
<circle cx="614.82" cy="711.38" r="3.0" fill="#ed1c26"/>
<circle cx="590.56" cy="698.39" r="3.0" fill="#ed1c26"/>
<circle cx="568.30" cy="702.54" r="3.0" fill="#ed1c26"/>
<circle cx="575.60" cy="728.01" r="3.0" fill="#ed1c26"/>
<circle cx="544.03" cy="733.36" r="3.0" fill="#ed1c26"/>
<circle cx="592.04" cy="741.61" r="3.0" fill="#ed1c26"/>
<circle cx="598.68" cy="713.47" r="3.0" fill="#ed1c26"/>
<circle cx="617.53" cy="710.65" r="3.0" fill="#ed1c26"/>
<circle cx="591.45" cy="728.97" r="3.0" fill="#ed1c26"/>
<circle cx="616.91" cy="689.82" r="3.0" fill="#ed1c26"/>
<circle cx="593.36" cy="690.50" r="3.0" fill="#ed1c26"/>
<circle cx="554.31" cy="735.40" r="3.0" fill="#ed1c26"/>
<circle cx="613.16" cy="707.37" r="3.0" fill="#ed1c26"/>
<circle cx="599.24" cy="697.51" r="3.0" fill="#ed1c26"/>
<circle cx="567.34" cy="724.57" r="3.0" fill="#ed1c26"/>
<circle cx="573.92" cy="723.33" r="3.0" fill="#ed1c26"/>
<circle cx="625.60" cy="682.00" r="3.0" fill="#ed1c26"/>
<circle cx="584.35" cy="700.90" r="3.0" fill="#ed1c26"/>
<circle cx="566.06" cy="732.85" r="3.0" fill="#ed1c26"/>
<circle cx="569.04" cy="712.66" r="3.0" fill="#ed1c26"/>
<circle cx="582.08" cy="729.45" r="3.0" fill="#ed1c26"/>
<circle cx="600.40" cy="767.70" r="3.0" fill="#ed1c26"/>
<circle cx="592.36" cy="690.71" r="3.0" fill="#ed1c26"/>
<circle cx="652.50" cy="716.60" r="3.0" fill="#ed1c26"/>
<circle cx="550.30" cy="716.67" r="3.0" fill="#ed1c26"/>
<circle cx="606.12" cy="719.57" r="3.0" fill="#ed1c26"/>
<circle cx="539.84" cy="744.36" r="3.0" fill="#ed1c26"/>
<circle cx="605.31" cy="721.78" r="3.0" fill="#ed1c26"/>
<circle cx="579.57" cy="696.98" r="3.0" fill="#ed1c26"/>
<circle cx="524.90" cy="739.60" r="3.0" fill="#ed1c26"/>
<circle cx="587.71" cy="707.09" r="3.0" fill="#ed1c26"/>
<circle cx="573.35" cy="732.13" r="3.0" fill="#ed1c26"/>
<circle cx="572.29" cy="741.43" r="3.0" fill="#ed1c26"/>
<circle cx="596.34" cy="729.50" r="3.0" fill="#ed1c26"/>
<circle cx="524.90" cy="728.70" r="3.0" fill="#ed1c26"/>
<circle cx="580.88" cy="732.08" r="3.0" fill="#ed1c26"/>
<circle cx="569.48" cy="736.74" r="3.0" fill="#ed1c26"/>
<circle cx="550.00" cy="750.60" r="3.0" fill="#ed1c26"/>
<circle cx="570.80" cy="757.10" r="3.0" fill="#ed1c26"/>
<circle cx="570.35" cy="734.94" r="3.0" fill="#ed1c26"/>
<circle cx="565.96" cy="700.83" r="3.0" fill="#ed1c26"/>
<circle cx="567.94" cy="709.70" r="3.0" fill="#ed1c26"/>
<circle cx="606.29" cy="697.61" r="3.0" fill="#ed1c26"/>
<circle cx="598.74" cy="716.52" r="3.0" fill="#ed1c26"/>
<circle cx="628.90" cy="738.50" r="3.0" fill="#ed1c26"/>
<circle cx="551.48" cy="720.49" r="3.0" fill="#ed1c26"/>
<circle cx="608.05" cy="714.32" r="3.0" fill="#ed1c26"/>
<circle cx="543.00" cy="699.60" r="3.0" fill="#ed1c26"/>
<circle cx="577.09" cy="724.45" r="3.0" fill="#ed1c26"/>
<circle cx="588.98" cy="732.53" r="3.0" fill="#ed1c26"/>
<circle cx="572.75" cy="725.91" r="3.0" fill="#ed1c26"/>
<circle cx="624.12" cy="708.94" r="3.0" fill="#ed1c26"/>
<circle cx="621.37" cy="729.32" r="3.0" fill="#ed1c26"/>
<circle cx="625.12" cy="709.63" r="3.0" fill="#ed1c26"/>
<circle cx="568.25" cy="730.18" r="3.0" fill="#ed1c26"/>
<circle cx="558.52" cy="716.02" r="3.0" fill="#ed1c26"/>
<circle cx="552.12" cy="717.93" r="3.0" fill="#ed1c26"/>
<circle cx="619.04" cy="720.10" r="3.0" fill="#ed1c26"/>
<circle cx="604.16" cy="722.29" r="3.0" fill="#ed1c26"/>
<circle cx="629.74" cy="708.66" r="3.0" fill="#ed1c26"/>
<circle cx="565.42" cy="701.53" r="3.0" fill="#ed1c26"/>
<circle cx="567.44" cy="743.79" r="3.0" fill="#ed1c26"/>
<circle cx="547.86" cy="727.36" r="3.0" fill="#ed1c26"/>
<circle cx="598.61" cy="735.08" r="3.0" fill="#ed1c26"/>
<circle cx="592.94" cy="740.44" r="3.0" fill="#ed1c26"/>
<circle cx="637.56" cy="708.89" r="3.0" fill="#ed1c26"/>
<circle cx="596.25" cy="717.46" r="3.0" fill="#ed1c26"/>
<circle cx="579.31" cy="691.70" r="3.0" fill="#ed1c26"/>
<circle cx="577.37" cy="697.85" r="3.0" fill="#ed1c26"/>
<circle cx="614.24" cy="725.01" r="3.0" fill="#ed1c26"/>
<circle cx="598.50" cy="700.73" r="3.0" fill="#ed1c26"/>
<circle cx="606.46" cy="703.93" r="3.0" fill="#ed1c26"/>
<circle cx="577.14" cy="729.74" r="3.0" fill="#ed1c26"/>
<circle cx="560.26" cy="708.05" r="3.0" fill="#ed1c26"/>
<circle cx="617.90" cy="685.30" r="3.0" fill="#ed1c26"/>
<circle cx="570.20" cy="725.21" r="3.0" fill="#ed1c26"/>
<circle cx="591.76" cy="733.16" r="3.0" fill="#ed1c26"/>
<circle cx="567.15" cy="708.35" r="3.0" fill="#ed1c26"/>
<circle cx="562.33" cy="743.00" r="3.0" fill="#ed1c26"/>
<circle cx="608.80" cy="700.85" r="3.0" fill="#ed1c26"/>
<circle cx="562.03" cy="713.38" r="3.0" fill="#ed1c26"/>
<circle cx="579.21" cy="731.04" r="3.0" fill="#ed1c26"/>
<circle cx="612.05" cy="703.32" r="3.0" fill="#ed1c26"/>
<circle cx="581.85" cy="738.45" r="3.0" fill="#ed1c26"/>
<circle cx="617.85" cy="719.29" r="3.0" fill="#ed1c26"/>
<circle cx="620.87" cy="699.92" r="3.0" fill="#ed1c26"/>
<circle cx="621.91" cy="695.91" r="3.0" fill="#ed1c26"/>
<circle cx="617.03" cy="694.46" r="3.0" fill="#ed1c26"/>
<circle cx="610.70" cy="706.16" r="3.0" fill="#ed1c26"/>
<circle cx="638.30" cy="707.40" r="3.0" fill="#ed1c26"/>
<circle cx="592.62" cy="730.39" r="3.0" fill="#ed1c26"/>
<circle cx="643.10" cy="683.40" r="3.0" fill="#ed1c26"/>
<circle cx="560.52" cy="702.05" r="3.0" fill="#ed1c26"/>
<circle cx="624.25" cy="697.86" r="3.0" fill="#ed1c26"/>
<circle cx="627.78" cy="713.51" r="3.0" fill="#ed1c26"/>
<circle cx="578.09" cy="714.52" r="3.0" fill="#ed1c26"/>
<circle cx="573.54" cy="735.91" r="3.0" fill="#ed1c26"/>
<circle cx="620.81" cy="712.82" r="3.0" fill="#ed1c26"/>
<circle cx="570.29" cy="721.37" r="3.0" fill="#ed1c26"/>
<circle cx="581.45" cy="733.70" r="3.0" fill="#ed1c26"/>
<circle cx="609.60" cy="687.70" r="3.0" fill="#ed1c26"/>
<circle cx="553.47" cy="711.03" r="3.0" fill="#ed1c26"/>
<circle cx="572.44" cy="714.69" r="3.0" fill="#ed1c26"/>
<circle cx="560.69" cy="730.19" r="3.0" fill="#ed1c26"/>
<circle cx="582.71" cy="708.20" r="3.0" fill="#ed1c26"/>
<circle cx="539.65" cy="730.65" r="3.0" fill="#ed1c26"/>
<circle cx="612.93" cy="728.67" r="3.0" fill="#ed1c26"/>
<circle cx="580.67" cy="730.84" r="3.0" fill="#ed1c26"/>
<circle cx="588.29" cy="707.39" r="3.0" fill="#ed1c26"/>
<circle cx="570.22" cy="744.31" r="3.0" fill="#ed1c26"/>
<circle cx="581.83" cy="701.36" r="3.0" fill="#ed1c26"/>
<circle cx="590.44" cy="696.82" r="3.0" fill="#ed1c26"/>
<circle cx="597.10" cy="752.80" r="3.0" fill="#ed1c26"/>
<circle cx="560.45" cy="734.12" r="3.0" fill="#ed1c26"/>
<circle cx="557.13" cy="726.00" r="3.0" fill="#ed1c26"/>
<circle cx="574.22" cy="692.85" r="3.0" fill="#ed1c26"/>
<circle cx="565.94" cy="737.60" r="3.0" fill="#ed1c26"/>
<circle cx="565.01" cy="722.13" r="3.0" fill="#ed1c26"/>
<circle cx="579.33" cy="741.94" r="3.0" fill="#ed1c26"/>
<circle cx="567.42" cy="743.56" r="3.0" fill="#ed1c26"/>
<circle cx="560.35" cy="721.05" r="3.0" fill="#ed1c26"/>
<circle cx="582.84" cy="716.81" r="3.0" fill="#ed1c26"/>
<circle cx="616.01" cy="708.20" r="3.0" fill="#ed1c26"/>
<circle cx="572.49" cy="738.23" r="3.0" fill="#ed1c26"/>
<circle cx="603.89" cy="686.73" r="3.0" fill="#ed1c26"/>
<circle cx="600.25" cy="726.47" r="3.0" fill="#ed1c26"/>
<circle cx="584.84" cy="694.15" r="3.0" fill="#ed1c26"/>
<circle cx="587.64" cy="723.92" r="3.0" fill="#ed1c26"/>
<circle cx="580.22" cy="743.74" r="3.0" fill="#ed1c26"/>
<circle cx="605.52" cy="715.35" r="3.0" fill="#ed1c26"/>
<circle cx="568.12" cy="737.63" r="3.0" fill="#ed1c26"/>
<circle cx="574.47" cy="703.25" r="3.0" fill="#ed1c26"/>
<circle cx="612.10" cy="699.39" r="3.0" fill="#ed1c26"/>
<circle cx="565.54" cy="710.40" r="3.0" fill="#ed1c26"/>
<circle cx="577.34" cy="725.56" r="3.0" fill="#ed1c26"/>
<circle cx="570.89" cy="731.07" r="3.0" fill="#ed1c26"/>
<circle cx="554.61" cy="740.03" r="3.0" fill="#ed1c26"/>
<circle cx="574.96" cy="734.44" r="3.0" fill="#ed1c26"/>
<circle cx="588.89" cy="708.15" r="3.0" fill="#ed1c26"/>
<circle cx="598.12" cy="695.03" r="3.0" fill="#ed1c26"/>
<circle cx="581.66" cy="744.70" r="3.0" fill="#ed1c26"/>
<circle cx="612.55" cy="695.67" r="3.0" fill="#ed1c26"/>
<circle cx="610.68" cy="709.36" r="3.0" fill="#ed1c26"/>
<circle cx="568.91" cy="715.64" r="3.0" fill="#ed1c26"/>
<circle cx="556.33" cy="727.70" r="3.0" fill="#ed1c26"/>
<circle cx="603.11" cy="737.47" r="3.0" fill="#ed1c26"/>
<circle cx="581.09" cy="693.07" r="3.0" fill="#ed1c26"/>
<circle cx="564.79" cy="726.62" r="3.0" fill="#ed1c26"/>
<circle cx="580.28" cy="695.58" r="3.0" fill="#ed1c26"/>
<circle cx="630.00" cy="685.50" r="3.0" fill="#ed1c26"/>
<circle cx="595.04" cy="708.93" r="3.0" fill="#ed1c26"/>
<circle cx="541.30" cy="752.10" r="3.0" fill="#ed1c26"/>
<circle cx="646.40" cy="696.50" r="3.0" fill="#ed1c26"/>
<circle cx="581.98" cy="712.75" r="3.0" fill="#ed1c26"/>
<circle cx="589.15" cy="699.35" r="3.0" fill="#ed1c26"/>
<circle cx="587.45" cy="730.46" r="3.0" fill="#ed1c26"/>
<circle cx="660.60" cy="702.80" r="3.0" fill="#ed1c26"/>
<circle cx="578.05" cy="718.00" r="3.0" fill="#ed1c26"/>
<circle cx="579.16" cy="700.61" r="3.0" fill="#ed1c26"/>
<circle cx="588.10" cy="718.44" r="3.0" fill="#ed1c26"/>
<circle cx="589.45" cy="707.68" r="3.0" fill="#ed1c26"/>
<circle cx="566.27" cy="735.80" r="3.0" fill="#ed1c26"/>
<circle cx="591.87" cy="734.32" r="3.0" fill="#ed1c26"/>
<circle cx="558.04" cy="717.52" r="3.0" fill="#ed1c26"/>
<circle cx="630.72" cy="723.26" r="3.0" fill="#ed1c26"/>
<circle cx="566.98" cy="703.09" r="3.0" fill="#ed1c26"/>
<circle cx="549.58" cy="723.49" r="3.0" fill="#ed1c26"/>
<circle cx="576.17" cy="724.15" r="3.0" fill="#ed1c26"/>
<circle cx="583.50" cy="682.30" r="3.0" fill="#ed1c26"/>
<circle cx="586.48" cy="742.19" r="3.0" fill="#ed1c26"/>
<circle cx="583.83" cy="708.90" r="3.0" fill="#ed1c26"/>
<circle cx="589.75" cy="698.97" r="3.0" fill="#ed1c26"/>
<circle cx="564.88" cy="722.29" r="3.0" fill="#ed1c26"/>
<circle cx="579.79" cy="737.55" r="3.0" fill="#ed1c26"/>
<circle cx="564.42" cy="723.13" r="3.0" fill="#ed1c26"/>
<circle cx="570.57" cy="710.81" r="3.0" fill="#ed1c26"/>
<circle cx="575.69" cy="709.95" r="3.0" fill="#ed1c26"/>
<circle cx="567.78" cy="710.71" r="3.0" fill="#ed1c26"/>
<circle cx="585.68" cy="720.06" r="3.0" fill="#ed1c26"/>
<circle cx="578.50" cy="745.44" r="3.0" fill="#ed1c26"/>
<circle cx="606.86" cy="729.77" r="3.0" fill="#ed1c26"/>
<circle cx="570.72" cy="746.13" r="3.0" fill="#ed1c26"/>
<circle cx="565.93" cy="737.29" r="3.0" fill="#ed1c26"/>
<circle cx="563.31" cy="732.01" r="3.0" fill="#ed1c26"/>
<circle cx="562.57" cy="737.91" r="3.0" fill="#ed1c26"/>
<circle cx="584.79" cy="713.13" r="3.0" fill="#ed1c26"/>
<circle cx="591.78" cy="741.10" r="3.0" fill="#ed1c26"/>
<circle cx="575.22" cy="706.90" r="3.0" fill="#ed1c26"/>
<circle cx="615.74" cy="722.20" r="3.0" fill="#ed1c26"/>
<circle cx="572.84" cy="735.56" r="3.0" fill="#ed1c26"/>
<circle cx="585.66" cy="722.04" r="3.0" fill="#ed1c26"/>
<circle cx="600.35" cy="718.07" r="3.0" fill="#ed1c26"/>
<circle cx="595.47" cy="737.69" r="3.0" fill="#ed1c26"/>
<circle cx="607.24" cy="711.51" r="3.0" fill="#ed1c26"/>
<circle cx="607.60" cy="721.39" r="3.0" fill="#ed1c26"/>
<circle cx="555.17" cy="713.90" r="3.0" fill="#ed1c26"/>
<circle cx="573.12" cy="708.16" r="3.0" fill="#ed1c26"/>
<circle cx="582.14" cy="727.23" r="3.0" fill="#ed1c26"/>
<circle cx="563.91" cy="701.48" r="3.0" fill="#ed1c26"/>
<circle cx="610.44" cy="685.06" r="3.0" fill="#ed1c26"/>
<circle cx="584.55" cy="700.86" r="3.0" fill="#ed1c26"/>
<circle cx="578.31" cy="729.03" r="3.0" fill="#ed1c26"/>
<circle cx="603.49" cy="710.18" r="3.0" fill="#ed1c26"/>
<circle cx="605.87" cy="725.04" r="3.0" fill="#ed1c26"/>
<circle cx="611.86" cy="699.81" r="3.0" fill="#ed1c26"/>
<circle cx="621.51" cy="683.93" r="3.0" fill="#ed1c26"/>
<circle cx="610.86" cy="738.09" r="3.0" fill="#ed1c26"/>
<circle cx="599.29" cy="724.18" r="3.0" fill="#ed1c26"/>
<circle cx="576.93" cy="699.71" r="3.0" fill="#ed1c26"/>
<circle cx="549.32" cy="735.46" r="3.0" fill="#ed1c26"/>
<circle cx="608.40" cy="717.26" r="3.0" fill="#ed1c26"/>
<circle cx="562.85" cy="700.45" r="3.0" fill="#ed1c26"/>
<circle cx="618.21" cy="712.83" r="3.0" fill="#ed1c26"/>
<circle cx="572.51" cy="740.74" r="3.0" fill="#ed1c26"/>
<circle cx="598.25" cy="692.74" r="3.0" fill="#ed1c26"/>
<circle cx="598.37" cy="701.29" r="3.0" fill="#ed1c26"/>
<circle cx="575.53" cy="734.14" r="3.0" fill="#ed1c26"/>
<circle cx="592.13" cy="717.04" r="3.0" fill="#ed1c26"/>
<circle cx="553.51" cy="733.01" r="3.0" fill="#ed1c26"/>
<circle cx="584.52" cy="689.12" r="3.0" fill="#ed1c26"/>
<circle cx="586.15" cy="690.14" r="3.0" fill="#ed1c26"/>
<circle cx="597.49" cy="693.15" r="3.0" fill="#ed1c26"/>
<circle cx="560.08" cy="708.44" r="3.0" fill="#ed1c26"/>
<circle cx="568.96" cy="733.82" r="3.0" fill="#ed1c26"/>
<circle cx="601.73" cy="694.52" r="3.0" fill="#ed1c26"/>
<circle cx="608.25" cy="726.19" r="3.0" fill="#ed1c26"/>
<circle cx="549.50" cy="730.44" r="3.0" fill="#ed1c26"/>
<circle cx="624.87" cy="710.06" r="3.0" fill="#ed1c26"/>
<circle cx="571.44" cy="702.04" r="3.0" fill="#ed1c26"/>
<circle cx="606.38" cy="711.93" r="3.0" fill="#ed1c26"/>
<circle cx="579.96" cy="701.54" r="3.0" fill="#ed1c26"/>
<circle cx="571.31" cy="737.90" r="3.0" fill="#ed1c26"/>
<circle cx="619.25" cy="717.19" r="3.0" fill="#ed1c26"/>
<circle cx="581.83" cy="741.09" r="3.0" fill="#ed1c26"/>
<circle cx="561.06" cy="719.72" r="3.0" fill="#ed1c26"/>
<circle cx="605.88" cy="701.09" r="3.0" fill="#ed1c26"/>
<circle cx="585.98" cy="741.57" r="3.0" fill="#ed1c26"/>
<circle cx="610.20" cy="717.29" r="3.0" fill="#ed1c26"/>
<circle cx="572.97" cy="730.71" r="3.0" fill="#ed1c26"/>
<circle cx="581.62" cy="696.84" r="3.0" fill="#ed1c26"/>
<circle cx="607.30" cy="699.22" r="3.0" fill="#ed1c26"/>
<circle cx="581.38" cy="695.78" r="3.0" fill="#ed1c26"/>
<circle cx="547.35" cy="734.91" r="3.0" fill="#ed1c26"/>
<circle cx="556.61" cy="734.09" r="3.0" fill="#ed1c26"/>
<circle cx="614.87" cy="718.63" r="3.0" fill="#ed1c26"/>
<circle cx="568.21" cy="720.08" r="3.0" fill="#ed1c26"/>
<circle cx="565.80" cy="686.60" r="3.0" fill="#ed1c26"/>
<circle cx="541.96" cy="721.12" r="3.0" fill="#ed1c26"/>
<circle cx="558.80" cy="697.60" r="3.0" fill="#ed1c26"/>
<circle cx="592.57" cy="734.94" r="3.0" fill="#ed1c26"/>
<circle cx="592.69" cy="723.09" r="3.0" fill="#ed1c26"/>
<circle cx="621.52" cy="722.03" r="3.0" fill="#ed1c26"/>
<circle cx="634.30" cy="679.40" r="3.0" fill="#ed1c26"/>
<circle cx="578.58" cy="727.28" r="3.0" fill="#ed1c26"/>
<circle cx="548.12" cy="741.60" r="3.0" fill="#ed1c26"/>
<circle cx="565.64" cy="733.98" r="3.0" fill="#ed1c26"/>
<circle cx="600.62" cy="705.43" r="3.0" fill="#ed1c26"/>
<circle cx="577.67" cy="734.02" r="3.0" fill="#ed1c26"/>
<circle cx="606.92" cy="727.58" r="3.0" fill="#ed1c26"/>
<circle cx="594.05" cy="714.55" r="3.0" fill="#ed1c26"/>
<circle cx="544.60" cy="690.40" r="3.0" fill="#ed1c26"/>
<circle cx="610.50" cy="637.70" r="3.0" fill="#ed1c26"/>
<circle cx="589.50" cy="706.27" r="3.0" fill="#ed1c26"/>
<circle cx="575.48" cy="747.65" r="3.0" fill="#ed1c26"/>
<circle cx="545.12" cy="722.67" r="3.0" fill="#ed1c26"/>
<circle cx="637.60" cy="684.90" r="3.0" fill="#ed1c26"/>
<circle cx="601.10" cy="694.25" r="3.0" fill="#ed1c26"/>
<circle cx="532.50" cy="718.80" r="3.0" fill="#ed1c26"/>
<circle cx="591.70" cy="703.87" r="3.0" fill="#ed1c26"/>
<circle cx="579.43" cy="717.60" r="3.0" fill="#ed1c26"/>
<circle cx="639.40" cy="679.00" r="3.0" fill="#ed1c26"/>
<circle cx="582.22" cy="707.88" r="3.0" fill="#ed1c26"/>
<circle cx="597.22" cy="709.25" r="3.0" fill="#ed1c26"/>
<circle cx="611.44" cy="731.56" r="3.0" fill="#ed1c26"/>
<circle cx="595.11" cy="743.79" r="3.0" fill="#ed1c26"/>
<circle cx="583.30" cy="736.24" r="3.0" fill="#ed1c26"/>
<circle cx="606.50" cy="682.30" r="3.0" fill="#ed1c26"/>
<circle cx="617.00" cy="691.56" r="3.0" fill="#ed1c26"/>
<circle cx="603.70" cy="753.90" r="3.0" fill="#ed1c26"/>
<circle cx="606.51" cy="724.17" r="3.0" fill="#ed1c26"/>
<circle cx="609.91" cy="693.31" r="3.0" fill="#ed1c26"/>
<circle cx="585.62" cy="726.81" r="3.0" fill="#ed1c26"/>
<circle cx="565.14" cy="713.51" r="3.0" fill="#ed1c26"/>
<circle cx="565.94" cy="698.69" r="3.0" fill="#ed1c26"/>
<circle cx="605.91" cy="715.53" r="3.0" fill="#ed1c26"/>
<circle cx="586.24" cy="705.50" r="3.0" fill="#ed1c26"/>
<circle cx="556.61" cy="715.26" r="3.0" fill="#ed1c26"/>
<circle cx="570.70" cy="701.34" r="3.0" fill="#ed1c26"/>
<circle cx="538.60" cy="720.60" r="3.0" fill="#ed1c26"/>
<circle cx="552.57" cy="706.55" r="3.0" fill="#ed1c26"/>
<circle cx="606.72" cy="694.08" r="3.0" fill="#ed1c26"/>
<circle cx="580.65" cy="721.49" r="3.0" fill="#ed1c26"/>
<circle cx="555.05" cy="719.93" r="3.0" fill="#ed1c26"/>
<circle cx="545.74" cy="725.93" r="3.0" fill="#ed1c26"/>
<circle cx="646.00" cy="692.60" r="3.0" fill="#ed1c26"/>
<circle cx="581.07" cy="727.11" r="3.0" fill="#ed1c26"/>
<circle cx="574.14" cy="731.96" r="3.0" fill="#ed1c26"/>
<circle cx="575.90" cy="760.40" r="3.0" fill="#ed1c26"/>
<circle cx="575.89" cy="697.27" r="3.0" fill="#ed1c26"/>
<circle cx="572.03" cy="703.40" r="3.0" fill="#ed1c26"/>
<circle cx="569.40" cy="704.23" r="3.0" fill="#ed1c26"/>
<circle cx="574.20" cy="730.03" r="3.0" fill="#ed1c26"/>
<circle cx="607.74" cy="705.46" r="3.0" fill="#ed1c26"/>
<circle cx="555.14" cy="747.85" r="3.0" fill="#ed1c26"/>
<circle cx="553.27" cy="749.94" r="3.0" fill="#ed1c26"/>
<circle cx="579.98" cy="700.28" r="3.0" fill="#ed1c26"/>
<circle cx="604.43" cy="683.00" r="3.0" fill="#ed1c26"/>
<circle cx="604.27" cy="698.14" r="3.0" fill="#ed1c26"/>
<circle cx="610.61" cy="723.35" r="3.0" fill="#ed1c26"/>
<circle cx="588.11" cy="744.66" r="3.0" fill="#ed1c26"/>
<circle cx="534.30" cy="748.80" r="3.0" fill="#ed1c26"/>
<circle cx="571.82" cy="711.94" r="3.0" fill="#ed1c26"/>
<circle cx="589.88" cy="701.70" r="3.0" fill="#ed1c26"/>
<circle cx="613.19" cy="688.50" r="3.0" fill="#ed1c26"/>
<circle cx="584.03" cy="722.49" r="3.0" fill="#ed1c26"/>
<circle cx="574.11" cy="697.61" r="3.0" fill="#ed1c26"/>
<circle cx="524.90" cy="710.00" r="3.0" fill="#ed1c26"/>
<circle cx="542.55" cy="721.14" r="3.0" fill="#ed1c26"/>
<circle cx="573.10" cy="696.36" r="3.0" fill="#ed1c26"/>
<circle cx="606.49" cy="730.32" r="3.0" fill="#ed1c26"/>
<circle cx="582.94" cy="697.81" r="3.0" fill="#ed1c26"/>
<circle cx="580.56" cy="690.45" r="3.0" fill="#ed1c26"/>
<circle cx="620.18" cy="728.13" r="3.0" fill="#ed1c26"/>
<circle cx="650.80" cy="709.00" r="3.0" fill="#ed1c26"/>
<circle cx="568.99" cy="728.56" r="3.0" fill="#ed1c26"/>
<circle cx="573.18" cy="695.10" r="3.0" fill="#ed1c26"/>
<circle cx="561.97" cy="743.21" r="3.0" fill="#ed1c26"/>
<circle cx="627.79" cy="701.68" r="3.0" fill="#ed1c26"/>
<circle cx="579.89" cy="698.59" r="3.0" fill="#ed1c26"/>
<circle cx="602.90" cy="701.19" r="3.0" fill="#ed1c26"/>
<line x1="524.80" y1="734.40" x2="660.50" y2="698.50" stroke="#1a1a1a" stroke-width="1.5" stroke-linecap="butt"/>
<text x="489.40" y="695.80" font-size="9.0" text-anchor="middle" fill="#333" font-weight="normal" font-style="normal" transform="rotate(-90 489.40 695.80)">log<tspan dy="2" font-size="6.48">2</tspan><tspan dy="-2">fc</tspan> of inter-TAD distance - sgFOS</text>
<text x="594.40" y="795.20" font-size="9.0" text-anchor="middle" fill="#333" font-weight="normal" font-style="normal">log<tspan dy="2" font-size="6.48">2</tspan><tspan dy="-2">fc</tspan> of inter-TAD distance - sgFAM69B</text>
</svg></body></html>
